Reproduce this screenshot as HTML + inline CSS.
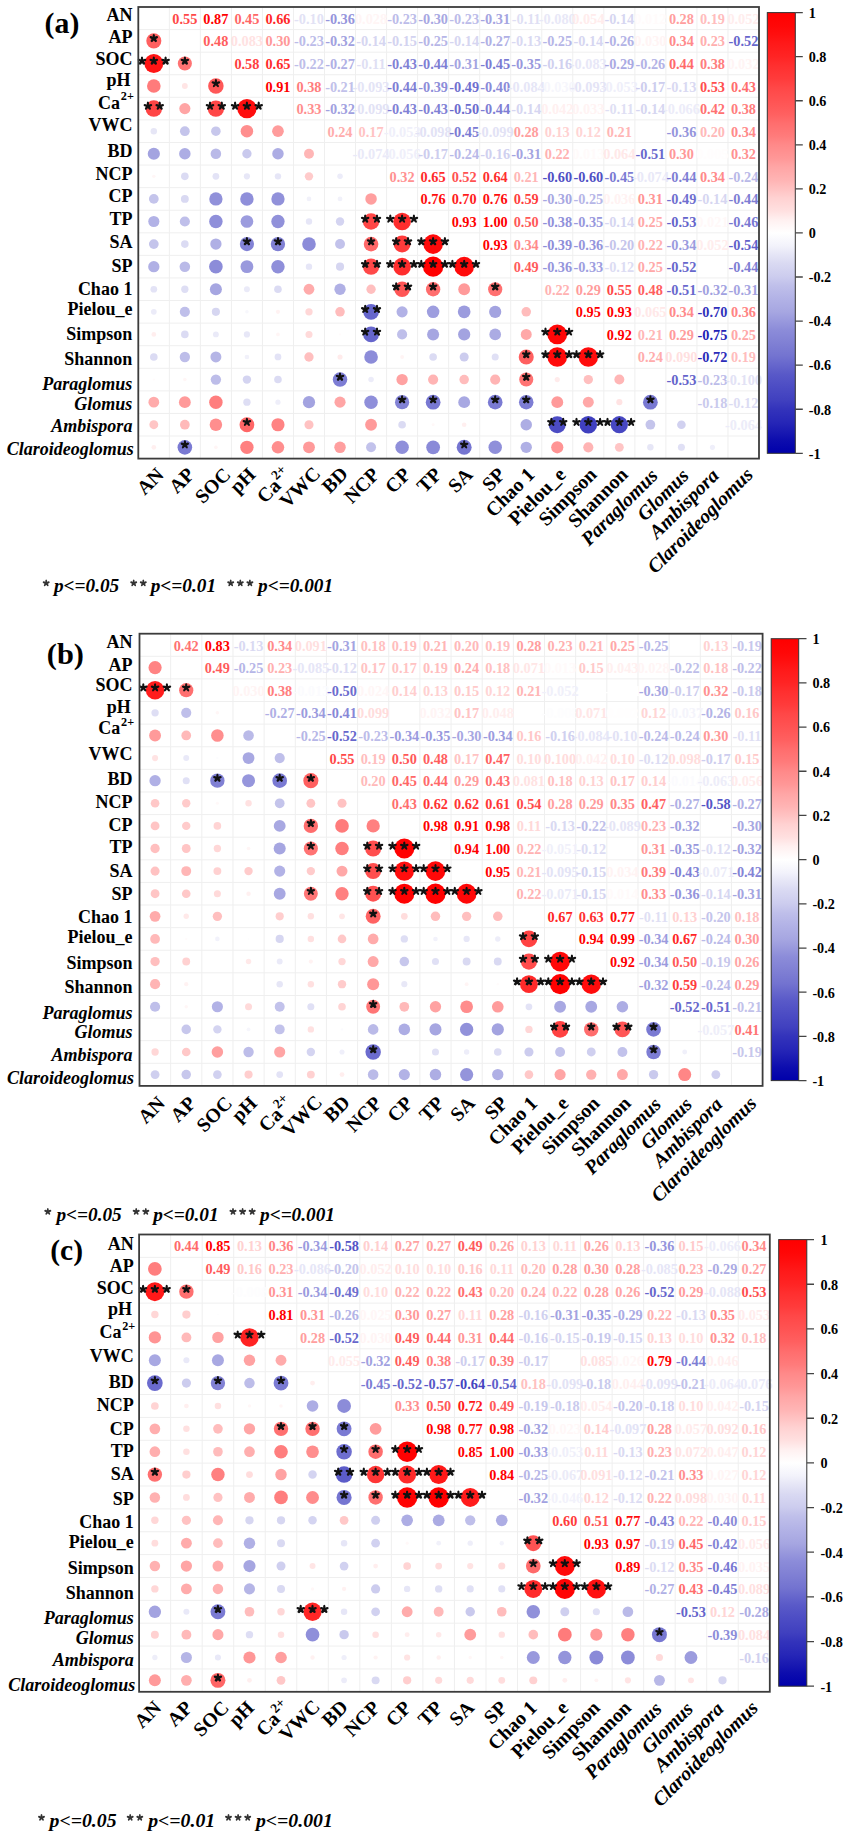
<!DOCTYPE html>
<html><head><meta charset="utf-8"><style>
html,body{margin:0;padding:0;background:#fff;}
svg{display:block;}
</style></head><body>
<svg width="851" height="1838" viewBox="0 0 851 1838">
<rect width="851" height="1838" fill="#fff"/>
<path d="M169.34 7V458.6M138.3 29.58H759M200.37 7V458.6M138.3 52.16H759M231.41 7V458.6M138.3 74.74H759M262.44 7V458.6M138.3 97.32H759M293.48 7V458.6M138.3 119.9H759M324.51 7V458.6M138.3 142.48H759M355.55 7V458.6M138.3 165.06H759M386.58 7V458.6M138.3 187.64H759M417.62 7V458.6M138.3 210.22H759M448.65 7V458.6M138.3 232.8H759M479.69 7V458.6M138.3 255.38H759M510.72 7V458.6M138.3 277.96H759M541.76 7V458.6M138.3 300.54H759M572.79 7V458.6M138.3 323.12H759M603.83 7V458.6M138.3 345.7H759M634.86 7V458.6M138.3 368.28H759M665.89 7V458.6M138.3 390.86H759M696.93 7V458.6M138.3 413.44H759M727.97 7V458.6M138.3 436.02H759" stroke="#efefef" stroke-width="1" fill="none"/>
<circle cx="153.82" cy="40.87" r="7.54" fill="#ff6060"/>
<circle cx="153.82" cy="63.45" r="9.48" fill="#ff1515"/>
<circle cx="184.85" cy="63.45" r="7.04" fill="#ff7373"/>
<circle cx="153.82" cy="86.03" r="6.82" fill="#ff7b7b"/>
<circle cx="184.85" cy="86.03" r="2.93" fill="#ffe5e5"/>
<circle cx="215.89" cy="86.03" r="7.74" fill="#ff5858"/>
<circle cx="153.82" cy="108.61" r="8.25" fill="#ff4444"/>
<circle cx="184.85" cy="108.61" r="5.57" fill="#ffa5a5"/>
<circle cx="215.89" cy="108.61" r="8.19" fill="#ff4747"/>
<circle cx="246.92" cy="108.61" r="9.69" fill="#ff0e0e"/>
<circle cx="153.82" cy="131.19" r="3.21" fill="#e6e6f6"/>
<circle cx="184.85" cy="131.19" r="4.87" fill="#c4c4eb"/>
<circle cx="215.89" cy="131.19" r="4.77" fill="#c7c7ec"/>
<circle cx="246.92" cy="131.19" r="6.26" fill="#ff8e8e"/>
<circle cx="277.96" cy="131.19" r="5.84" fill="#ff9c9c"/>
<circle cx="153.82" cy="153.77" r="6.1" fill="#a3a3e0"/>
<circle cx="184.85" cy="153.77" r="5.75" fill="#adade4"/>
<circle cx="215.89" cy="153.77" r="5.28" fill="#babae8"/>
<circle cx="246.92" cy="153.77" r="4.66" fill="#c9c9ed"/>
<circle cx="277.96" cy="153.77" r="5.75" fill="#adade4"/>
<circle cx="308.99" cy="153.77" r="4.98" fill="#ffb6b6"/>
<circle cx="153.82" cy="176.35" r="1.7" fill="#fff6f6"/>
<circle cx="184.85" cy="176.35" r="3.8" fill="#dbdbf3"/>
<circle cx="215.89" cy="176.35" r="3.37" fill="#e3e3f6"/>
<circle cx="246.92" cy="176.35" r="3.1" fill="#e7e7f7"/>
<circle cx="277.96" cy="176.35" r="3.2" fill="#e6e6f7"/>
<circle cx="308.99" cy="176.35" r="4.19" fill="#ffcbcb"/>
<circle cx="340.03" cy="176.35" r="2.76" fill="#ececf9"/>
<circle cx="153.82" cy="198.93" r="4.87" fill="#c4c4eb"/>
<circle cx="184.85" cy="198.93" r="3.94" fill="#d9d9f2"/>
<circle cx="215.89" cy="198.93" r="6.66" fill="#9191da"/>
<circle cx="246.92" cy="198.93" r="6.74" fill="#8f8fda"/>
<circle cx="277.96" cy="198.93" r="6.66" fill="#9191da"/>
<circle cx="308.99" cy="198.93" r="2.34" fill="#f1f1fa"/>
<circle cx="340.03" cy="198.93" r="2.4" fill="#f1f1fa"/>
<circle cx="371.06" cy="198.93" r="5.75" fill="#ff9f9f"/>
<circle cx="153.82" cy="221.51" r="5.57" fill="#b2b2e6"/>
<circle cx="184.85" cy="221.51" r="5.08" fill="#bfbfea"/>
<circle cx="215.89" cy="221.51" r="6.74" fill="#8f8fda"/>
<circle cx="246.92" cy="221.51" r="6.35" fill="#9c9cde"/>
<circle cx="277.96" cy="221.51" r="6.66" fill="#9191da"/>
<circle cx="308.99" cy="221.51" r="3.18" fill="#e6e6f7"/>
<circle cx="340.03" cy="221.51" r="4.19" fill="#d4d4f1"/>
<circle cx="371.06" cy="221.51" r="8.19" fill="#ff4747"/>
<circle cx="402.1" cy="221.51" r="8.86" fill="#ff2d2d"/>
<circle cx="153.82" cy="244.09" r="4.87" fill="#c4c4eb"/>
<circle cx="184.85" cy="244.09" r="3.8" fill="#dbdbf3"/>
<circle cx="215.89" cy="244.09" r="5.66" fill="#b0b0e5"/>
<circle cx="246.92" cy="244.09" r="7.11" fill="#8282d5"/>
<circle cx="277.96" cy="244.09" r="7.18" fill="#8080d4"/>
<circle cx="308.99" cy="244.09" r="6.82" fill="#8c8cd9"/>
<circle cx="340.03" cy="244.09" r="4.98" fill="#c2c2eb"/>
<circle cx="371.06" cy="244.09" r="7.33" fill="#ff6868"/>
<circle cx="402.1" cy="244.09" r="8.5" fill="#ff3b3b"/>
<circle cx="433.13" cy="244.09" r="9.8" fill="#ff0a0a"/>
<circle cx="153.82" cy="266.67" r="5.66" fill="#b0b0e5"/>
<circle cx="184.85" cy="266.67" r="5.28" fill="#babae8"/>
<circle cx="215.89" cy="266.67" r="6.82" fill="#8c8cd9"/>
<circle cx="246.92" cy="266.67" r="6.43" fill="#9999dd"/>
<circle cx="277.96" cy="266.67" r="6.74" fill="#8f8fda"/>
<circle cx="308.99" cy="266.67" r="3.2" fill="#e6e6f7"/>
<circle cx="340.03" cy="266.67" r="4.06" fill="#d6d6f1"/>
<circle cx="371.06" cy="266.67" r="8.13" fill="#ff4949"/>
<circle cx="402.1" cy="266.67" r="8.86" fill="#ff2d2d"/>
<circle cx="433.13" cy="266.67" r="10.16" fill="#ff0000"/>
<circle cx="464.17" cy="266.67" r="9.8" fill="#ff0a0a"/>
<circle cx="153.82" cy="289.25" r="3.37" fill="#e3e3f6"/>
<circle cx="184.85" cy="289.25" r="3.66" fill="#dedef4"/>
<circle cx="215.89" cy="289.25" r="6.01" fill="#a6a6e1"/>
<circle cx="246.92" cy="289.25" r="2.94" fill="#eaeaf8"/>
<circle cx="277.96" cy="289.25" r="3.8" fill="#dbdbf3"/>
<circle cx="308.99" cy="289.25" r="5.38" fill="#ffabab"/>
<circle cx="340.03" cy="289.25" r="5.66" fill="#b0b0e5"/>
<circle cx="371.06" cy="289.25" r="4.66" fill="#ffbfbf"/>
<circle cx="402.1" cy="289.25" r="7.8" fill="#ff5656"/>
<circle cx="433.13" cy="289.25" r="7.18" fill="#ff6d6d"/>
<circle cx="464.17" cy="289.25" r="5.92" fill="#ff9a9a"/>
<circle cx="495.2" cy="289.25" r="7.11" fill="#ff7070"/>
<circle cx="153.82" cy="311.83" r="2.87" fill="#ebebf8"/>
<circle cx="184.85" cy="311.83" r="5.08" fill="#bfbfea"/>
<circle cx="215.89" cy="311.83" r="4.06" fill="#d6d6f1"/>
<circle cx="246.92" cy="311.83" r="1.76" fill="#f7f7fc"/>
<circle cx="277.96" cy="311.83" r="2.08" fill="#fff2f2"/>
<circle cx="308.99" cy="311.83" r="3.66" fill="#ffd7d7"/>
<circle cx="340.03" cy="311.83" r="4.77" fill="#ffbcbc"/>
<circle cx="371.06" cy="311.83" r="7.87" fill="#6666cc"/>
<circle cx="402.1" cy="311.83" r="5.57" fill="#b2b2e6"/>
<circle cx="433.13" cy="311.83" r="6.26" fill="#9e9edf"/>
<circle cx="464.17" cy="311.83" r="6.35" fill="#9c9cde"/>
<circle cx="495.2" cy="311.83" r="6.1" fill="#a3a3e0"/>
<circle cx="526.24" cy="311.83" r="4.77" fill="#ffbcbc"/>
<circle cx="153.82" cy="334.41" r="2.36" fill="#ffeeee"/>
<circle cx="184.85" cy="334.41" r="3.8" fill="#dbdbf3"/>
<circle cx="215.89" cy="334.41" r="2.93" fill="#eaeaf8"/>
<circle cx="246.92" cy="334.41" r="3.1" fill="#e7e7f7"/>
<circle cx="277.96" cy="334.41" r="1.85" fill="#fff5f5"/>
<circle cx="308.99" cy="334.41" r="3.52" fill="#ffdada"/>
<circle cx="340.03" cy="334.41" r="1.16" fill="#fffbfb"/>
<circle cx="371.06" cy="334.41" r="7.87" fill="#6666cc"/>
<circle cx="402.1" cy="334.41" r="5.08" fill="#bfbfea"/>
<circle cx="433.13" cy="334.41" r="6.01" fill="#a6a6e1"/>
<circle cx="464.17" cy="334.41" r="6.1" fill="#a3a3e0"/>
<circle cx="495.2" cy="334.41" r="5.84" fill="#ababe3"/>
<circle cx="526.24" cy="334.41" r="5.47" fill="#ffa8a8"/>
<circle cx="557.27" cy="334.41" r="9.9" fill="#ff0707"/>
<circle cx="153.82" cy="356.99" r="3.8" fill="#dbdbf3"/>
<circle cx="184.85" cy="356.99" r="5.18" fill="#bdbde9"/>
<circle cx="215.89" cy="356.99" r="5.47" fill="#b5b5e6"/>
<circle cx="246.92" cy="356.99" r="2.34" fill="#f1f1fa"/>
<circle cx="277.96" cy="356.99" r="3.37" fill="#e3e3f6"/>
<circle cx="308.99" cy="356.99" r="4.66" fill="#ffbfbf"/>
<circle cx="340.03" cy="356.99" r="2.57" fill="#ffebeb"/>
<circle cx="371.06" cy="356.99" r="6.82" fill="#8c8cd9"/>
<circle cx="402.1" cy="356.99" r="1.93" fill="#fff4f4"/>
<circle cx="433.13" cy="356.99" r="3.8" fill="#dbdbf3"/>
<circle cx="464.17" cy="356.99" r="4.54" fill="#ccccee"/>
<circle cx="495.2" cy="356.99" r="3.52" fill="#e0e0f5"/>
<circle cx="526.24" cy="356.99" r="7.54" fill="#ff6060"/>
<circle cx="557.27" cy="356.99" r="9.8" fill="#ff0a0a"/>
<circle cx="588.31" cy="356.99" r="9.75" fill="#ff0c0c"/>
<circle cx="153.82" cy="379.57" r="1.11" fill="#fffbfb"/>
<circle cx="184.85" cy="379.57" r="1.76" fill="#fff6f6"/>
<circle cx="215.89" cy="379.57" r="5.18" fill="#bdbde9"/>
<circle cx="246.92" cy="379.57" r="4.19" fill="#d4d4f1"/>
<circle cx="277.96" cy="379.57" r="3.8" fill="#dbdbf3"/>
<circle cx="340.03" cy="379.57" r="7.26" fill="#7d7dd4"/>
<circle cx="371.06" cy="379.57" r="2.76" fill="#ececf9"/>
<circle cx="402.1" cy="379.57" r="5.66" fill="#ffa2a2"/>
<circle cx="433.13" cy="379.57" r="5.08" fill="#ffb4b4"/>
<circle cx="464.17" cy="379.57" r="4.77" fill="#ffbcbc"/>
<circle cx="495.2" cy="379.57" r="5.08" fill="#ffb4b4"/>
<circle cx="526.24" cy="379.57" r="7.04" fill="#ff7373"/>
<circle cx="557.27" cy="379.57" r="2.59" fill="#ffebeb"/>
<circle cx="588.31" cy="379.57" r="4.66" fill="#ffbfbf"/>
<circle cx="619.34" cy="379.57" r="4.98" fill="#ffb6b6"/>
<circle cx="153.82" cy="402.15" r="5.38" fill="#ffabab"/>
<circle cx="184.85" cy="402.15" r="5.92" fill="#ff9a9a"/>
<circle cx="215.89" cy="402.15" r="6.74" fill="#ff7e7e"/>
<circle cx="246.92" cy="402.15" r="3.66" fill="#dedef4"/>
<circle cx="277.96" cy="402.15" r="2.61" fill="#eeeef9"/>
<circle cx="308.99" cy="402.15" r="6.1" fill="#a3a3e0"/>
<circle cx="340.03" cy="402.15" r="5.57" fill="#ffa5a5"/>
<circle cx="371.06" cy="402.15" r="6.74" fill="#8f8fda"/>
<circle cx="402.1" cy="402.15" r="7.11" fill="#8282d5"/>
<circle cx="433.13" cy="402.15" r="7.4" fill="#7878d2"/>
<circle cx="464.17" cy="402.15" r="5.92" fill="#a8a8e2"/>
<circle cx="495.2" cy="402.15" r="7.33" fill="#7a7ad3"/>
<circle cx="526.24" cy="402.15" r="7.26" fill="#7d7dd4"/>
<circle cx="557.27" cy="402.15" r="5.92" fill="#ff9a9a"/>
<circle cx="588.31" cy="402.15" r="5.47" fill="#ffa8a8"/>
<circle cx="619.34" cy="402.15" r="3.05" fill="#ffe3e3"/>
<circle cx="650.38" cy="402.15" r="7.4" fill="#7878d2"/>
<circle cx="153.82" cy="424.73" r="4.43" fill="#ffc5c5"/>
<circle cx="184.85" cy="424.73" r="4.87" fill="#ffb9b9"/>
<circle cx="215.89" cy="424.73" r="6.26" fill="#ff8e8e"/>
<circle cx="246.92" cy="424.73" r="7.4" fill="#ff6666"/>
<circle cx="277.96" cy="424.73" r="6.59" fill="#ff8383"/>
<circle cx="308.99" cy="424.73" r="4.54" fill="#ffc2c2"/>
<circle cx="340.03" cy="424.73" r="0.72" fill="#fffdfd"/>
<circle cx="371.06" cy="424.73" r="5.92" fill="#ff9a9a"/>
<circle cx="402.1" cy="424.73" r="3.8" fill="#dbdbf3"/>
<circle cx="433.13" cy="424.73" r="1.47" fill="#fff8f8"/>
<circle cx="464.17" cy="424.73" r="2.32" fill="#ffefef"/>
<circle cx="526.24" cy="424.73" r="5.75" fill="#adade4"/>
<circle cx="557.27" cy="424.73" r="8.5" fill="#4c4cc4"/>
<circle cx="588.31" cy="424.73" r="8.8" fill="#4040bf"/>
<circle cx="619.34" cy="424.73" r="8.62" fill="#4747c2"/>
<circle cx="650.38" cy="424.73" r="4.87" fill="#c4c4eb"/>
<circle cx="681.41" cy="424.73" r="4.31" fill="#d1d1f0"/>
<circle cx="153.82" cy="447.31" r="2.32" fill="#ffefef"/>
<circle cx="184.85" cy="447.31" r="7.33" fill="#7a7ad3"/>
<circle cx="215.89" cy="447.31" r="1.82" fill="#fff5f5"/>
<circle cx="246.92" cy="447.31" r="6.66" fill="#ff8080"/>
<circle cx="277.96" cy="447.31" r="6.26" fill="#ff8e8e"/>
<circle cx="308.99" cy="447.31" r="5.92" fill="#ff9a9a"/>
<circle cx="340.03" cy="447.31" r="5.75" fill="#ff9f9f"/>
<circle cx="371.06" cy="447.31" r="4.98" fill="#c2c2eb"/>
<circle cx="402.1" cy="447.31" r="6.74" fill="#8f8fda"/>
<circle cx="433.13" cy="447.31" r="6.89" fill="#8a8ad8"/>
<circle cx="464.17" cy="447.31" r="7.47" fill="#7575d1"/>
<circle cx="495.2" cy="447.31" r="6.74" fill="#8f8fda"/>
<circle cx="526.24" cy="447.31" r="5.66" fill="#b0b0e5"/>
<circle cx="557.27" cy="447.31" r="6.1" fill="#ff9494"/>
<circle cx="588.31" cy="447.31" r="5.08" fill="#ffb4b4"/>
<circle cx="619.34" cy="447.31" r="4.43" fill="#ffc5c5"/>
<circle cx="650.38" cy="447.31" r="3.21" fill="#e6e6f6"/>
<circle cx="681.41" cy="447.31" r="3.52" fill="#e0e0f5"/>
<circle cx="712.45" cy="447.31" r="2.57" fill="#efeffa"/>
<g font-family='"Liberation Serif", serif' font-weight="bold" font-size="14.3" text-anchor="middle"><text x="184.85" y="23.79" fill="#ff4848">0.55</text><text x="215.89" y="23.79" fill="#ff0000">0.87</text><text x="246.92" y="23.79" fill="#ff6767">0.45</text><text x="277.96" y="23.79" fill="#ff2828">0.66</text><text x="308.99" y="23.79" fill="#e2e2f5">-0.10</text><text x="340.03" y="23.79" fill="#9595dc">-0.36</text><text x="371.06" y="23.79" fill="#fff5f5">0.028</text><text x="402.1" y="23.79" fill="#bcbce9">-0.23</text><text x="433.13" y="23.79" fill="#a7a7e2">-0.30</text><text x="464.17" y="23.79" fill="#bcbce9">-0.23</text><text x="495.2" y="23.79" fill="#a4a4e1">-0.31</text><text x="526.24" y="23.79" fill="#dfdff4">-0.11</text><text x="557.27" y="23.79" fill="#e8e8f7">-0.080</text><text x="588.31" y="23.79" fill="#ffecec">0.054</text><text x="619.34" y="23.79" fill="#d6d6f1">-0.14</text><text x="650.38" y="23.79" fill="#fffbfb">0.012</text><text x="681.41" y="23.79" fill="#ff9e9e">0.28</text><text x="712.45" y="23.79" fill="#ffbdbd">0.19</text><text x="743.48" y="23.79" fill="#ffeded">0.052</text><text x="215.89" y="46.37" fill="#ff5e5e">0.48</text><text x="246.92" y="46.37" fill="#ffe2e2">0.083</text><text x="277.96" y="46.37" fill="#ff9898">0.30</text><text x="308.99" y="46.37" fill="#bcbce9">-0.23</text><text x="340.03" y="46.37" fill="#a1a1e0">-0.32</text><text x="371.06" y="46.37" fill="#d6d6f1">-0.14</text><text x="402.1" y="46.37" fill="#d3d3f0">-0.15</text><text x="433.13" y="46.37" fill="#b6b6e7">-0.25</text><text x="464.17" y="46.37" fill="#d6d6f1">-0.14</text><text x="495.2" y="46.37" fill="#b0b0e5">-0.27</text><text x="526.24" y="46.37" fill="#d9d9f2">-0.13</text><text x="557.27" y="46.37" fill="#b6b6e7">-0.25</text><text x="588.31" y="46.37" fill="#d6d6f1">-0.14</text><text x="619.34" y="46.37" fill="#b3b3e6">-0.26</text><text x="650.38" y="46.37" fill="#fff4f4">0.030</text><text x="681.41" y="46.37" fill="#ff8a8a">0.34</text><text x="712.45" y="46.37" fill="#ffafaf">0.23</text><text x="743.48" y="46.37" fill="#6767cc">-0.52</text><text x="246.92" y="68.95" fill="#ff4040">0.58</text><text x="277.96" y="68.95" fill="#ff2b2b">0.65</text><text x="308.99" y="68.95" fill="#bebee9">-0.22</text><text x="340.03" y="68.95" fill="#b0b0e5">-0.27</text><text x="371.06" y="68.95" fill="#dfdff4">-0.11</text><text x="402.1" y="68.95" fill="#8181d5">-0.43</text><text x="433.13" y="68.95" fill="#7e7ed4">-0.44</text><text x="464.17" y="68.95" fill="#a4a4e1">-0.31</text><text x="495.2" y="68.95" fill="#7b7bd3">-0.45</text><text x="526.24" y="68.95" fill="#9898dd">-0.35</text><text x="557.27" y="68.95" fill="#d0d0ef">-0.16</text><text x="588.31" y="68.95" fill="#e7e7f7">-0.083</text><text x="619.34" y="68.95" fill="#aaaae3">-0.29</text><text x="650.38" y="68.95" fill="#b3b3e6">-0.26</text><text x="681.41" y="68.95" fill="#ff6a6a">0.44</text><text x="712.45" y="68.95" fill="#ff7d7d">0.38</text><text x="743.48" y="68.95" fill="#fff4f4">0.032</text><text x="277.96" y="91.53" fill="#ff0000">0.91</text><text x="308.99" y="91.53" fill="#ff7d7d">0.38</text><text x="340.03" y="91.53" fill="#c1c1ea">-0.21</text><text x="371.06" y="91.53" fill="#e4e4f6">-0.093</text><text x="402.1" y="91.53" fill="#7e7ed4">-0.44</text><text x="433.13" y="91.53" fill="#8d8dd9">-0.39</text><text x="464.17" y="91.53" fill="#6f6fcf">-0.49</text><text x="495.2" y="91.53" fill="#8a8ad8">-0.40</text><text x="526.24" y="91.53" fill="#e6e6f7">-0.084</text><text x="557.27" y="91.53" fill="#f6f6fc">-0.030</text><text x="588.31" y="91.53" fill="#e4e4f6">-0.093</text><text x="619.34" y="91.53" fill="#efeffa">-0.053</text><text x="650.38" y="91.53" fill="#cdcdee">-0.17</text><text x="681.41" y="91.53" fill="#d9d9f2">-0.13</text><text x="712.45" y="91.53" fill="#ff4e4e">0.53</text><text x="743.48" y="91.53" fill="#ff6d6d">0.43</text><text x="308.99" y="114.11" fill="#ff8e8e">0.33</text><text x="340.03" y="114.11" fill="#a1a1e0">-0.32</text><text x="371.06" y="114.11" fill="#e2e2f5">-0.099</text><text x="402.1" y="114.11" fill="#8181d5">-0.43</text><text x="433.13" y="114.11" fill="#8181d5">-0.43</text><text x="464.17" y="114.11" fill="#6c6cce">-0.50</text><text x="495.2" y="114.11" fill="#7e7ed4">-0.44</text><text x="526.24" y="114.11" fill="#d6d6f1">-0.14</text><text x="557.27" y="114.11" fill="#fff0f0">0.042</text><text x="588.31" y="114.11" fill="#fff3f3">0.033</text><text x="619.34" y="114.11" fill="#dfdff4">-0.11</text><text x="650.38" y="114.11" fill="#d6d6f1">-0.14</text><text x="681.41" y="114.11" fill="#ececf9">-0.066</text><text x="712.45" y="114.11" fill="#ff7171">0.42</text><text x="743.48" y="114.11" fill="#ff7d7d">0.38</text><text x="340.03" y="136.69" fill="#ffacac">0.24</text><text x="371.06" y="136.69" fill="#ffc3c3">0.17</text><text x="402.1" y="136.69" fill="#efeffa">-0.053</text><text x="433.13" y="136.69" fill="#e2e2f5">-0.098</text><text x="464.17" y="136.69" fill="#7b7bd3">-0.45</text><text x="495.2" y="136.69" fill="#e2e2f5">-0.099</text><text x="526.24" y="136.69" fill="#ff9e9e">0.28</text><text x="557.27" y="136.69" fill="#ffd1d1">0.13</text><text x="588.31" y="136.69" fill="#ffd5d5">0.12</text><text x="619.34" y="136.69" fill="#ffb6b6">0.21</text><text x="650.38" y="136.69" fill="#ffffff">0.00</text><text x="681.41" y="136.69" fill="#9595dc">-0.36</text><text x="712.45" y="136.69" fill="#ffb9b9">0.20</text><text x="743.48" y="136.69" fill="#ff8a8a">0.34</text><text x="371.06" y="159.27" fill="#e9e9f8">-0.074</text><text x="402.1" y="159.27" fill="#efeffa">-0.056</text><text x="433.13" y="159.27" fill="#cdcdee">-0.17</text><text x="464.17" y="159.27" fill="#b9b9e8">-0.24</text><text x="495.2" y="159.27" fill="#d0d0ef">-0.16</text><text x="526.24" y="159.27" fill="#a4a4e1">-0.31</text><text x="557.27" y="159.27" fill="#ffb2b2">0.22</text><text x="588.31" y="159.27" fill="#fffafa">0.013</text><text x="619.34" y="159.27" fill="#ffe8e8">0.064</text><text x="650.38" y="159.27" fill="#6969cd">-0.51</text><text x="681.41" y="159.27" fill="#ff9898">0.30</text><text x="712.45" y="159.27" fill="#fffdfd">0.005</text><text x="743.48" y="159.27" fill="#ff9191">0.32</text><text x="402.1" y="181.85" fill="#ff9191">0.32</text><text x="433.13" y="181.85" fill="#ff2b2b">0.65</text><text x="464.17" y="181.85" fill="#ff5252">0.52</text><text x="495.2" y="181.85" fill="#ff2e2e">0.64</text><text x="526.24" y="181.85" fill="#ffb6b6">0.21</text><text x="557.27" y="181.85" fill="#4f4fc4">-0.60</text><text x="588.31" y="181.85" fill="#4f4fc4">-0.60</text><text x="619.34" y="181.85" fill="#7b7bd3">-0.45</text><text x="650.38" y="181.85" fill="#e9e9f8">-0.074</text><text x="681.41" y="181.85" fill="#7e7ed4">-0.44</text><text x="712.45" y="181.85" fill="#ff8a8a">0.34</text><text x="743.48" y="181.85" fill="#b9b9e8">-0.24</text><text x="433.13" y="204.43" fill="#ff0d0d">0.76</text><text x="464.17" y="204.43" fill="#ff1d1d">0.70</text><text x="495.2" y="204.43" fill="#ff0d0d">0.76</text><text x="526.24" y="204.43" fill="#ff3d3d">0.59</text><text x="557.27" y="204.43" fill="#a7a7e2">-0.30</text><text x="588.31" y="204.43" fill="#b6b6e7">-0.25</text><text x="619.34" y="204.43" fill="#fff2f2">0.036</text><text x="650.38" y="204.43" fill="#ff9494">0.31</text><text x="681.41" y="204.43" fill="#6f6fcf">-0.49</text><text x="712.45" y="204.43" fill="#d6d6f1">-0.14</text><text x="743.48" y="204.43" fill="#7e7ed4">-0.44</text><text x="464.17" y="227.01" fill="#ff0000">0.93</text><text x="495.2" y="227.01" fill="#ff0000">1.00</text><text x="526.24" y="227.01" fill="#ff5858">0.50</text><text x="557.27" y="227.01" fill="#9090da">-0.38</text><text x="588.31" y="227.01" fill="#9898dd">-0.35</text><text x="619.34" y="227.01" fill="#d6d6f1">-0.14</text><text x="650.38" y="227.01" fill="#ffa8a8">0.25</text><text x="681.41" y="227.01" fill="#6464cb">-0.53</text><text x="712.45" y="227.01" fill="#fff8f8">0.021</text><text x="743.48" y="227.01" fill="#7878d2">-0.46</text><text x="495.2" y="249.59" fill="#ff0000">0.93</text><text x="526.24" y="249.59" fill="#ff8a8a">0.34</text><text x="557.27" y="249.59" fill="#8d8dd9">-0.39</text><text x="588.31" y="249.59" fill="#9595dc">-0.36</text><text x="619.34" y="249.59" fill="#c4c4eb">-0.20</text><text x="650.38" y="249.59" fill="#ffb2b2">0.22</text><text x="681.41" y="249.59" fill="#9b9bde">-0.34</text><text x="712.45" y="249.59" fill="#ffeded">0.052</text><text x="743.48" y="249.59" fill="#6161ca">-0.54</text><text x="526.24" y="272.17" fill="#ff5b5b">0.49</text><text x="557.27" y="272.17" fill="#9595dc">-0.36</text><text x="588.31" y="272.17" fill="#9e9edf">-0.33</text><text x="619.34" y="272.17" fill="#dcdcf3">-0.12</text><text x="650.38" y="272.17" fill="#ffa8a8">0.25</text><text x="681.41" y="272.17" fill="#6767cc">-0.52</text><text x="712.45" y="272.17" fill="#ffffff">0.00</text><text x="743.48" y="272.17" fill="#7e7ed4">-0.44</text><text x="557.27" y="294.75" fill="#ffb2b2">0.22</text><text x="588.31" y="294.75" fill="#ff9b9b">0.29</text><text x="619.34" y="294.75" fill="#ff4848">0.55</text><text x="650.38" y="294.75" fill="#ff5e5e">0.48</text><text x="681.41" y="294.75" fill="#6969cd">-0.51</text><text x="712.45" y="294.75" fill="#a1a1e0">-0.32</text><text x="743.48" y="294.75" fill="#a4a4e1">-0.31</text><text x="588.31" y="317.33" fill="#ff0000">0.95</text><text x="619.34" y="317.33" fill="#ff0000">0.93</text><text x="650.38" y="317.33" fill="#ffe8e8">0.065</text><text x="681.41" y="317.33" fill="#ff8a8a">0.34</text><text x="712.45" y="317.33" fill="#3232bb">-0.70</text><text x="743.48" y="317.33" fill="#ff8484">0.36</text><text x="619.34" y="339.91" fill="#ff0000">0.92</text><text x="650.38" y="339.91" fill="#ffb6b6">0.21</text><text x="681.41" y="339.91" fill="#ff9b9b">0.29</text><text x="712.45" y="339.91" fill="#2323b6">-0.75</text><text x="743.48" y="339.91" fill="#ffa8a8">0.25</text><text x="650.38" y="362.49" fill="#ffacac">0.24</text><text x="681.41" y="362.49" fill="#ffdfdf">0.090</text><text x="712.45" y="362.49" fill="#2c2cb9">-0.72</text><text x="743.48" y="362.49" fill="#ffbdbd">0.19</text><text x="681.41" y="385.07" fill="#6464cb">-0.53</text><text x="712.45" y="385.07" fill="#bcbce9">-0.23</text><text x="743.48" y="385.07" fill="#e2e2f5">-0.100</text><text x="712.45" y="407.65" fill="#cacaed">-0.18</text><text x="743.48" y="407.65" fill="#dcdcf3">-0.12</text><text x="743.48" y="430.23" fill="#ececf9">-0.064</text></g>
<path fill="#111" d="M153.8 33.9A1.95 1.15 -90 1 0 153.8 37.8A1.95 1.15 -90 1 0 153.8 33.9ZM158.0 36.9A1.95 1.15 -18 1 0 154.3 38.1A1.95 1.15 -18 1 0 158.0 36.9ZM156.4 41.8A1.95 1.15 54 1 0 154.1 38.7A1.95 1.15 54 1 0 156.4 41.8ZM151.2 41.8A1.95 1.15 126 1 0 153.5 38.7A1.95 1.15 126 1 0 151.2 41.8ZM149.6 36.9A1.95 1.15 198 1 0 153.3 38.1A1.95 1.15 198 1 0 149.6 36.9ZM152.72 38.27a1.10 1.10 0 1 0 2.20 0a1.10 1.10 0 1 0 -2.20 0ZM142.0 56.4A1.95 1.15 -90 1 0 142.0 60.4A1.95 1.15 -90 1 0 142.0 56.4ZM146.2 59.5A1.95 1.15 -18 1 0 142.5 60.7A1.95 1.15 -18 1 0 146.2 59.5ZM144.6 64.4A1.95 1.15 54 1 0 142.3 61.3A1.95 1.15 54 1 0 144.6 64.4ZM139.4 64.4A1.95 1.15 126 1 0 141.7 61.3A1.95 1.15 126 1 0 139.4 64.4ZM137.8 59.5A1.95 1.15 198 1 0 141.5 60.7A1.95 1.15 198 1 0 137.8 59.5ZM140.92 60.85a1.10 1.10 0 1 0 2.20 0a1.10 1.10 0 1 0 -2.20 0ZM153.8 56.4A1.95 1.15 -90 1 0 153.8 60.4A1.95 1.15 -90 1 0 153.8 56.4ZM158.0 59.5A1.95 1.15 -18 1 0 154.3 60.7A1.95 1.15 -18 1 0 158.0 59.5ZM156.4 64.4A1.95 1.15 54 1 0 154.1 61.3A1.95 1.15 54 1 0 156.4 64.4ZM151.2 64.4A1.95 1.15 126 1 0 153.5 61.3A1.95 1.15 126 1 0 151.2 64.4ZM149.6 59.5A1.95 1.15 198 1 0 153.3 60.7A1.95 1.15 198 1 0 149.6 59.5ZM152.72 60.85a1.10 1.10 0 1 0 2.20 0a1.10 1.10 0 1 0 -2.20 0ZM165.6 56.4A1.95 1.15 -90 1 0 165.6 60.4A1.95 1.15 -90 1 0 165.6 56.4ZM169.8 59.5A1.95 1.15 -18 1 0 166.1 60.7A1.95 1.15 -18 1 0 169.8 59.5ZM168.2 64.4A1.95 1.15 54 1 0 165.9 61.3A1.95 1.15 54 1 0 168.2 64.4ZM163.0 64.4A1.95 1.15 126 1 0 165.3 61.3A1.95 1.15 126 1 0 163.0 64.4ZM161.4 59.5A1.95 1.15 198 1 0 165.1 60.7A1.95 1.15 198 1 0 161.4 59.5ZM164.52 60.85a1.10 1.10 0 1 0 2.20 0a1.10 1.10 0 1 0 -2.20 0ZM184.9 56.4A1.95 1.15 -90 1 0 184.9 60.4A1.95 1.15 -90 1 0 184.9 56.4ZM189.0 59.5A1.95 1.15 -18 1 0 185.3 60.7A1.95 1.15 -18 1 0 189.0 59.5ZM187.4 64.4A1.95 1.15 54 1 0 185.1 61.3A1.95 1.15 54 1 0 187.4 64.4ZM182.3 64.4A1.95 1.15 126 1 0 184.6 61.3A1.95 1.15 126 1 0 182.3 64.4ZM180.7 59.5A1.95 1.15 198 1 0 184.4 60.7A1.95 1.15 198 1 0 180.7 59.5ZM183.75 60.85a1.10 1.10 0 1 0 2.20 0a1.10 1.10 0 1 0 -2.20 0ZM215.9 79.0A1.95 1.15 -90 1 0 215.9 82.9A1.95 1.15 -90 1 0 215.9 79.0ZM220.1 82.1A1.95 1.15 -18 1 0 216.4 83.3A1.95 1.15 -18 1 0 220.1 82.1ZM218.5 87.0A1.95 1.15 54 1 0 216.2 83.8A1.95 1.15 54 1 0 218.5 87.0ZM213.3 87.0A1.95 1.15 126 1 0 215.6 83.8A1.95 1.15 126 1 0 213.3 87.0ZM211.7 82.1A1.95 1.15 198 1 0 215.4 83.3A1.95 1.15 198 1 0 211.7 82.1ZM214.79 83.43a1.10 1.10 0 1 0 2.20 0a1.10 1.10 0 1 0 -2.20 0ZM147.9 101.6A1.95 1.15 -90 1 0 147.9 105.5A1.95 1.15 -90 1 0 147.9 101.6ZM152.1 104.7A1.95 1.15 -18 1 0 148.4 105.9A1.95 1.15 -18 1 0 152.1 104.7ZM150.5 109.6A1.95 1.15 54 1 0 148.2 106.4A1.95 1.15 54 1 0 150.5 109.6ZM145.3 109.6A1.95 1.15 126 1 0 147.6 106.4A1.95 1.15 126 1 0 145.3 109.6ZM143.7 104.7A1.95 1.15 198 1 0 147.4 105.9A1.95 1.15 198 1 0 143.7 104.7ZM146.82 106.01a1.10 1.10 0 1 0 2.20 0a1.10 1.10 0 1 0 -2.20 0ZM159.7 101.6A1.95 1.15 -90 1 0 159.7 105.5A1.95 1.15 -90 1 0 159.7 101.6ZM163.9 104.7A1.95 1.15 -18 1 0 160.2 105.9A1.95 1.15 -18 1 0 163.9 104.7ZM162.3 109.6A1.95 1.15 54 1 0 160.0 106.4A1.95 1.15 54 1 0 162.3 109.6ZM157.1 109.6A1.95 1.15 126 1 0 159.4 106.4A1.95 1.15 126 1 0 157.1 109.6ZM155.5 104.7A1.95 1.15 198 1 0 159.2 105.9A1.95 1.15 198 1 0 155.5 104.7ZM158.62 106.01a1.10 1.10 0 1 0 2.20 0a1.10 1.10 0 1 0 -2.20 0ZM210.0 101.6A1.95 1.15 -90 1 0 210.0 105.5A1.95 1.15 -90 1 0 210.0 101.6ZM214.2 104.7A1.95 1.15 -18 1 0 210.5 105.9A1.95 1.15 -18 1 0 214.2 104.7ZM212.6 109.6A1.95 1.15 54 1 0 210.3 106.4A1.95 1.15 54 1 0 212.6 109.6ZM207.4 109.6A1.95 1.15 126 1 0 209.7 106.4A1.95 1.15 126 1 0 207.4 109.6ZM205.8 104.7A1.95 1.15 198 1 0 209.5 105.9A1.95 1.15 198 1 0 205.8 104.7ZM208.89 106.01a1.10 1.10 0 1 0 2.20 0a1.10 1.10 0 1 0 -2.20 0ZM221.8 101.6A1.95 1.15 -90 1 0 221.8 105.5A1.95 1.15 -90 1 0 221.8 101.6ZM226.0 104.7A1.95 1.15 -18 1 0 222.3 105.9A1.95 1.15 -18 1 0 226.0 104.7ZM224.4 109.6A1.95 1.15 54 1 0 222.1 106.4A1.95 1.15 54 1 0 224.4 109.6ZM219.2 109.6A1.95 1.15 126 1 0 221.5 106.4A1.95 1.15 126 1 0 219.2 109.6ZM217.6 104.7A1.95 1.15 198 1 0 221.3 105.9A1.95 1.15 198 1 0 217.6 104.7ZM220.69 106.01a1.10 1.10 0 1 0 2.20 0a1.10 1.10 0 1 0 -2.20 0ZM235.1 101.6A1.95 1.15 -90 1 0 235.1 105.5A1.95 1.15 -90 1 0 235.1 101.6ZM239.3 104.7A1.95 1.15 -18 1 0 235.6 105.9A1.95 1.15 -18 1 0 239.3 104.7ZM237.7 109.6A1.95 1.15 54 1 0 235.4 106.4A1.95 1.15 54 1 0 237.7 109.6ZM232.5 109.6A1.95 1.15 126 1 0 234.8 106.4A1.95 1.15 126 1 0 232.5 109.6ZM230.9 104.7A1.95 1.15 198 1 0 234.6 105.9A1.95 1.15 198 1 0 230.9 104.7ZM234.02 106.01a1.10 1.10 0 1 0 2.20 0a1.10 1.10 0 1 0 -2.20 0ZM246.9 101.6A1.95 1.15 -90 1 0 246.9 105.5A1.95 1.15 -90 1 0 246.9 101.6ZM251.1 104.7A1.95 1.15 -18 1 0 247.4 105.9A1.95 1.15 -18 1 0 251.1 104.7ZM249.5 109.6A1.95 1.15 54 1 0 247.2 106.4A1.95 1.15 54 1 0 249.5 109.6ZM244.3 109.6A1.95 1.15 126 1 0 246.6 106.4A1.95 1.15 126 1 0 244.3 109.6ZM242.7 104.7A1.95 1.15 198 1 0 246.4 105.9A1.95 1.15 198 1 0 242.7 104.7ZM245.82 106.01a1.10 1.10 0 1 0 2.20 0a1.10 1.10 0 1 0 -2.20 0ZM258.7 101.6A1.95 1.15 -90 1 0 258.7 105.5A1.95 1.15 -90 1 0 258.7 101.6ZM262.9 104.7A1.95 1.15 -18 1 0 259.2 105.9A1.95 1.15 -18 1 0 262.9 104.7ZM261.3 109.6A1.95 1.15 54 1 0 259.0 106.4A1.95 1.15 54 1 0 261.3 109.6ZM256.1 109.6A1.95 1.15 126 1 0 258.4 106.4A1.95 1.15 126 1 0 256.1 109.6ZM254.5 104.7A1.95 1.15 198 1 0 258.2 105.9A1.95 1.15 198 1 0 254.5 104.7ZM257.62 106.01a1.10 1.10 0 1 0 2.20 0a1.10 1.10 0 1 0 -2.20 0ZM365.2 214.5A1.95 1.15 -90 1 0 365.2 218.4A1.95 1.15 -90 1 0 365.2 214.5ZM369.3 217.6A1.95 1.15 -18 1 0 365.6 218.8A1.95 1.15 -18 1 0 369.3 217.6ZM367.7 222.5A1.95 1.15 54 1 0 365.5 219.3A1.95 1.15 54 1 0 367.7 222.5ZM362.6 222.5A1.95 1.15 126 1 0 364.9 219.3A1.95 1.15 126 1 0 362.6 222.5ZM361.0 217.6A1.95 1.15 198 1 0 364.7 218.8A1.95 1.15 198 1 0 361.0 217.6ZM364.06 218.91a1.10 1.10 0 1 0 2.20 0a1.10 1.10 0 1 0 -2.20 0ZM377.0 214.5A1.95 1.15 -90 1 0 377.0 218.4A1.95 1.15 -90 1 0 377.0 214.5ZM381.1 217.6A1.95 1.15 -18 1 0 377.4 218.8A1.95 1.15 -18 1 0 381.1 217.6ZM379.5 222.5A1.95 1.15 54 1 0 377.3 219.3A1.95 1.15 54 1 0 379.5 222.5ZM374.4 222.5A1.95 1.15 126 1 0 376.7 219.3A1.95 1.15 126 1 0 374.4 222.5ZM372.8 217.6A1.95 1.15 198 1 0 376.5 218.8A1.95 1.15 198 1 0 372.8 217.6ZM375.86 218.91a1.10 1.10 0 1 0 2.20 0a1.10 1.10 0 1 0 -2.20 0ZM390.3 214.5A1.95 1.15 -90 1 0 390.3 218.4A1.95 1.15 -90 1 0 390.3 214.5ZM394.5 217.6A1.95 1.15 -18 1 0 390.8 218.8A1.95 1.15 -18 1 0 394.5 217.6ZM392.9 222.5A1.95 1.15 54 1 0 390.6 219.3A1.95 1.15 54 1 0 392.9 222.5ZM387.7 222.5A1.95 1.15 126 1 0 390.0 219.3A1.95 1.15 126 1 0 387.7 222.5ZM386.1 217.6A1.95 1.15 198 1 0 389.8 218.8A1.95 1.15 198 1 0 386.1 217.6ZM389.20 218.91a1.10 1.10 0 1 0 2.20 0a1.10 1.10 0 1 0 -2.20 0ZM402.1 214.5A1.95 1.15 -90 1 0 402.1 218.4A1.95 1.15 -90 1 0 402.1 214.5ZM406.3 217.6A1.95 1.15 -18 1 0 402.6 218.8A1.95 1.15 -18 1 0 406.3 217.6ZM404.7 222.5A1.95 1.15 54 1 0 402.4 219.3A1.95 1.15 54 1 0 404.7 222.5ZM399.5 222.5A1.95 1.15 126 1 0 401.8 219.3A1.95 1.15 126 1 0 399.5 222.5ZM397.9 217.6A1.95 1.15 198 1 0 401.6 218.8A1.95 1.15 198 1 0 397.9 217.6ZM401.00 218.91a1.10 1.10 0 1 0 2.20 0a1.10 1.10 0 1 0 -2.20 0ZM413.9 214.5A1.95 1.15 -90 1 0 413.9 218.4A1.95 1.15 -90 1 0 413.9 214.5ZM418.1 217.6A1.95 1.15 -18 1 0 414.4 218.8A1.95 1.15 -18 1 0 418.1 217.6ZM416.5 222.5A1.95 1.15 54 1 0 414.2 219.3A1.95 1.15 54 1 0 416.5 222.5ZM411.3 222.5A1.95 1.15 126 1 0 413.6 219.3A1.95 1.15 126 1 0 411.3 222.5ZM409.7 217.6A1.95 1.15 198 1 0 413.4 218.8A1.95 1.15 198 1 0 409.7 217.6ZM412.80 218.91a1.10 1.10 0 1 0 2.20 0a1.10 1.10 0 1 0 -2.20 0ZM246.9 237.1A1.95 1.15 -90 1 0 246.9 241.0A1.95 1.15 -90 1 0 246.9 237.1ZM251.1 240.1A1.95 1.15 -18 1 0 247.4 241.3A1.95 1.15 -18 1 0 251.1 240.1ZM249.5 245.0A1.95 1.15 54 1 0 247.2 241.9A1.95 1.15 54 1 0 249.5 245.0ZM244.3 245.0A1.95 1.15 126 1 0 246.6 241.9A1.95 1.15 126 1 0 244.3 245.0ZM242.7 240.1A1.95 1.15 198 1 0 246.4 241.3A1.95 1.15 198 1 0 242.7 240.1ZM245.82 241.49a1.10 1.10 0 1 0 2.20 0a1.10 1.10 0 1 0 -2.20 0ZM278.0 237.1A1.95 1.15 -90 1 0 278.0 241.0A1.95 1.15 -90 1 0 278.0 237.1ZM282.1 240.1A1.95 1.15 -18 1 0 278.4 241.3A1.95 1.15 -18 1 0 282.1 240.1ZM280.5 245.0A1.95 1.15 54 1 0 278.3 241.9A1.95 1.15 54 1 0 280.5 245.0ZM275.4 245.0A1.95 1.15 126 1 0 277.7 241.9A1.95 1.15 126 1 0 275.4 245.0ZM273.8 240.1A1.95 1.15 198 1 0 277.5 241.3A1.95 1.15 198 1 0 273.8 240.1ZM276.86 241.49a1.10 1.10 0 1 0 2.20 0a1.10 1.10 0 1 0 -2.20 0ZM371.1 237.1A1.95 1.15 -90 1 0 371.1 241.0A1.95 1.15 -90 1 0 371.1 237.1ZM375.2 240.1A1.95 1.15 -18 1 0 371.5 241.3A1.95 1.15 -18 1 0 375.2 240.1ZM373.6 245.0A1.95 1.15 54 1 0 371.4 241.9A1.95 1.15 54 1 0 373.6 245.0ZM368.5 245.0A1.95 1.15 126 1 0 370.8 241.9A1.95 1.15 126 1 0 368.5 245.0ZM366.9 240.1A1.95 1.15 198 1 0 370.6 241.3A1.95 1.15 198 1 0 366.9 240.1ZM369.96 241.49a1.10 1.10 0 1 0 2.20 0a1.10 1.10 0 1 0 -2.20 0ZM396.2 237.1A1.95 1.15 -90 1 0 396.2 241.0A1.95 1.15 -90 1 0 396.2 237.1ZM400.4 240.1A1.95 1.15 -18 1 0 396.7 241.3A1.95 1.15 -18 1 0 400.4 240.1ZM398.8 245.0A1.95 1.15 54 1 0 396.5 241.9A1.95 1.15 54 1 0 398.8 245.0ZM393.6 245.0A1.95 1.15 126 1 0 395.9 241.9A1.95 1.15 126 1 0 393.6 245.0ZM392.0 240.1A1.95 1.15 198 1 0 395.7 241.3A1.95 1.15 198 1 0 392.0 240.1ZM395.10 241.49a1.10 1.10 0 1 0 2.20 0a1.10 1.10 0 1 0 -2.20 0ZM408.0 237.1A1.95 1.15 -90 1 0 408.0 241.0A1.95 1.15 -90 1 0 408.0 237.1ZM412.2 240.1A1.95 1.15 -18 1 0 408.5 241.3A1.95 1.15 -18 1 0 412.2 240.1ZM410.6 245.0A1.95 1.15 54 1 0 408.3 241.9A1.95 1.15 54 1 0 410.6 245.0ZM405.4 245.0A1.95 1.15 126 1 0 407.7 241.9A1.95 1.15 126 1 0 405.4 245.0ZM403.8 240.1A1.95 1.15 198 1 0 407.5 241.3A1.95 1.15 198 1 0 403.8 240.1ZM406.90 241.49a1.10 1.10 0 1 0 2.20 0a1.10 1.10 0 1 0 -2.20 0ZM421.3 237.1A1.95 1.15 -90 1 0 421.3 241.0A1.95 1.15 -90 1 0 421.3 237.1ZM425.5 240.1A1.95 1.15 -18 1 0 421.8 241.3A1.95 1.15 -18 1 0 425.5 240.1ZM423.9 245.0A1.95 1.15 54 1 0 421.6 241.9A1.95 1.15 54 1 0 423.9 245.0ZM418.7 245.0A1.95 1.15 126 1 0 421.0 241.9A1.95 1.15 126 1 0 418.7 245.0ZM417.1 240.1A1.95 1.15 198 1 0 420.9 241.3A1.95 1.15 198 1 0 417.1 240.1ZM420.23 241.49a1.10 1.10 0 1 0 2.20 0a1.10 1.10 0 1 0 -2.20 0ZM433.1 237.1A1.95 1.15 -90 1 0 433.1 241.0A1.95 1.15 -90 1 0 433.1 237.1ZM437.3 240.1A1.95 1.15 -18 1 0 433.6 241.3A1.95 1.15 -18 1 0 437.3 240.1ZM435.7 245.0A1.95 1.15 54 1 0 433.4 241.9A1.95 1.15 54 1 0 435.7 245.0ZM430.5 245.0A1.95 1.15 126 1 0 432.8 241.9A1.95 1.15 126 1 0 430.5 245.0ZM428.9 240.1A1.95 1.15 198 1 0 432.7 241.3A1.95 1.15 198 1 0 428.9 240.1ZM432.03 241.49a1.10 1.10 0 1 0 2.20 0a1.10 1.10 0 1 0 -2.20 0ZM444.9 237.1A1.95 1.15 -90 1 0 444.9 241.0A1.95 1.15 -90 1 0 444.9 237.1ZM449.1 240.1A1.95 1.15 -18 1 0 445.4 241.3A1.95 1.15 -18 1 0 449.1 240.1ZM447.5 245.0A1.95 1.15 54 1 0 445.2 241.9A1.95 1.15 54 1 0 447.5 245.0ZM442.3 245.0A1.95 1.15 126 1 0 444.6 241.9A1.95 1.15 126 1 0 442.3 245.0ZM440.7 240.1A1.95 1.15 198 1 0 444.5 241.3A1.95 1.15 198 1 0 440.7 240.1ZM443.83 241.49a1.10 1.10 0 1 0 2.20 0a1.10 1.10 0 1 0 -2.20 0ZM365.2 259.7A1.95 1.15 -90 1 0 365.2 263.6A1.95 1.15 -90 1 0 365.2 259.7ZM369.3 262.7A1.95 1.15 -18 1 0 365.6 263.9A1.95 1.15 -18 1 0 369.3 262.7ZM367.7 267.6A1.95 1.15 54 1 0 365.5 264.5A1.95 1.15 54 1 0 367.7 267.6ZM362.6 267.6A1.95 1.15 126 1 0 364.9 264.5A1.95 1.15 126 1 0 362.6 267.6ZM361.0 262.7A1.95 1.15 198 1 0 364.7 263.9A1.95 1.15 198 1 0 361.0 262.7ZM364.06 264.07a1.10 1.10 0 1 0 2.20 0a1.10 1.10 0 1 0 -2.20 0ZM377.0 259.7A1.95 1.15 -90 1 0 377.0 263.6A1.95 1.15 -90 1 0 377.0 259.7ZM381.1 262.7A1.95 1.15 -18 1 0 377.4 263.9A1.95 1.15 -18 1 0 381.1 262.7ZM379.5 267.6A1.95 1.15 54 1 0 377.3 264.5A1.95 1.15 54 1 0 379.5 267.6ZM374.4 267.6A1.95 1.15 126 1 0 376.7 264.5A1.95 1.15 126 1 0 374.4 267.6ZM372.8 262.7A1.95 1.15 198 1 0 376.5 263.9A1.95 1.15 198 1 0 372.8 262.7ZM375.86 264.07a1.10 1.10 0 1 0 2.20 0a1.10 1.10 0 1 0 -2.20 0ZM390.3 259.7A1.95 1.15 -90 1 0 390.3 263.6A1.95 1.15 -90 1 0 390.3 259.7ZM394.5 262.7A1.95 1.15 -18 1 0 390.8 263.9A1.95 1.15 -18 1 0 394.5 262.7ZM392.9 267.6A1.95 1.15 54 1 0 390.6 264.5A1.95 1.15 54 1 0 392.9 267.6ZM387.7 267.6A1.95 1.15 126 1 0 390.0 264.5A1.95 1.15 126 1 0 387.7 267.6ZM386.1 262.7A1.95 1.15 198 1 0 389.8 263.9A1.95 1.15 198 1 0 386.1 262.7ZM389.20 264.07a1.10 1.10 0 1 0 2.20 0a1.10 1.10 0 1 0 -2.20 0ZM402.1 259.7A1.95 1.15 -90 1 0 402.1 263.6A1.95 1.15 -90 1 0 402.1 259.7ZM406.3 262.7A1.95 1.15 -18 1 0 402.6 263.9A1.95 1.15 -18 1 0 406.3 262.7ZM404.7 267.6A1.95 1.15 54 1 0 402.4 264.5A1.95 1.15 54 1 0 404.7 267.6ZM399.5 267.6A1.95 1.15 126 1 0 401.8 264.5A1.95 1.15 126 1 0 399.5 267.6ZM397.9 262.7A1.95 1.15 198 1 0 401.6 263.9A1.95 1.15 198 1 0 397.9 262.7ZM401.00 264.07a1.10 1.10 0 1 0 2.20 0a1.10 1.10 0 1 0 -2.20 0ZM413.9 259.7A1.95 1.15 -90 1 0 413.9 263.6A1.95 1.15 -90 1 0 413.9 259.7ZM418.1 262.7A1.95 1.15 -18 1 0 414.4 263.9A1.95 1.15 -18 1 0 418.1 262.7ZM416.5 267.6A1.95 1.15 54 1 0 414.2 264.5A1.95 1.15 54 1 0 416.5 267.6ZM411.3 267.6A1.95 1.15 126 1 0 413.6 264.5A1.95 1.15 126 1 0 411.3 267.6ZM409.7 262.7A1.95 1.15 198 1 0 413.4 263.9A1.95 1.15 198 1 0 409.7 262.7ZM412.80 264.07a1.10 1.10 0 1 0 2.20 0a1.10 1.10 0 1 0 -2.20 0ZM421.3 259.7A1.95 1.15 -90 1 0 421.3 263.6A1.95 1.15 -90 1 0 421.3 259.7ZM425.5 262.7A1.95 1.15 -18 1 0 421.8 263.9A1.95 1.15 -18 1 0 425.5 262.7ZM423.9 267.6A1.95 1.15 54 1 0 421.6 264.5A1.95 1.15 54 1 0 423.9 267.6ZM418.7 267.6A1.95 1.15 126 1 0 421.0 264.5A1.95 1.15 126 1 0 418.7 267.6ZM417.1 262.7A1.95 1.15 198 1 0 420.9 263.9A1.95 1.15 198 1 0 417.1 262.7ZM420.23 264.07a1.10 1.10 0 1 0 2.20 0a1.10 1.10 0 1 0 -2.20 0ZM433.1 259.7A1.95 1.15 -90 1 0 433.1 263.6A1.95 1.15 -90 1 0 433.1 259.7ZM437.3 262.7A1.95 1.15 -18 1 0 433.6 263.9A1.95 1.15 -18 1 0 437.3 262.7ZM435.7 267.6A1.95 1.15 54 1 0 433.4 264.5A1.95 1.15 54 1 0 435.7 267.6ZM430.5 267.6A1.95 1.15 126 1 0 432.8 264.5A1.95 1.15 126 1 0 430.5 267.6ZM428.9 262.7A1.95 1.15 198 1 0 432.7 263.9A1.95 1.15 198 1 0 428.9 262.7ZM432.03 264.07a1.10 1.10 0 1 0 2.20 0a1.10 1.10 0 1 0 -2.20 0ZM444.9 259.7A1.95 1.15 -90 1 0 444.9 263.6A1.95 1.15 -90 1 0 444.9 259.7ZM449.1 262.7A1.95 1.15 -18 1 0 445.4 263.9A1.95 1.15 -18 1 0 449.1 262.7ZM447.5 267.6A1.95 1.15 54 1 0 445.2 264.5A1.95 1.15 54 1 0 447.5 267.6ZM442.3 267.6A1.95 1.15 126 1 0 444.6 264.5A1.95 1.15 126 1 0 442.3 267.6ZM440.7 262.7A1.95 1.15 198 1 0 444.5 263.9A1.95 1.15 198 1 0 440.7 262.7ZM443.83 264.07a1.10 1.10 0 1 0 2.20 0a1.10 1.10 0 1 0 -2.20 0ZM452.4 259.7A1.95 1.15 -90 1 0 452.4 263.6A1.95 1.15 -90 1 0 452.4 259.7ZM456.6 262.7A1.95 1.15 -18 1 0 452.8 263.9A1.95 1.15 -18 1 0 456.6 262.7ZM455.0 267.6A1.95 1.15 54 1 0 452.7 264.5A1.95 1.15 54 1 0 455.0 267.6ZM449.8 267.6A1.95 1.15 126 1 0 452.1 264.5A1.95 1.15 126 1 0 449.8 267.6ZM448.2 262.7A1.95 1.15 198 1 0 451.9 263.9A1.95 1.15 198 1 0 448.2 262.7ZM451.27 264.07a1.10 1.10 0 1 0 2.20 0a1.10 1.10 0 1 0 -2.20 0ZM464.2 259.7A1.95 1.15 -90 1 0 464.2 263.6A1.95 1.15 -90 1 0 464.2 259.7ZM468.4 262.7A1.95 1.15 -18 1 0 464.6 263.9A1.95 1.15 -18 1 0 468.4 262.7ZM466.8 267.6A1.95 1.15 54 1 0 464.5 264.5A1.95 1.15 54 1 0 466.8 267.6ZM461.6 267.6A1.95 1.15 126 1 0 463.9 264.5A1.95 1.15 126 1 0 461.6 267.6ZM460.0 262.7A1.95 1.15 198 1 0 463.7 263.9A1.95 1.15 198 1 0 460.0 262.7ZM463.07 264.07a1.10 1.10 0 1 0 2.20 0a1.10 1.10 0 1 0 -2.20 0ZM476.0 259.7A1.95 1.15 -90 1 0 476.0 263.6A1.95 1.15 -90 1 0 476.0 259.7ZM480.2 262.7A1.95 1.15 -18 1 0 476.4 263.9A1.95 1.15 -18 1 0 480.2 262.7ZM478.6 267.6A1.95 1.15 54 1 0 476.3 264.5A1.95 1.15 54 1 0 478.6 267.6ZM473.4 267.6A1.95 1.15 126 1 0 475.7 264.5A1.95 1.15 126 1 0 473.4 267.6ZM471.8 262.7A1.95 1.15 198 1 0 475.5 263.9A1.95 1.15 198 1 0 471.8 262.7ZM474.87 264.07a1.10 1.10 0 1 0 2.20 0a1.10 1.10 0 1 0 -2.20 0ZM396.2 282.2A1.95 1.15 -90 1 0 396.2 286.1A1.95 1.15 -90 1 0 396.2 282.2ZM400.4 285.3A1.95 1.15 -18 1 0 396.7 286.5A1.95 1.15 -18 1 0 400.4 285.3ZM398.8 290.2A1.95 1.15 54 1 0 396.5 287.1A1.95 1.15 54 1 0 398.8 290.2ZM393.6 290.2A1.95 1.15 126 1 0 395.9 287.1A1.95 1.15 126 1 0 393.6 290.2ZM392.0 285.3A1.95 1.15 198 1 0 395.7 286.5A1.95 1.15 198 1 0 392.0 285.3ZM395.10 286.65a1.10 1.10 0 1 0 2.20 0a1.10 1.10 0 1 0 -2.20 0ZM408.0 282.2A1.95 1.15 -90 1 0 408.0 286.1A1.95 1.15 -90 1 0 408.0 282.2ZM412.2 285.3A1.95 1.15 -18 1 0 408.5 286.5A1.95 1.15 -18 1 0 412.2 285.3ZM410.6 290.2A1.95 1.15 54 1 0 408.3 287.1A1.95 1.15 54 1 0 410.6 290.2ZM405.4 290.2A1.95 1.15 126 1 0 407.7 287.1A1.95 1.15 126 1 0 405.4 290.2ZM403.8 285.3A1.95 1.15 198 1 0 407.5 286.5A1.95 1.15 198 1 0 403.8 285.3ZM406.90 286.65a1.10 1.10 0 1 0 2.20 0a1.10 1.10 0 1 0 -2.20 0ZM433.1 282.2A1.95 1.15 -90 1 0 433.1 286.1A1.95 1.15 -90 1 0 433.1 282.2ZM437.3 285.3A1.95 1.15 -18 1 0 433.6 286.5A1.95 1.15 -18 1 0 437.3 285.3ZM435.7 290.2A1.95 1.15 54 1 0 433.4 287.1A1.95 1.15 54 1 0 435.7 290.2ZM430.5 290.2A1.95 1.15 126 1 0 432.8 287.1A1.95 1.15 126 1 0 430.5 290.2ZM428.9 285.3A1.95 1.15 198 1 0 432.7 286.5A1.95 1.15 198 1 0 428.9 285.3ZM432.03 286.65a1.10 1.10 0 1 0 2.20 0a1.10 1.10 0 1 0 -2.20 0ZM495.2 282.2A1.95 1.15 -90 1 0 495.2 286.1A1.95 1.15 -90 1 0 495.2 282.2ZM499.4 285.3A1.95 1.15 -18 1 0 495.7 286.5A1.95 1.15 -18 1 0 499.4 285.3ZM497.8 290.2A1.95 1.15 54 1 0 495.5 287.1A1.95 1.15 54 1 0 497.8 290.2ZM492.6 290.2A1.95 1.15 126 1 0 494.9 287.1A1.95 1.15 126 1 0 492.6 290.2ZM491.0 285.3A1.95 1.15 198 1 0 494.7 286.5A1.95 1.15 198 1 0 491.0 285.3ZM494.10 286.65a1.10 1.10 0 1 0 2.20 0a1.10 1.10 0 1 0 -2.20 0ZM365.2 304.8A1.95 1.15 -90 1 0 365.2 308.7A1.95 1.15 -90 1 0 365.2 304.8ZM369.3 307.9A1.95 1.15 -18 1 0 365.6 309.1A1.95 1.15 -18 1 0 369.3 307.9ZM367.7 312.8A1.95 1.15 54 1 0 365.5 309.6A1.95 1.15 54 1 0 367.7 312.8ZM362.6 312.8A1.95 1.15 126 1 0 364.9 309.6A1.95 1.15 126 1 0 362.6 312.8ZM361.0 307.9A1.95 1.15 198 1 0 364.7 309.1A1.95 1.15 198 1 0 361.0 307.9ZM364.06 309.23a1.10 1.10 0 1 0 2.20 0a1.10 1.10 0 1 0 -2.20 0ZM377.0 304.8A1.95 1.15 -90 1 0 377.0 308.7A1.95 1.15 -90 1 0 377.0 304.8ZM381.1 307.9A1.95 1.15 -18 1 0 377.4 309.1A1.95 1.15 -18 1 0 381.1 307.9ZM379.5 312.8A1.95 1.15 54 1 0 377.3 309.6A1.95 1.15 54 1 0 379.5 312.8ZM374.4 312.8A1.95 1.15 126 1 0 376.7 309.6A1.95 1.15 126 1 0 374.4 312.8ZM372.8 307.9A1.95 1.15 198 1 0 376.5 309.1A1.95 1.15 198 1 0 372.8 307.9ZM375.86 309.23a1.10 1.10 0 1 0 2.20 0a1.10 1.10 0 1 0 -2.20 0ZM365.2 327.4A1.95 1.15 -90 1 0 365.2 331.3A1.95 1.15 -90 1 0 365.2 327.4ZM369.3 330.5A1.95 1.15 -18 1 0 365.6 331.7A1.95 1.15 -18 1 0 369.3 330.5ZM367.7 335.4A1.95 1.15 54 1 0 365.5 332.2A1.95 1.15 54 1 0 367.7 335.4ZM362.6 335.4A1.95 1.15 126 1 0 364.9 332.2A1.95 1.15 126 1 0 362.6 335.4ZM361.0 330.5A1.95 1.15 198 1 0 364.7 331.7A1.95 1.15 198 1 0 361.0 330.5ZM364.06 331.81a1.10 1.10 0 1 0 2.20 0a1.10 1.10 0 1 0 -2.20 0ZM377.0 327.4A1.95 1.15 -90 1 0 377.0 331.3A1.95 1.15 -90 1 0 377.0 327.4ZM381.1 330.5A1.95 1.15 -18 1 0 377.4 331.7A1.95 1.15 -18 1 0 381.1 330.5ZM379.5 335.4A1.95 1.15 54 1 0 377.3 332.2A1.95 1.15 54 1 0 379.5 335.4ZM374.4 335.4A1.95 1.15 126 1 0 376.7 332.2A1.95 1.15 126 1 0 374.4 335.4ZM372.8 330.5A1.95 1.15 198 1 0 376.5 331.7A1.95 1.15 198 1 0 372.8 330.5ZM375.86 331.81a1.10 1.10 0 1 0 2.20 0a1.10 1.10 0 1 0 -2.20 0ZM545.5 327.4A1.95 1.15 -90 1 0 545.5 331.3A1.95 1.15 -90 1 0 545.5 327.4ZM549.7 330.5A1.95 1.15 -18 1 0 545.9 331.7A1.95 1.15 -18 1 0 549.7 330.5ZM548.1 335.4A1.95 1.15 54 1 0 545.8 332.2A1.95 1.15 54 1 0 548.1 335.4ZM542.9 335.4A1.95 1.15 126 1 0 545.2 332.2A1.95 1.15 126 1 0 542.9 335.4ZM541.3 330.5A1.95 1.15 198 1 0 545.0 331.7A1.95 1.15 198 1 0 541.3 330.5ZM544.37 331.81a1.10 1.10 0 1 0 2.20 0a1.10 1.10 0 1 0 -2.20 0ZM557.3 327.4A1.95 1.15 -90 1 0 557.3 331.3A1.95 1.15 -90 1 0 557.3 327.4ZM561.5 330.5A1.95 1.15 -18 1 0 557.7 331.7A1.95 1.15 -18 1 0 561.5 330.5ZM559.9 335.4A1.95 1.15 54 1 0 557.6 332.2A1.95 1.15 54 1 0 559.9 335.4ZM554.7 335.4A1.95 1.15 126 1 0 557.0 332.2A1.95 1.15 126 1 0 554.7 335.4ZM553.1 330.5A1.95 1.15 198 1 0 556.8 331.7A1.95 1.15 198 1 0 553.1 330.5ZM556.17 331.81a1.10 1.10 0 1 0 2.20 0a1.10 1.10 0 1 0 -2.20 0ZM569.1 327.4A1.95 1.15 -90 1 0 569.1 331.3A1.95 1.15 -90 1 0 569.1 327.4ZM573.3 330.5A1.95 1.15 -18 1 0 569.5 331.7A1.95 1.15 -18 1 0 573.3 330.5ZM571.7 335.4A1.95 1.15 54 1 0 569.4 332.2A1.95 1.15 54 1 0 571.7 335.4ZM566.5 335.4A1.95 1.15 126 1 0 568.8 332.2A1.95 1.15 126 1 0 566.5 335.4ZM564.9 330.5A1.95 1.15 198 1 0 568.6 331.7A1.95 1.15 198 1 0 564.9 330.5ZM567.97 331.81a1.10 1.10 0 1 0 2.20 0a1.10 1.10 0 1 0 -2.20 0ZM526.2 350.0A1.95 1.15 -90 1 0 526.2 353.9A1.95 1.15 -90 1 0 526.2 350.0ZM530.4 353.0A1.95 1.15 -18 1 0 526.7 354.2A1.95 1.15 -18 1 0 530.4 353.0ZM528.8 357.9A1.95 1.15 54 1 0 526.5 354.8A1.95 1.15 54 1 0 528.8 357.9ZM523.7 357.9A1.95 1.15 126 1 0 525.9 354.8A1.95 1.15 126 1 0 523.7 357.9ZM522.1 353.0A1.95 1.15 198 1 0 525.8 354.2A1.95 1.15 198 1 0 522.1 353.0ZM525.14 354.39a1.10 1.10 0 1 0 2.20 0a1.10 1.10 0 1 0 -2.20 0ZM545.5 350.0A1.95 1.15 -90 1 0 545.5 353.9A1.95 1.15 -90 1 0 545.5 350.0ZM549.7 353.0A1.95 1.15 -18 1 0 545.9 354.2A1.95 1.15 -18 1 0 549.7 353.0ZM548.1 357.9A1.95 1.15 54 1 0 545.8 354.8A1.95 1.15 54 1 0 548.1 357.9ZM542.9 357.9A1.95 1.15 126 1 0 545.2 354.8A1.95 1.15 126 1 0 542.9 357.9ZM541.3 353.0A1.95 1.15 198 1 0 545.0 354.2A1.95 1.15 198 1 0 541.3 353.0ZM544.37 354.39a1.10 1.10 0 1 0 2.20 0a1.10 1.10 0 1 0 -2.20 0ZM557.3 350.0A1.95 1.15 -90 1 0 557.3 353.9A1.95 1.15 -90 1 0 557.3 350.0ZM561.5 353.0A1.95 1.15 -18 1 0 557.7 354.2A1.95 1.15 -18 1 0 561.5 353.0ZM559.9 357.9A1.95 1.15 54 1 0 557.6 354.8A1.95 1.15 54 1 0 559.9 357.9ZM554.7 357.9A1.95 1.15 126 1 0 557.0 354.8A1.95 1.15 126 1 0 554.7 357.9ZM553.1 353.0A1.95 1.15 198 1 0 556.8 354.2A1.95 1.15 198 1 0 553.1 353.0ZM556.17 354.39a1.10 1.10 0 1 0 2.20 0a1.10 1.10 0 1 0 -2.20 0ZM569.1 350.0A1.95 1.15 -90 1 0 569.1 353.9A1.95 1.15 -90 1 0 569.1 350.0ZM573.3 353.0A1.95 1.15 -18 1 0 569.5 354.2A1.95 1.15 -18 1 0 573.3 353.0ZM571.7 357.9A1.95 1.15 54 1 0 569.4 354.8A1.95 1.15 54 1 0 571.7 357.9ZM566.5 357.9A1.95 1.15 126 1 0 568.8 354.8A1.95 1.15 126 1 0 566.5 357.9ZM564.9 353.0A1.95 1.15 198 1 0 568.6 354.2A1.95 1.15 198 1 0 564.9 353.0ZM567.97 354.39a1.10 1.10 0 1 0 2.20 0a1.10 1.10 0 1 0 -2.20 0ZM576.5 350.0A1.95 1.15 -90 1 0 576.5 353.9A1.95 1.15 -90 1 0 576.5 350.0ZM580.7 353.0A1.95 1.15 -18 1 0 577.0 354.2A1.95 1.15 -18 1 0 580.7 353.0ZM579.1 357.9A1.95 1.15 54 1 0 576.8 354.8A1.95 1.15 54 1 0 579.1 357.9ZM573.9 357.9A1.95 1.15 126 1 0 576.2 354.8A1.95 1.15 126 1 0 573.9 357.9ZM572.3 353.0A1.95 1.15 198 1 0 576.0 354.2A1.95 1.15 198 1 0 572.3 353.0ZM575.41 354.39a1.10 1.10 0 1 0 2.20 0a1.10 1.10 0 1 0 -2.20 0ZM588.3 350.0A1.95 1.15 -90 1 0 588.3 353.9A1.95 1.15 -90 1 0 588.3 350.0ZM592.5 353.0A1.95 1.15 -18 1 0 588.8 354.2A1.95 1.15 -18 1 0 592.5 353.0ZM590.9 357.9A1.95 1.15 54 1 0 588.6 354.8A1.95 1.15 54 1 0 590.9 357.9ZM585.7 357.9A1.95 1.15 126 1 0 588.0 354.8A1.95 1.15 126 1 0 585.7 357.9ZM584.1 353.0A1.95 1.15 198 1 0 587.8 354.2A1.95 1.15 198 1 0 584.1 353.0ZM587.21 354.39a1.10 1.10 0 1 0 2.20 0a1.10 1.10 0 1 0 -2.20 0ZM600.1 350.0A1.95 1.15 -90 1 0 600.1 353.9A1.95 1.15 -90 1 0 600.1 350.0ZM604.3 353.0A1.95 1.15 -18 1 0 600.6 354.2A1.95 1.15 -18 1 0 604.3 353.0ZM602.7 357.9A1.95 1.15 54 1 0 600.4 354.8A1.95 1.15 54 1 0 602.7 357.9ZM597.5 357.9A1.95 1.15 126 1 0 599.8 354.8A1.95 1.15 126 1 0 597.5 357.9ZM595.9 353.0A1.95 1.15 198 1 0 599.6 354.2A1.95 1.15 198 1 0 595.9 353.0ZM599.01 354.39a1.10 1.10 0 1 0 2.20 0a1.10 1.10 0 1 0 -2.20 0ZM340.0 372.6A1.95 1.15 -90 1 0 340.0 376.5A1.95 1.15 -90 1 0 340.0 372.6ZM344.2 375.6A1.95 1.15 -18 1 0 340.5 376.8A1.95 1.15 -18 1 0 344.2 375.6ZM342.6 380.5A1.95 1.15 54 1 0 340.3 377.4A1.95 1.15 54 1 0 342.6 380.5ZM337.4 380.5A1.95 1.15 126 1 0 339.7 377.4A1.95 1.15 126 1 0 337.4 380.5ZM335.8 375.6A1.95 1.15 198 1 0 339.6 376.8A1.95 1.15 198 1 0 335.8 375.6ZM338.93 376.97a1.10 1.10 0 1 0 2.20 0a1.10 1.10 0 1 0 -2.20 0ZM526.2 372.6A1.95 1.15 -90 1 0 526.2 376.5A1.95 1.15 -90 1 0 526.2 372.6ZM530.4 375.6A1.95 1.15 -18 1 0 526.7 376.8A1.95 1.15 -18 1 0 530.4 375.6ZM528.8 380.5A1.95 1.15 54 1 0 526.5 377.4A1.95 1.15 54 1 0 528.8 380.5ZM523.7 380.5A1.95 1.15 126 1 0 525.9 377.4A1.95 1.15 126 1 0 523.7 380.5ZM522.1 375.6A1.95 1.15 198 1 0 525.8 376.8A1.95 1.15 198 1 0 522.1 375.6ZM525.14 376.97a1.10 1.10 0 1 0 2.20 0a1.10 1.10 0 1 0 -2.20 0ZM402.1 395.2A1.95 1.15 -90 1 0 402.1 399.1A1.95 1.15 -90 1 0 402.1 395.2ZM406.3 398.2A1.95 1.15 -18 1 0 402.6 399.4A1.95 1.15 -18 1 0 406.3 398.2ZM404.7 403.1A1.95 1.15 54 1 0 402.4 400.0A1.95 1.15 54 1 0 404.7 403.1ZM399.5 403.1A1.95 1.15 126 1 0 401.8 400.0A1.95 1.15 126 1 0 399.5 403.1ZM397.9 398.2A1.95 1.15 198 1 0 401.6 399.4A1.95 1.15 198 1 0 397.9 398.2ZM401.00 399.55a1.10 1.10 0 1 0 2.20 0a1.10 1.10 0 1 0 -2.20 0ZM433.1 395.2A1.95 1.15 -90 1 0 433.1 399.1A1.95 1.15 -90 1 0 433.1 395.2ZM437.3 398.2A1.95 1.15 -18 1 0 433.6 399.4A1.95 1.15 -18 1 0 437.3 398.2ZM435.7 403.1A1.95 1.15 54 1 0 433.4 400.0A1.95 1.15 54 1 0 435.7 403.1ZM430.5 403.1A1.95 1.15 126 1 0 432.8 400.0A1.95 1.15 126 1 0 430.5 403.1ZM428.9 398.2A1.95 1.15 198 1 0 432.7 399.4A1.95 1.15 198 1 0 428.9 398.2ZM432.03 399.55a1.10 1.10 0 1 0 2.20 0a1.10 1.10 0 1 0 -2.20 0ZM495.2 395.2A1.95 1.15 -90 1 0 495.2 399.1A1.95 1.15 -90 1 0 495.2 395.2ZM499.4 398.2A1.95 1.15 -18 1 0 495.7 399.4A1.95 1.15 -18 1 0 499.4 398.2ZM497.8 403.1A1.95 1.15 54 1 0 495.5 400.0A1.95 1.15 54 1 0 497.8 403.1ZM492.6 403.1A1.95 1.15 126 1 0 494.9 400.0A1.95 1.15 126 1 0 492.6 403.1ZM491.0 398.2A1.95 1.15 198 1 0 494.7 399.4A1.95 1.15 198 1 0 491.0 398.2ZM494.10 399.55a1.10 1.10 0 1 0 2.20 0a1.10 1.10 0 1 0 -2.20 0ZM526.2 395.2A1.95 1.15 -90 1 0 526.2 399.1A1.95 1.15 -90 1 0 526.2 395.2ZM530.4 398.2A1.95 1.15 -18 1 0 526.7 399.4A1.95 1.15 -18 1 0 530.4 398.2ZM528.8 403.1A1.95 1.15 54 1 0 526.5 400.0A1.95 1.15 54 1 0 528.8 403.1ZM523.7 403.1A1.95 1.15 126 1 0 525.9 400.0A1.95 1.15 126 1 0 523.7 403.1ZM522.1 398.2A1.95 1.15 198 1 0 525.8 399.4A1.95 1.15 198 1 0 522.1 398.2ZM525.14 399.55a1.10 1.10 0 1 0 2.20 0a1.10 1.10 0 1 0 -2.20 0ZM650.4 395.2A1.95 1.15 -90 1 0 650.4 399.1A1.95 1.15 -90 1 0 650.4 395.2ZM654.6 398.2A1.95 1.15 -18 1 0 650.9 399.4A1.95 1.15 -18 1 0 654.6 398.2ZM653.0 403.1A1.95 1.15 54 1 0 650.7 400.0A1.95 1.15 54 1 0 653.0 403.1ZM647.8 403.1A1.95 1.15 126 1 0 650.1 400.0A1.95 1.15 126 1 0 647.8 403.1ZM646.2 398.2A1.95 1.15 198 1 0 649.9 399.4A1.95 1.15 198 1 0 646.2 398.2ZM649.28 399.55a1.10 1.10 0 1 0 2.20 0a1.10 1.10 0 1 0 -2.20 0ZM246.9 417.7A1.95 1.15 -90 1 0 246.9 421.6A1.95 1.15 -90 1 0 246.9 417.7ZM251.1 420.8A1.95 1.15 -18 1 0 247.4 422.0A1.95 1.15 -18 1 0 251.1 420.8ZM249.5 425.7A1.95 1.15 54 1 0 247.2 422.5A1.95 1.15 54 1 0 249.5 425.7ZM244.3 425.7A1.95 1.15 126 1 0 246.6 422.5A1.95 1.15 126 1 0 244.3 425.7ZM242.7 420.8A1.95 1.15 198 1 0 246.4 422.0A1.95 1.15 198 1 0 242.7 420.8ZM245.82 422.13a1.10 1.10 0 1 0 2.20 0a1.10 1.10 0 1 0 -2.20 0ZM551.4 417.7A1.95 1.15 -90 1 0 551.4 421.6A1.95 1.15 -90 1 0 551.4 417.7ZM555.6 420.8A1.95 1.15 -18 1 0 551.8 422.0A1.95 1.15 -18 1 0 555.6 420.8ZM554.0 425.7A1.95 1.15 54 1 0 551.7 422.5A1.95 1.15 54 1 0 554.0 425.7ZM548.8 425.7A1.95 1.15 126 1 0 551.1 422.5A1.95 1.15 126 1 0 548.8 425.7ZM547.2 420.8A1.95 1.15 198 1 0 550.9 422.0A1.95 1.15 198 1 0 547.2 420.8ZM550.27 422.13a1.10 1.10 0 1 0 2.20 0a1.10 1.10 0 1 0 -2.20 0ZM563.2 417.7A1.95 1.15 -90 1 0 563.2 421.6A1.95 1.15 -90 1 0 563.2 417.7ZM567.4 420.8A1.95 1.15 -18 1 0 563.6 422.0A1.95 1.15 -18 1 0 567.4 420.8ZM565.8 425.7A1.95 1.15 54 1 0 563.5 422.5A1.95 1.15 54 1 0 565.8 425.7ZM560.6 425.7A1.95 1.15 126 1 0 562.9 422.5A1.95 1.15 126 1 0 560.6 425.7ZM559.0 420.8A1.95 1.15 198 1 0 562.7 422.0A1.95 1.15 198 1 0 559.0 420.8ZM562.07 422.13a1.10 1.10 0 1 0 2.20 0a1.10 1.10 0 1 0 -2.20 0ZM576.5 417.7A1.95 1.15 -90 1 0 576.5 421.6A1.95 1.15 -90 1 0 576.5 417.7ZM580.7 420.8A1.95 1.15 -18 1 0 577.0 422.0A1.95 1.15 -18 1 0 580.7 420.8ZM579.1 425.7A1.95 1.15 54 1 0 576.8 422.5A1.95 1.15 54 1 0 579.1 425.7ZM573.9 425.7A1.95 1.15 126 1 0 576.2 422.5A1.95 1.15 126 1 0 573.9 425.7ZM572.3 420.8A1.95 1.15 198 1 0 576.0 422.0A1.95 1.15 198 1 0 572.3 420.8ZM575.41 422.13a1.10 1.10 0 1 0 2.20 0a1.10 1.10 0 1 0 -2.20 0ZM588.3 417.7A1.95 1.15 -90 1 0 588.3 421.6A1.95 1.15 -90 1 0 588.3 417.7ZM592.5 420.8A1.95 1.15 -18 1 0 588.8 422.0A1.95 1.15 -18 1 0 592.5 420.8ZM590.9 425.7A1.95 1.15 54 1 0 588.6 422.5A1.95 1.15 54 1 0 590.9 425.7ZM585.7 425.7A1.95 1.15 126 1 0 588.0 422.5A1.95 1.15 126 1 0 585.7 425.7ZM584.1 420.8A1.95 1.15 198 1 0 587.8 422.0A1.95 1.15 198 1 0 584.1 420.8ZM587.21 422.13a1.10 1.10 0 1 0 2.20 0a1.10 1.10 0 1 0 -2.20 0ZM600.1 417.7A1.95 1.15 -90 1 0 600.1 421.6A1.95 1.15 -90 1 0 600.1 417.7ZM604.3 420.8A1.95 1.15 -18 1 0 600.6 422.0A1.95 1.15 -18 1 0 604.3 420.8ZM602.7 425.7A1.95 1.15 54 1 0 600.4 422.5A1.95 1.15 54 1 0 602.7 425.7ZM597.5 425.7A1.95 1.15 126 1 0 599.8 422.5A1.95 1.15 126 1 0 597.5 425.7ZM595.9 420.8A1.95 1.15 198 1 0 599.6 422.0A1.95 1.15 198 1 0 595.9 420.8ZM599.01 422.13a1.10 1.10 0 1 0 2.20 0a1.10 1.10 0 1 0 -2.20 0ZM607.5 417.7A1.95 1.15 -90 1 0 607.5 421.6A1.95 1.15 -90 1 0 607.5 417.7ZM611.7 420.8A1.95 1.15 -18 1 0 608.0 422.0A1.95 1.15 -18 1 0 611.7 420.8ZM610.1 425.7A1.95 1.15 54 1 0 607.8 422.5A1.95 1.15 54 1 0 610.1 425.7ZM605.0 425.7A1.95 1.15 126 1 0 607.2 422.5A1.95 1.15 126 1 0 605.0 425.7ZM603.4 420.8A1.95 1.15 198 1 0 607.1 422.0A1.95 1.15 198 1 0 603.4 420.8ZM606.44 422.13a1.10 1.10 0 1 0 2.20 0a1.10 1.10 0 1 0 -2.20 0ZM619.3 417.7A1.95 1.15 -90 1 0 619.3 421.6A1.95 1.15 -90 1 0 619.3 417.7ZM623.5 420.8A1.95 1.15 -18 1 0 619.8 422.0A1.95 1.15 -18 1 0 623.5 420.8ZM621.9 425.7A1.95 1.15 54 1 0 619.6 422.5A1.95 1.15 54 1 0 621.9 425.7ZM616.8 425.7A1.95 1.15 126 1 0 619.0 422.5A1.95 1.15 126 1 0 616.8 425.7ZM615.2 420.8A1.95 1.15 198 1 0 618.9 422.0A1.95 1.15 198 1 0 615.2 420.8ZM618.24 422.13a1.10 1.10 0 1 0 2.20 0a1.10 1.10 0 1 0 -2.20 0ZM631.1 417.7A1.95 1.15 -90 1 0 631.1 421.6A1.95 1.15 -90 1 0 631.1 417.7ZM635.3 420.8A1.95 1.15 -18 1 0 631.6 422.0A1.95 1.15 -18 1 0 635.3 420.8ZM633.7 425.7A1.95 1.15 54 1 0 631.4 422.5A1.95 1.15 54 1 0 633.7 425.7ZM628.6 425.7A1.95 1.15 126 1 0 630.8 422.5A1.95 1.15 126 1 0 628.6 425.7ZM627.0 420.8A1.95 1.15 198 1 0 630.7 422.0A1.95 1.15 198 1 0 627.0 420.8ZM630.04 422.13a1.10 1.10 0 1 0 2.20 0a1.10 1.10 0 1 0 -2.20 0ZM184.9 440.3A1.95 1.15 -90 1 0 184.9 444.2A1.95 1.15 -90 1 0 184.9 440.3ZM189.0 443.4A1.95 1.15 -18 1 0 185.3 444.6A1.95 1.15 -18 1 0 189.0 443.4ZM187.4 448.3A1.95 1.15 54 1 0 185.1 445.1A1.95 1.15 54 1 0 187.4 448.3ZM182.3 448.3A1.95 1.15 126 1 0 184.6 445.1A1.95 1.15 126 1 0 182.3 448.3ZM180.7 443.4A1.95 1.15 198 1 0 184.4 444.6A1.95 1.15 198 1 0 180.7 443.4ZM183.75 444.71a1.10 1.10 0 1 0 2.20 0a1.10 1.10 0 1 0 -2.20 0ZM464.2 440.3A1.95 1.15 -90 1 0 464.2 444.2A1.95 1.15 -90 1 0 464.2 440.3ZM468.4 443.4A1.95 1.15 -18 1 0 464.6 444.6A1.95 1.15 -18 1 0 468.4 443.4ZM466.8 448.3A1.95 1.15 54 1 0 464.5 445.1A1.95 1.15 54 1 0 466.8 448.3ZM461.6 448.3A1.95 1.15 126 1 0 463.9 445.1A1.95 1.15 126 1 0 461.6 448.3ZM460.0 443.4A1.95 1.15 198 1 0 463.7 444.6A1.95 1.15 198 1 0 460.0 443.4ZM463.07 444.71a1.10 1.10 0 1 0 2.20 0a1.10 1.10 0 1 0 -2.20 0Z"/>
<rect x="138.3" y="7" width="620.7" height="451.6" fill="none" stroke="#3c3c3c" stroke-width="1.8"/>
<g font-family='"Liberation Serif", serif' font-weight="bold" font-size="18.0" text-anchor="end" fill="#000"><text x="132.4" y="20.64">AN</text><text x="132.4" y="42.87">AP</text><text x="132.4" y="65">SOC</text><text x="130.6" y="85.53">pH</text><text x="133.9" y="108.66">Ca<tspan font-size="12.2" dy="-8.2" dx="0.8">2+</tspan></text><text x="132.4" y="131.39">VWC</text><text x="132.4" y="156.72">BD</text><text x="132.4" y="179.95">NCP</text><text x="132.4" y="202.48">CP</text><text x="132.4" y="224.71">TP</text><text x="132.4" y="248.44">SA</text><text x="132.4" y="271.97">SP</text><text x="132.4" y="294.5">Chao&#160;1</text><text x="132.4" y="314.73">Pielou_e</text><text x="132.4" y="339.86">Simpson</text><text x="132.4" y="365.29">Shannon</text><text x="132.4" y="389.72" font-style="italic">Paraglomus</text><text x="132.4" y="409.65" font-style="italic">Glomus</text><text x="132.4" y="431.88" font-style="italic">Ambispora</text><text x="133.9" y="455.11" font-style="italic">Claroideoglomus</text></g>
<g font-family='"Liberation Serif", serif' font-weight="bold" font-size="19.8" text-anchor="end" fill="#000"><text x="164.92" y="475.8" transform="rotate(-45 164.92 475.8)">AN</text><text x="195.65" y="475.8" transform="rotate(-45 195.65 475.8)">AP</text><text x="231.79" y="475.8" transform="rotate(-45 231.79 475.8)">SOC</text><text x="256.52" y="475.8" transform="rotate(-45 256.52 475.8)">pH</text><text x="292.76" y="476.3" transform="rotate(-45 292.76 476.3)">Ca<tspan font-size="13.5" dy="-8.5" dx="0.8">2+</tspan></text><text x="321.59" y="474.8" transform="rotate(-45 321.59 474.8)">VWC</text><text x="349.23" y="475" transform="rotate(-45 349.23 475)">BD</text><text x="380.66" y="475.8" transform="rotate(-45 380.66 475.8)">NCP</text><text x="411.7" y="475.8" transform="rotate(-45 411.7 475.8)">CP</text><text x="442.73" y="475.8" transform="rotate(-45 442.73 475.8)">TP</text><text x="473.77" y="475.8" transform="rotate(-45 473.77 475.8)">SA</text><text x="506.3" y="475.8" transform="rotate(-45 506.3 475.8)">SP</text><text x="535.84" y="475.8" transform="rotate(-45 535.84 475.8)">Chao&#160;1</text><text x="566.87" y="475.8" transform="rotate(-45 566.87 475.8)">Pielou_e</text><text x="597.91" y="475.8" transform="rotate(-45 597.91 475.8)">Simpson</text><text x="628.94" y="475.8" transform="rotate(-45 628.94 475.8)">Shannon</text><text x="658.98" y="476.8" transform="rotate(-45 658.98 476.8)" font-style="italic">Paraglomus</text><text x="690.01" y="476.8" transform="rotate(-45 690.01 476.8)" font-style="italic">Glomus</text><text x="720.05" y="476.8" transform="rotate(-45 720.05 476.8)" font-style="italic">Ambispora</text><text x="754.08" y="475.8" transform="rotate(-45 754.08 475.8)" font-style="italic">Claroideoglomus</text></g>
<defs><linearGradient id="ga" x1="0" y1="0" x2="0" y2="1">
<stop offset="0" stop-color="#ff0000"/>
<stop offset="0.03" stop-color="#ff0707"/>
<stop offset="0.05" stop-color="#ff0f0f"/>
<stop offset="0.07" stop-color="#ff1919"/>
<stop offset="0.1" stop-color="#ff2424"/>
<stop offset="0.12" stop-color="#ff2f2f"/>
<stop offset="0.15" stop-color="#ff3b3b"/>
<stop offset="0.17" stop-color="#ff4747"/>
<stop offset="0.2" stop-color="#ff5353"/>
<stop offset="0.23" stop-color="#ff6060"/>
<stop offset="0.25" stop-color="#ff6d6d"/>
<stop offset="0.28" stop-color="#ff7b7b"/>
<stop offset="0.3" stop-color="#ff8989"/>
<stop offset="0.33" stop-color="#ff9797"/>
<stop offset="0.35" stop-color="#ffa5a5"/>
<stop offset="0.38" stop-color="#ffb4b4"/>
<stop offset="0.4" stop-color="#ffc2c2"/>
<stop offset="0.42" stop-color="#ffd1d1"/>
<stop offset="0.45" stop-color="#ffe0e0"/>
<stop offset="0.47" stop-color="#fff0f0"/>
<stop offset="0.5" stop-color="#ffffff"/>
<stop offset="0.53" stop-color="#f2f2fb"/>
<stop offset="0.55" stop-color="#e5e5f6"/>
<stop offset="0.57" stop-color="#d9d9f2"/>
<stop offset="0.6" stop-color="#ccccee"/>
<stop offset="0.62" stop-color="#bfbfea"/>
<stop offset="0.65" stop-color="#b2b2e6"/>
<stop offset="0.68" stop-color="#a6a6e1"/>
<stop offset="0.7" stop-color="#9999dd"/>
<stop offset="0.72" stop-color="#8c8cd9"/>
<stop offset="0.75" stop-color="#8080d4"/>
<stop offset="0.78" stop-color="#7373d0"/>
<stop offset="0.8" stop-color="#6666cc"/>
<stop offset="0.82" stop-color="#5959c8"/>
<stop offset="0.85" stop-color="#4c4cc4"/>
<stop offset="0.88" stop-color="#4040bf"/>
<stop offset="0.9" stop-color="#3333bb"/>
<stop offset="0.93" stop-color="#2626b7"/>
<stop offset="0.95" stop-color="#1a1ab2"/>
<stop offset="0.97" stop-color="#0d0dae"/>
<stop offset="1" stop-color="#0000aa"/>
</linearGradient></defs>
<rect x="767.3" y="12.6" width="28" height="440.7" fill="url(#ga)" stroke="#333" stroke-width="1"/>
<path d="M795.3 12.6H802.8M795.3 56.67H802.8M795.3 100.74H802.8M795.3 144.81H802.8M795.3 188.88H802.8M795.3 232.95H802.8M795.3 277.02H802.8M795.3 321.09H802.8M795.3 365.16H802.8M795.3 409.23H802.8M795.3 453.3H802.8" stroke="#444" stroke-width="1.3"/>
<g font-family='"Liberation Serif", serif' font-weight="bold" font-size="14.2" fill="#000"><text x="808.7" y="17.9">1</text><text x="808.7" y="61.97">0.8</text><text x="808.7" y="106.04">0.6</text><text x="808.7" y="150.11">0.4</text><text x="808.7" y="194.18">0.2</text><text x="808.7" y="238.25">0</text><text x="808.7" y="282.32">-0.2</text><text x="808.7" y="326.39">-0.4</text><text x="808.7" y="370.46">-0.6</text><text x="808.7" y="414.53">-0.8</text><text x="808.7" y="458.6">-1</text></g>
<text x="44.6" y="32.8" font-family='"Liberation Serif", serif' font-weight="bold" font-size="29.8">(a)</text>
<g font-family='"Liberation Serif", serif' font-weight="bold" font-style="italic" font-size="19.3"><text x="53.9" y="592.2">p&lt;=0.05</text><text x="150.7" y="592.2">p&lt;=0.01</text><text x="258.1" y="592.2">p&lt;=0.001</text></g>
<path fill="#333" d="M46.2 579.6A1.60 0.94 -90 1 0 46.2 582.8A1.60 0.94 -90 1 0 46.2 579.6ZM49.6 582.1A1.60 0.94 -18 1 0 46.6 583.1A1.60 0.94 -18 1 0 49.6 582.1ZM48.3 586.1A1.60 0.94 54 1 0 46.4 583.5A1.60 0.94 54 1 0 48.3 586.1ZM44.1 586.1A1.60 0.94 126 1 0 46.0 583.5A1.60 0.94 126 1 0 44.1 586.1ZM42.8 582.1A1.60 0.94 198 1 0 45.8 583.1A1.60 0.94 198 1 0 42.8 582.1ZM45.30 583.20a0.90 0.90 0 1 0 1.80 0a0.90 0.90 0 1 0 -1.80 0ZM133.7 579.6A1.60 0.94 -90 1 0 133.7 582.8A1.60 0.94 -90 1 0 133.7 579.6ZM137.1 582.1A1.60 0.94 -18 1 0 134.1 583.1A1.60 0.94 -18 1 0 137.1 582.1ZM135.8 586.1A1.60 0.94 54 1 0 133.9 583.5A1.60 0.94 54 1 0 135.8 586.1ZM131.6 586.1A1.60 0.94 126 1 0 133.5 583.5A1.60 0.94 126 1 0 131.6 586.1ZM130.3 582.1A1.60 0.94 198 1 0 133.3 583.1A1.60 0.94 198 1 0 130.3 582.1ZM132.80 583.20a0.90 0.90 0 1 0 1.80 0a0.90 0.90 0 1 0 -1.80 0ZM143.3 579.6A1.60 0.94 -90 1 0 143.3 582.8A1.60 0.94 -90 1 0 143.3 579.6ZM146.7 582.1A1.60 0.94 -18 1 0 143.7 583.1A1.60 0.94 -18 1 0 146.7 582.1ZM145.4 586.1A1.60 0.94 54 1 0 143.5 583.5A1.60 0.94 54 1 0 145.4 586.1ZM141.2 586.1A1.60 0.94 126 1 0 143.1 583.5A1.60 0.94 126 1 0 141.2 586.1ZM139.9 582.1A1.60 0.94 198 1 0 142.9 583.1A1.60 0.94 198 1 0 139.9 582.1ZM142.40 583.20a0.90 0.90 0 1 0 1.80 0a0.90 0.90 0 1 0 -1.80 0ZM230.7 579.6A1.60 0.94 -90 1 0 230.7 582.8A1.60 0.94 -90 1 0 230.7 579.6ZM234.1 582.1A1.60 0.94 -18 1 0 231.1 583.1A1.60 0.94 -18 1 0 234.1 582.1ZM232.8 586.1A1.60 0.94 54 1 0 230.9 583.5A1.60 0.94 54 1 0 232.8 586.1ZM228.6 586.1A1.60 0.94 126 1 0 230.5 583.5A1.60 0.94 126 1 0 228.6 586.1ZM227.3 582.1A1.60 0.94 198 1 0 230.3 583.1A1.60 0.94 198 1 0 227.3 582.1ZM229.80 583.20a0.90 0.90 0 1 0 1.80 0a0.90 0.90 0 1 0 -1.80 0ZM240.3 579.6A1.60 0.94 -90 1 0 240.3 582.8A1.60 0.94 -90 1 0 240.3 579.6ZM243.7 582.1A1.60 0.94 -18 1 0 240.7 583.1A1.60 0.94 -18 1 0 243.7 582.1ZM242.4 586.1A1.60 0.94 54 1 0 240.5 583.5A1.60 0.94 54 1 0 242.4 586.1ZM238.2 586.1A1.60 0.94 126 1 0 240.1 583.5A1.60 0.94 126 1 0 238.2 586.1ZM236.9 582.1A1.60 0.94 198 1 0 239.9 583.1A1.60 0.94 198 1 0 236.9 582.1ZM239.40 583.20a0.90 0.90 0 1 0 1.80 0a0.90 0.90 0 1 0 -1.80 0ZM249.9 579.6A1.60 0.94 -90 1 0 249.9 582.8A1.60 0.94 -90 1 0 249.9 579.6ZM253.3 582.1A1.60 0.94 -18 1 0 250.3 583.1A1.60 0.94 -18 1 0 253.3 582.1ZM252.0 586.1A1.60 0.94 54 1 0 250.1 583.5A1.60 0.94 54 1 0 252.0 586.1ZM247.8 586.1A1.60 0.94 126 1 0 249.7 583.5A1.60 0.94 126 1 0 247.8 586.1ZM246.5 582.1A1.60 0.94 198 1 0 249.5 583.1A1.60 0.94 198 1 0 246.5 582.1ZM249.00 583.20a0.90 0.90 0 1 0 1.80 0a0.90 0.90 0 1 0 -1.80 0Z"/>
<path d="M170.66 633.7V1085.9M139.5 656.31H762.6M201.81 633.7V1085.9M139.5 678.92H762.6M232.97 633.7V1085.9M139.5 701.53H762.6M264.12 633.7V1085.9M139.5 724.14H762.6M295.27 633.7V1085.9M139.5 746.75H762.6M326.43 633.7V1085.9M139.5 769.36H762.6M357.59 633.7V1085.9M139.5 791.97H762.6M388.74 633.7V1085.9M139.5 814.58H762.6M419.89 633.7V1085.9M139.5 837.19H762.6M451.05 633.7V1085.9M139.5 859.8H762.6M482.21 633.7V1085.9M139.5 882.41H762.6M513.36 633.7V1085.9M139.5 905.02H762.6M544.51 633.7V1085.9M139.5 927.63H762.6M575.67 633.7V1085.9M139.5 950.24H762.6M606.83 633.7V1085.9M139.5 972.85H762.6M637.98 633.7V1085.9M139.5 995.46H762.6M669.13 633.7V1085.9M139.5 1018.07H762.6M700.29 633.7V1085.9M139.5 1040.68H762.6M731.45 633.7V1085.9M139.5 1063.29H762.6" stroke="#efefef" stroke-width="1" fill="none"/>
<circle cx="155.08" cy="667.62" r="6.59" fill="#ff8383"/>
<circle cx="155.08" cy="690.23" r="9.27" fill="#ff1d1d"/>
<circle cx="186.23" cy="690.23" r="7.12" fill="#ff7070"/>
<circle cx="155.08" cy="712.84" r="3.67" fill="#dedef4"/>
<circle cx="186.23" cy="712.84" r="5.09" fill="#bfbfea"/>
<circle cx="217.39" cy="712.84" r="1.76" fill="#fff6f6"/>
<circle cx="155.08" cy="735.45" r="5.93" fill="#ff9a9a"/>
<circle cx="186.23" cy="735.45" r="4.88" fill="#ffb9b9"/>
<circle cx="217.39" cy="735.45" r="6.27" fill="#ff8e8e"/>
<circle cx="248.54" cy="735.45" r="5.29" fill="#babae8"/>
<circle cx="155.08" cy="758.06" r="3.07" fill="#ffe3e3"/>
<circle cx="186.23" cy="758.06" r="2.97" fill="#e9e9f8"/>
<circle cx="217.39" cy="758.06" r="1.16" fill="#fcfcfe"/>
<circle cx="248.54" cy="758.06" r="5.93" fill="#a8a8e2"/>
<circle cx="279.7" cy="758.06" r="5.09" fill="#bfbfea"/>
<circle cx="155.08" cy="780.67" r="5.66" fill="#b0b0e5"/>
<circle cx="186.23" cy="780.67" r="3.52" fill="#e0e0f5"/>
<circle cx="217.39" cy="780.67" r="7.19" fill="#8080d4"/>
<circle cx="248.54" cy="780.67" r="6.51" fill="#9696dc"/>
<circle cx="279.7" cy="780.67" r="7.34" fill="#7a7ad3"/>
<circle cx="310.85" cy="780.67" r="7.55" fill="#ff6060"/>
<circle cx="155.08" cy="803.28" r="4.32" fill="#ffc8c8"/>
<circle cx="186.23" cy="803.28" r="4.2" fill="#ffcbcb"/>
<circle cx="217.39" cy="803.28" r="1.58" fill="#fff8f8"/>
<circle cx="248.54" cy="803.28" r="3.2" fill="#ffe1e1"/>
<circle cx="279.7" cy="803.28" r="4.88" fill="#c4c4eb"/>
<circle cx="310.85" cy="803.28" r="4.43" fill="#ffc5c5"/>
<circle cx="342.01" cy="803.28" r="4.55" fill="#ffc2c2"/>
<circle cx="155.08" cy="825.89" r="4.43" fill="#ffc5c5"/>
<circle cx="186.23" cy="825.89" r="4.2" fill="#ffcbcb"/>
<circle cx="217.39" cy="825.89" r="3.81" fill="#ffd4d4"/>
<circle cx="279.7" cy="825.89" r="5.93" fill="#a8a8e2"/>
<circle cx="310.85" cy="825.89" r="7.19" fill="#ff6d6d"/>
<circle cx="342.01" cy="825.89" r="6.83" fill="#ff7b7b"/>
<circle cx="373.16" cy="825.89" r="6.67" fill="#ff8080"/>
<circle cx="155.08" cy="848.5" r="4.66" fill="#ffbfbf"/>
<circle cx="186.23" cy="848.5" r="4.43" fill="#ffc5c5"/>
<circle cx="217.39" cy="848.5" r="3.67" fill="#ffd7d7"/>
<circle cx="248.54" cy="848.5" r="1.82" fill="#fff5f5"/>
<circle cx="279.7" cy="848.5" r="6.02" fill="#a6a6e1"/>
<circle cx="310.85" cy="848.5" r="7.05" fill="#ff7373"/>
<circle cx="342.01" cy="848.5" r="6.75" fill="#ff7e7e"/>
<circle cx="373.16" cy="848.5" r="8.01" fill="#ff4e4e"/>
<circle cx="404.32" cy="848.5" r="10.07" fill="#ff0202"/>
<circle cx="155.08" cy="871.11" r="4.55" fill="#ffc2c2"/>
<circle cx="186.23" cy="871.11" r="4.98" fill="#ffb6b6"/>
<circle cx="217.39" cy="871.11" r="3.94" fill="#ffd1d1"/>
<circle cx="248.54" cy="871.11" r="4.2" fill="#ffcbcb"/>
<circle cx="279.7" cy="871.11" r="5.57" fill="#b2b2e6"/>
<circle cx="310.85" cy="871.11" r="4.2" fill="#ffcbcb"/>
<circle cx="342.01" cy="871.11" r="5.48" fill="#ffa8a8"/>
<circle cx="373.16" cy="871.11" r="8.01" fill="#ff4e4e"/>
<circle cx="404.32" cy="871.11" r="9.71" fill="#ff0e0e"/>
<circle cx="435.47" cy="871.11" r="9.86" fill="#ff0808"/>
<circle cx="155.08" cy="893.72" r="4.43" fill="#ffc5c5"/>
<circle cx="186.23" cy="893.72" r="4.32" fill="#ffc8c8"/>
<circle cx="217.39" cy="893.72" r="3.52" fill="#ffdada"/>
<circle cx="248.54" cy="893.72" r="2.23" fill="#fff0f0"/>
<circle cx="279.7" cy="893.72" r="5.93" fill="#a8a8e2"/>
<circle cx="310.85" cy="893.72" r="6.98" fill="#ff7676"/>
<circle cx="342.01" cy="893.72" r="6.67" fill="#ff8080"/>
<circle cx="373.16" cy="893.72" r="7.95" fill="#ff5151"/>
<circle cx="404.32" cy="893.72" r="10.07" fill="#ff0202"/>
<circle cx="435.47" cy="893.72" r="10.17" fill="#ff0000"/>
<circle cx="466.63" cy="893.72" r="9.92" fill="#ff0707"/>
<circle cx="155.08" cy="916.33" r="5.38" fill="#ffabab"/>
<circle cx="186.23" cy="916.33" r="2.71" fill="#ffe9e9"/>
<circle cx="217.39" cy="916.33" r="4.66" fill="#ffbfbf"/>
<circle cx="279.7" cy="916.33" r="4.07" fill="#ffcece"/>
<circle cx="310.85" cy="916.33" r="3.22" fill="#ffe0e0"/>
<circle cx="342.01" cy="916.33" r="2.9" fill="#ffe6e6"/>
<circle cx="373.16" cy="916.33" r="7.48" fill="#ff6363"/>
<circle cx="404.32" cy="916.33" r="3.37" fill="#ffdddd"/>
<circle cx="435.47" cy="916.33" r="4.77" fill="#ffbcbc"/>
<circle cx="466.63" cy="916.33" r="4.66" fill="#ffbfbf"/>
<circle cx="497.78" cy="916.33" r="4.77" fill="#ffbcbc"/>
<circle cx="155.08" cy="938.94" r="4.88" fill="#ffb9b9"/>
<circle cx="186.23" cy="938.94" r="1.16" fill="#fffbfb"/>
<circle cx="217.39" cy="938.94" r="2.32" fill="#f2f2fb"/>
<circle cx="248.54" cy="938.94" r="0.91" fill="#fdfdfe"/>
<circle cx="279.7" cy="938.94" r="4.07" fill="#d6d6f1"/>
<circle cx="310.85" cy="938.94" r="3.22" fill="#ffe0e0"/>
<circle cx="342.01" cy="938.94" r="4.32" fill="#ffc8c8"/>
<circle cx="373.16" cy="938.94" r="5.38" fill="#ffabab"/>
<circle cx="404.32" cy="938.94" r="3.67" fill="#dedef4"/>
<circle cx="435.47" cy="938.94" r="2.3" fill="#f2f2fb"/>
<circle cx="466.63" cy="938.94" r="3.14" fill="#e7e7f7"/>
<circle cx="497.78" cy="938.94" r="2.71" fill="#ededf9"/>
<circle cx="528.94" cy="938.94" r="8.33" fill="#ff4242"/>
<circle cx="155.08" cy="961.55" r="4.66" fill="#ffbfbf"/>
<circle cx="186.23" cy="961.55" r="3.94" fill="#ffd1d1"/>
<circle cx="248.54" cy="961.55" r="2.71" fill="#ffe9e9"/>
<circle cx="279.7" cy="961.55" r="2.95" fill="#eaeaf8"/>
<circle cx="310.85" cy="961.55" r="2.09" fill="#fff2f2"/>
<circle cx="342.01" cy="961.55" r="3.67" fill="#ffd7d7"/>
<circle cx="373.16" cy="961.55" r="5.48" fill="#ffa8a8"/>
<circle cx="404.32" cy="961.55" r="4.77" fill="#c7c7ec"/>
<circle cx="435.47" cy="961.55" r="3.52" fill="#e0e0f5"/>
<circle cx="466.63" cy="961.55" r="3.94" fill="#d9d9f2"/>
<circle cx="497.78" cy="961.55" r="3.94" fill="#d9d9f2"/>
<circle cx="528.94" cy="961.55" r="8.08" fill="#ff4c4c"/>
<circle cx="560.09" cy="961.55" r="9.86" fill="#ff0808"/>
<circle cx="155.08" cy="984.16" r="5.09" fill="#ffb4b4"/>
<circle cx="186.23" cy="984.16" r="2.11" fill="#fff2f2"/>
<circle cx="217.39" cy="984.16" r="0.32" fill="#ffffff"/>
<circle cx="248.54" cy="984.16" r="0.46" fill="#fffefe"/>
<circle cx="279.7" cy="984.16" r="3.22" fill="#e6e6f6"/>
<circle cx="310.85" cy="984.16" r="3.22" fill="#ffe0e0"/>
<circle cx="342.01" cy="984.16" r="4.2" fill="#ffcbcb"/>
<circle cx="373.16" cy="984.16" r="6.02" fill="#ff9797"/>
<circle cx="404.32" cy="984.16" r="3.04" fill="#e8e8f7"/>
<circle cx="466.63" cy="984.16" r="1.88" fill="#fff4f4"/>
<circle cx="497.78" cy="984.16" r="1.2" fill="#fffbfb"/>
<circle cx="528.94" cy="984.16" r="8.93" fill="#ff2a2a"/>
<circle cx="560.09" cy="984.16" r="10.12" fill="#ff0101"/>
<circle cx="591.25" cy="984.16" r="9.76" fill="#ff0c0c"/>
<circle cx="155.08" cy="1006.77" r="5.09" fill="#bfbfea"/>
<circle cx="186.23" cy="1006.77" r="1.7" fill="#fff6f6"/>
<circle cx="217.39" cy="1006.77" r="5.57" fill="#b2b2e6"/>
<circle cx="248.54" cy="1006.77" r="3.52" fill="#ffdada"/>
<circle cx="279.7" cy="1006.77" r="4.98" fill="#c2c2eb"/>
<circle cx="310.85" cy="1006.77" r="3.52" fill="#e0e0f5"/>
<circle cx="342.01" cy="1006.77" r="3.81" fill="#ffd4d4"/>
<circle cx="373.16" cy="1006.77" r="6.98" fill="#ff7676"/>
<circle cx="404.32" cy="1006.77" r="4.88" fill="#ffb9b9"/>
<circle cx="435.47" cy="1006.77" r="5.66" fill="#ffa2a2"/>
<circle cx="466.63" cy="1006.77" r="6.35" fill="#ff8c8c"/>
<circle cx="497.78" cy="1006.77" r="5.84" fill="#ff9c9c"/>
<circle cx="528.94" cy="1006.77" r="3.37" fill="#e3e3f6"/>
<circle cx="560.09" cy="1006.77" r="5.93" fill="#a8a8e2"/>
<circle cx="591.25" cy="1006.77" r="5.93" fill="#a8a8e2"/>
<circle cx="622.4" cy="1006.77" r="5.76" fill="#adade4"/>
<circle cx="186.23" cy="1029.38" r="4.77" fill="#c7c7ec"/>
<circle cx="217.39" cy="1029.38" r="4.2" fill="#d4d4f1"/>
<circle cx="248.54" cy="1029.38" r="1.96" fill="#f6f6fc"/>
<circle cx="279.7" cy="1029.38" r="4.98" fill="#c2c2eb"/>
<circle cx="310.85" cy="1029.38" r="3.19" fill="#ffe1e1"/>
<circle cx="342.01" cy="1029.38" r="1.2" fill="#fbfbfe"/>
<circle cx="373.16" cy="1029.38" r="5.29" fill="#babae8"/>
<circle cx="404.32" cy="1029.38" r="5.76" fill="#adade4"/>
<circle cx="435.47" cy="1029.38" r="6.02" fill="#a6a6e1"/>
<circle cx="466.63" cy="1029.38" r="6.67" fill="#9191da"/>
<circle cx="497.78" cy="1029.38" r="6.1" fill="#a3a3e0"/>
<circle cx="528.94" cy="1029.38" r="3.67" fill="#ffd7d7"/>
<circle cx="560.09" cy="1029.38" r="8.33" fill="#ff4242"/>
<circle cx="591.25" cy="1029.38" r="7.19" fill="#ff6d6d"/>
<circle cx="622.4" cy="1029.38" r="7.82" fill="#ff5656"/>
<circle cx="653.56" cy="1029.38" r="7.34" fill="#7a7ad3"/>
<circle cx="155.08" cy="1051.99" r="3.67" fill="#ffd7d7"/>
<circle cx="186.23" cy="1051.99" r="4.32" fill="#ffc8c8"/>
<circle cx="217.39" cy="1051.99" r="5.76" fill="#ff9f9f"/>
<circle cx="248.54" cy="1051.99" r="5.19" fill="#bdbde9"/>
<circle cx="279.7" cy="1051.99" r="5.57" fill="#ffa5a5"/>
<circle cx="310.85" cy="1051.99" r="4.2" fill="#d4d4f1"/>
<circle cx="342.01" cy="1051.99" r="2.55" fill="#efeffa"/>
<circle cx="373.16" cy="1051.99" r="7.75" fill="#6b6bce"/>
<circle cx="435.47" cy="1051.99" r="3.52" fill="#e0e0f5"/>
<circle cx="466.63" cy="1051.99" r="2.71" fill="#ededf9"/>
<circle cx="497.78" cy="1051.99" r="3.81" fill="#dbdbf3"/>
<circle cx="528.94" cy="1051.99" r="4.55" fill="#ccccee"/>
<circle cx="560.09" cy="1051.99" r="4.98" fill="#c2c2eb"/>
<circle cx="591.25" cy="1051.99" r="4.43" fill="#cfcfef"/>
<circle cx="622.4" cy="1051.99" r="4.98" fill="#c2c2eb"/>
<circle cx="653.56" cy="1051.99" r="7.27" fill="#7d7dd4"/>
<circle cx="684.71" cy="1051.99" r="2.43" fill="#f0f0fa"/>
<circle cx="155.08" cy="1074.6" r="4.43" fill="#cfcfef"/>
<circle cx="186.23" cy="1074.6" r="4.77" fill="#c7c7ec"/>
<circle cx="217.39" cy="1074.6" r="4.32" fill="#d1d1f0"/>
<circle cx="248.54" cy="1074.6" r="4.07" fill="#ffcece"/>
<circle cx="279.7" cy="1074.6" r="3.37" fill="#e3e3f6"/>
<circle cx="310.85" cy="1074.6" r="3.94" fill="#ffd1d1"/>
<circle cx="342.01" cy="1074.6" r="2.41" fill="#ffeeee"/>
<circle cx="373.16" cy="1074.6" r="5.29" fill="#babae8"/>
<circle cx="404.32" cy="1074.6" r="5.57" fill="#b2b2e6"/>
<circle cx="435.47" cy="1074.6" r="5.76" fill="#adade4"/>
<circle cx="466.63" cy="1074.6" r="6.59" fill="#9494db"/>
<circle cx="497.78" cy="1074.6" r="5.66" fill="#b0b0e5"/>
<circle cx="528.94" cy="1074.6" r="4.32" fill="#ffc8c8"/>
<circle cx="560.09" cy="1074.6" r="5.57" fill="#ffa5a5"/>
<circle cx="591.25" cy="1074.6" r="5.19" fill="#ffb1b1"/>
<circle cx="622.4" cy="1074.6" r="5.48" fill="#ffa8a8"/>
<circle cx="653.56" cy="1074.6" r="4.66" fill="#c9c9ed"/>
<circle cx="684.71" cy="1074.6" r="6.51" fill="#ff8686"/>
<circle cx="715.87" cy="1074.6" r="4.43" fill="#cfcfef"/>
<g font-family='"Liberation Serif", serif' font-weight="bold" font-size="14.3" text-anchor="middle"><text x="186.23" y="650.5" fill="#ff7171">0.42</text><text x="217.39" y="650.5" fill="#ff0000">0.83</text><text x="248.54" y="650.5" fill="#d9d9f2">-0.13</text><text x="279.7" y="650.5" fill="#ff8a8a">0.34</text><text x="310.85" y="650.5" fill="#ffdfdf">0.091</text><text x="342.01" y="650.5" fill="#a4a4e1">-0.31</text><text x="373.16" y="650.5" fill="#ffc0c0">0.18</text><text x="404.32" y="650.5" fill="#ffbdbd">0.19</text><text x="435.47" y="650.5" fill="#ffb6b6">0.21</text><text x="466.63" y="650.5" fill="#ffb9b9">0.20</text><text x="497.78" y="650.5" fill="#ffbdbd">0.19</text><text x="528.94" y="650.5" fill="#ff9e9e">0.28</text><text x="560.09" y="650.5" fill="#ffafaf">0.23</text><text x="591.25" y="650.5" fill="#ffb6b6">0.21</text><text x="622.4" y="650.5" fill="#ffa8a8">0.25</text><text x="653.56" y="650.5" fill="#b6b6e7">-0.25</text><text x="684.71" y="650.5" fill="#ffffff">0.00</text><text x="715.87" y="650.5" fill="#ffd1d1">0.13</text><text x="747.02" y="650.5" fill="#c7c7ec">-0.19</text><text x="217.39" y="673.12" fill="#ff5b5b">0.49</text><text x="248.54" y="673.12" fill="#b6b6e7">-0.25</text><text x="279.7" y="673.12" fill="#ffafaf">0.23</text><text x="310.85" y="673.12" fill="#e6e6f7">-0.085</text><text x="342.01" y="673.12" fill="#dcdcf3">-0.12</text><text x="373.16" y="673.12" fill="#ffc3c3">0.17</text><text x="404.32" y="673.12" fill="#ffc3c3">0.17</text><text x="435.47" y="673.12" fill="#ffbdbd">0.19</text><text x="466.63" y="673.12" fill="#ffacac">0.24</text><text x="497.78" y="673.12" fill="#ffc0c0">0.18</text><text x="528.94" y="673.12" fill="#ffe6e6">0.071</text><text x="560.09" y="673.12" fill="#fffafa">0.013</text><text x="591.25" y="673.12" fill="#ffcaca">0.15</text><text x="622.4" y="673.12" fill="#fff0f0">0.043</text><text x="653.56" y="673.12" fill="#fff5f5">0.028</text><text x="684.71" y="673.12" fill="#bebee9">-0.22</text><text x="715.87" y="673.12" fill="#ffc0c0">0.18</text><text x="747.02" y="673.12" fill="#bebee9">-0.22</text><text x="248.54" y="695.73" fill="#fff4f4">0.030</text><text x="279.7" y="695.73" fill="#ff7d7d">0.38</text><text x="310.85" y="695.73" fill="#fbfbfe">-0.013</text><text x="342.01" y="695.73" fill="#6c6cce">-0.50</text><text x="373.16" y="695.73" fill="#fff6f6">0.024</text><text x="404.32" y="695.73" fill="#ffcece">0.14</text><text x="435.47" y="695.73" fill="#ffd1d1">0.13</text><text x="466.63" y="695.73" fill="#ffcaca">0.15</text><text x="497.78" y="695.73" fill="#ffd5d5">0.12</text><text x="528.94" y="695.73" fill="#ffb6b6">0.21</text><text x="560.09" y="695.73" fill="#f0f0fa">-0.052</text><text x="591.25" y="695.73" fill="#ffffff">0.00</text><text x="622.4" y="695.73" fill="#ffffff">-0.001</text><text x="653.56" y="695.73" fill="#a7a7e2">-0.30</text><text x="684.71" y="695.73" fill="#cdcdee">-0.17</text><text x="715.87" y="695.73" fill="#ff9191">0.32</text><text x="747.02" y="695.73" fill="#cacaed">-0.18</text><text x="279.7" y="718.34" fill="#b0b0e5">-0.27</text><text x="310.85" y="718.34" fill="#9b9bde">-0.34</text><text x="342.01" y="718.34" fill="#8787d7">-0.41</text><text x="373.16" y="718.34" fill="#ffdcdc">0.099</text><text x="404.32" y="718.34" fill="#ffffff">0.00</text><text x="435.47" y="718.34" fill="#fff4f4">0.032</text><text x="466.63" y="718.34" fill="#ffc3c3">0.17</text><text x="497.78" y="718.34" fill="#ffeeee">0.048</text><text x="528.94" y="718.34" fill="#ffffff">0.00</text><text x="560.09" y="718.34" fill="#fdfdfe">-0.008</text><text x="591.25" y="718.34" fill="#ffe6e6">0.071</text><text x="622.4" y="718.34" fill="#fffefe">0.002</text><text x="653.56" y="718.34" fill="#ffd5d5">0.12</text><text x="684.71" y="718.34" fill="#f4f4fb">-0.037</text><text x="715.87" y="718.34" fill="#b3b3e6">-0.26</text><text x="747.02" y="718.34" fill="#ffc7c7">0.16</text><text x="310.85" y="740.95" fill="#b6b6e7">-0.25</text><text x="342.01" y="740.95" fill="#6767cc">-0.52</text><text x="373.16" y="740.95" fill="#bcbce9">-0.23</text><text x="404.32" y="740.95" fill="#9b9bde">-0.34</text><text x="435.47" y="740.95" fill="#9898dd">-0.35</text><text x="466.63" y="740.95" fill="#a7a7e2">-0.30</text><text x="497.78" y="740.95" fill="#9b9bde">-0.34</text><text x="528.94" y="740.95" fill="#ffc7c7">0.16</text><text x="560.09" y="740.95" fill="#d0d0ef">-0.16</text><text x="591.25" y="740.95" fill="#e6e6f7">-0.084</text><text x="622.4" y="740.95" fill="#e2e2f5">-0.10</text><text x="653.56" y="740.95" fill="#b9b9e8">-0.24</text><text x="684.71" y="740.95" fill="#b9b9e8">-0.24</text><text x="715.87" y="740.95" fill="#ff9898">0.30</text><text x="747.02" y="740.95" fill="#dfdff4">-0.11</text><text x="342.01" y="763.56" fill="#ff4848">0.55</text><text x="373.16" y="763.56" fill="#ffbdbd">0.19</text><text x="404.32" y="763.56" fill="#ff5858">0.50</text><text x="435.47" y="763.56" fill="#ff5e5e">0.48</text><text x="466.63" y="763.56" fill="#ffc3c3">0.17</text><text x="497.78" y="763.56" fill="#ff6161">0.47</text><text x="528.94" y="763.56" fill="#ffdcdc">0.10</text><text x="560.09" y="763.56" fill="#ffdcdc">0.100</text><text x="591.25" y="763.56" fill="#fff0f0">0.042</text><text x="622.4" y="763.56" fill="#ffdcdc">0.10</text><text x="653.56" y="763.56" fill="#dcdcf3">-0.12</text><text x="684.71" y="763.56" fill="#ffdcdc">0.098</text><text x="715.87" y="763.56" fill="#cdcdee">-0.17</text><text x="747.02" y="763.56" fill="#ffcaca">0.15</text><text x="373.16" y="786.17" fill="#ffb9b9">0.20</text><text x="404.32" y="786.17" fill="#ff6767">0.45</text><text x="435.47" y="786.17" fill="#ff6a6a">0.44</text><text x="466.63" y="786.17" fill="#ff9b9b">0.29</text><text x="497.78" y="786.17" fill="#ff6d6d">0.43</text><text x="528.94" y="786.17" fill="#ffe2e2">0.081</text><text x="560.09" y="786.17" fill="#ffc0c0">0.18</text><text x="591.25" y="786.17" fill="#ffd1d1">0.13</text><text x="622.4" y="786.17" fill="#ffc3c3">0.17</text><text x="653.56" y="786.17" fill="#ffcece">0.14</text><text x="684.71" y="786.17" fill="#fbfbfe">-0.014</text><text x="715.87" y="786.17" fill="#ededf9">-0.063</text><text x="747.02" y="786.17" fill="#ffebeb">0.056</text><text x="404.32" y="808.78" fill="#ff6d6d">0.43</text><text x="435.47" y="808.78" fill="#ff3434">0.62</text><text x="466.63" y="808.78" fill="#ff3434">0.62</text><text x="497.78" y="808.78" fill="#ff3737">0.61</text><text x="528.94" y="808.78" fill="#ff4b4b">0.54</text><text x="560.09" y="808.78" fill="#ff9e9e">0.28</text><text x="591.25" y="808.78" fill="#ff9b9b">0.29</text><text x="622.4" y="808.78" fill="#ff8787">0.35</text><text x="653.56" y="808.78" fill="#ff6161">0.47</text><text x="684.71" y="808.78" fill="#b0b0e5">-0.27</text><text x="715.87" y="808.78" fill="#5555c6">-0.58</text><text x="747.02" y="808.78" fill="#b0b0e5">-0.27</text><text x="435.47" y="831.39" fill="#ff0000">0.98</text><text x="466.63" y="831.39" fill="#ff0000">0.91</text><text x="497.78" y="831.39" fill="#ff0000">0.98</text><text x="528.94" y="831.39" fill="#ffd8d8">0.11</text><text x="560.09" y="831.39" fill="#d9d9f2">-0.13</text><text x="591.25" y="831.39" fill="#bebee9">-0.22</text><text x="622.4" y="831.39" fill="#e5e5f6">-0.089</text><text x="653.56" y="831.39" fill="#ffafaf">0.23</text><text x="684.71" y="831.39" fill="#a1a1e0">-0.32</text><text x="715.87" y="831.39" fill="#ffffff">0.00</text><text x="747.02" y="831.39" fill="#a7a7e2">-0.30</text><text x="466.63" y="854" fill="#ff0000">0.94</text><text x="497.78" y="854" fill="#ff0000">1.00</text><text x="528.94" y="854" fill="#ffb2b2">0.22</text><text x="560.09" y="854" fill="#f0f0fa">-0.051</text><text x="591.25" y="854" fill="#dcdcf3">-0.12</text><text x="622.4" y="854" fill="#ffffff">0.00</text><text x="653.56" y="854" fill="#ff9494">0.31</text><text x="684.71" y="854" fill="#9898dd">-0.35</text><text x="715.87" y="854" fill="#dcdcf3">-0.12</text><text x="747.02" y="854" fill="#a1a1e0">-0.32</text><text x="497.78" y="876.61" fill="#ff0000">0.95</text><text x="528.94" y="876.61" fill="#ffb6b6">0.21</text><text x="560.09" y="876.61" fill="#e3e3f6">-0.095</text><text x="591.25" y="876.61" fill="#d3d3f0">-0.15</text><text x="622.4" y="876.61" fill="#fff3f3">0.034</text><text x="653.56" y="876.61" fill="#ff7a7a">0.39</text><text x="684.71" y="876.61" fill="#8181d5">-0.43</text><text x="715.87" y="876.61" fill="#eaeaf8">-0.071</text><text x="747.02" y="876.61" fill="#8484d6">-0.42</text><text x="528.94" y="899.22" fill="#ffb2b2">0.22</text><text x="560.09" y="899.22" fill="#eaeaf8">-0.071</text><text x="591.25" y="899.22" fill="#d3d3f0">-0.15</text><text x="622.4" y="899.22" fill="#fffafa">0.014</text><text x="653.56" y="899.22" fill="#ff8e8e">0.33</text><text x="684.71" y="899.22" fill="#9595dc">-0.36</text><text x="715.87" y="899.22" fill="#d6d6f1">-0.14</text><text x="747.02" y="899.22" fill="#a4a4e1">-0.31</text><text x="560.09" y="921.83" fill="#ff2626">0.67</text><text x="591.25" y="921.83" fill="#ff3131">0.63</text><text x="622.4" y="921.83" fill="#ff0b0b">0.77</text><text x="653.56" y="921.83" fill="#dfdff4">-0.11</text><text x="684.71" y="921.83" fill="#ffd1d1">0.13</text><text x="715.87" y="921.83" fill="#c4c4eb">-0.20</text><text x="747.02" y="921.83" fill="#ffc0c0">0.18</text><text x="591.25" y="944.44" fill="#ff0000">0.94</text><text x="622.4" y="944.44" fill="#ff0000">0.99</text><text x="653.56" y="944.44" fill="#9b9bde">-0.34</text><text x="684.71" y="944.44" fill="#ff2626">0.67</text><text x="715.87" y="944.44" fill="#b9b9e8">-0.24</text><text x="747.02" y="944.44" fill="#ff9898">0.30</text><text x="622.4" y="967.05" fill="#ff0000">0.92</text><text x="653.56" y="967.05" fill="#9b9bde">-0.34</text><text x="684.71" y="967.05" fill="#ff5858">0.50</text><text x="715.87" y="967.05" fill="#c7c7ec">-0.19</text><text x="747.02" y="967.05" fill="#ffa5a5">0.26</text><text x="653.56" y="989.66" fill="#a1a1e0">-0.32</text><text x="684.71" y="989.66" fill="#ff3d3d">0.59</text><text x="715.87" y="989.66" fill="#b9b9e8">-0.24</text><text x="747.02" y="989.66" fill="#ff9b9b">0.29</text><text x="684.71" y="1012.27" fill="#6767cc">-0.52</text><text x="715.87" y="1012.27" fill="#6969cd">-0.51</text><text x="747.02" y="1012.27" fill="#c1c1ea">-0.21</text><text x="715.87" y="1034.88" fill="#eeeef9">-0.057</text><text x="747.02" y="1034.88" fill="#ff7474">0.41</text><text x="747.02" y="1057.49" fill="#c7c7ec">-0.19</text></g>
<path fill="#111" d="M143.3 683.2A1.95 1.15 -90 1 0 143.3 687.1A1.95 1.15 -90 1 0 143.3 683.2ZM147.5 686.3A1.95 1.15 -18 1 0 143.8 687.5A1.95 1.15 -18 1 0 147.5 686.3ZM145.9 691.2A1.95 1.15 54 1 0 143.6 688.0A1.95 1.15 54 1 0 145.9 691.2ZM140.7 691.2A1.95 1.15 126 1 0 143.0 688.0A1.95 1.15 126 1 0 140.7 691.2ZM139.1 686.3A1.95 1.15 198 1 0 142.8 687.5A1.95 1.15 198 1 0 139.1 686.3ZM142.18 687.62a1.10 1.10 0 1 0 2.20 0a1.10 1.10 0 1 0 -2.20 0ZM155.1 683.2A1.95 1.15 -90 1 0 155.1 687.1A1.95 1.15 -90 1 0 155.1 683.2ZM159.3 686.3A1.95 1.15 -18 1 0 155.6 687.5A1.95 1.15 -18 1 0 159.3 686.3ZM157.7 691.2A1.95 1.15 54 1 0 155.4 688.0A1.95 1.15 54 1 0 157.7 691.2ZM152.5 691.2A1.95 1.15 126 1 0 154.8 688.0A1.95 1.15 126 1 0 152.5 691.2ZM150.9 686.3A1.95 1.15 198 1 0 154.6 687.5A1.95 1.15 198 1 0 150.9 686.3ZM153.98 687.62a1.10 1.10 0 1 0 2.20 0a1.10 1.10 0 1 0 -2.20 0ZM166.9 683.2A1.95 1.15 -90 1 0 166.9 687.1A1.95 1.15 -90 1 0 166.9 683.2ZM171.1 686.3A1.95 1.15 -18 1 0 167.4 687.5A1.95 1.15 -18 1 0 171.1 686.3ZM169.5 691.2A1.95 1.15 54 1 0 167.2 688.0A1.95 1.15 54 1 0 169.5 691.2ZM164.3 691.2A1.95 1.15 126 1 0 166.6 688.0A1.95 1.15 126 1 0 164.3 691.2ZM162.7 686.3A1.95 1.15 198 1 0 166.4 687.5A1.95 1.15 198 1 0 162.7 686.3ZM165.78 687.62a1.10 1.10 0 1 0 2.20 0a1.10 1.10 0 1 0 -2.20 0ZM186.2 683.2A1.95 1.15 -90 1 0 186.2 687.1A1.95 1.15 -90 1 0 186.2 683.2ZM190.4 686.3A1.95 1.15 -18 1 0 186.7 687.5A1.95 1.15 -18 1 0 190.4 686.3ZM188.8 691.2A1.95 1.15 54 1 0 186.5 688.0A1.95 1.15 54 1 0 188.8 691.2ZM183.6 691.2A1.95 1.15 126 1 0 185.9 688.0A1.95 1.15 126 1 0 183.6 691.2ZM182.0 686.3A1.95 1.15 198 1 0 185.8 687.5A1.95 1.15 198 1 0 182.0 686.3ZM185.13 687.62a1.10 1.10 0 1 0 2.20 0a1.10 1.10 0 1 0 -2.20 0ZM217.4 773.7A1.95 1.15 -90 1 0 217.4 777.6A1.95 1.15 -90 1 0 217.4 773.7ZM221.6 776.7A1.95 1.15 -18 1 0 217.9 777.9A1.95 1.15 -18 1 0 221.6 776.7ZM220.0 781.6A1.95 1.15 54 1 0 217.7 778.5A1.95 1.15 54 1 0 220.0 781.6ZM214.8 781.6A1.95 1.15 126 1 0 217.1 778.5A1.95 1.15 126 1 0 214.8 781.6ZM213.2 776.7A1.95 1.15 198 1 0 216.9 777.9A1.95 1.15 198 1 0 213.2 776.7ZM216.29 778.07a1.10 1.10 0 1 0 2.20 0a1.10 1.10 0 1 0 -2.20 0ZM279.7 773.7A1.95 1.15 -90 1 0 279.7 777.6A1.95 1.15 -90 1 0 279.7 773.7ZM283.9 776.7A1.95 1.15 -18 1 0 280.2 777.9A1.95 1.15 -18 1 0 283.9 776.7ZM282.3 781.6A1.95 1.15 54 1 0 280.0 778.5A1.95 1.15 54 1 0 282.3 781.6ZM277.1 781.6A1.95 1.15 126 1 0 279.4 778.5A1.95 1.15 126 1 0 277.1 781.6ZM275.5 776.7A1.95 1.15 198 1 0 279.2 777.9A1.95 1.15 198 1 0 275.5 776.7ZM278.60 778.07a1.10 1.10 0 1 0 2.20 0a1.10 1.10 0 1 0 -2.20 0ZM310.9 773.7A1.95 1.15 -90 1 0 310.9 777.6A1.95 1.15 -90 1 0 310.9 773.7ZM315.0 776.7A1.95 1.15 -18 1 0 311.3 777.9A1.95 1.15 -18 1 0 315.0 776.7ZM313.4 781.6A1.95 1.15 54 1 0 311.1 778.5A1.95 1.15 54 1 0 313.4 781.6ZM308.3 781.6A1.95 1.15 126 1 0 310.6 778.5A1.95 1.15 126 1 0 308.3 781.6ZM306.7 776.7A1.95 1.15 198 1 0 310.4 777.9A1.95 1.15 198 1 0 306.7 776.7ZM309.75 778.07a1.10 1.10 0 1 0 2.20 0a1.10 1.10 0 1 0 -2.20 0ZM310.9 818.9A1.95 1.15 -90 1 0 310.9 822.8A1.95 1.15 -90 1 0 310.9 818.9ZM315.0 821.9A1.95 1.15 -18 1 0 311.3 823.1A1.95 1.15 -18 1 0 315.0 821.9ZM313.4 826.8A1.95 1.15 54 1 0 311.1 823.7A1.95 1.15 54 1 0 313.4 826.8ZM308.3 826.8A1.95 1.15 126 1 0 310.6 823.7A1.95 1.15 126 1 0 308.3 826.8ZM306.7 821.9A1.95 1.15 198 1 0 310.4 823.1A1.95 1.15 198 1 0 306.7 821.9ZM309.75 823.29a1.10 1.10 0 1 0 2.20 0a1.10 1.10 0 1 0 -2.20 0ZM310.9 841.5A1.95 1.15 -90 1 0 310.9 845.4A1.95 1.15 -90 1 0 310.9 841.5ZM315.0 844.5A1.95 1.15 -18 1 0 311.3 845.7A1.95 1.15 -18 1 0 315.0 844.5ZM313.4 849.5A1.95 1.15 54 1 0 311.1 846.3A1.95 1.15 54 1 0 313.4 849.5ZM308.3 849.5A1.95 1.15 126 1 0 310.6 846.3A1.95 1.15 126 1 0 308.3 849.5ZM306.7 844.5A1.95 1.15 198 1 0 310.4 845.7A1.95 1.15 198 1 0 306.7 844.5ZM309.75 845.90a1.10 1.10 0 1 0 2.20 0a1.10 1.10 0 1 0 -2.20 0ZM367.3 841.5A1.95 1.15 -90 1 0 367.3 845.4A1.95 1.15 -90 1 0 367.3 841.5ZM371.4 844.5A1.95 1.15 -18 1 0 367.7 845.7A1.95 1.15 -18 1 0 371.4 844.5ZM369.8 849.5A1.95 1.15 54 1 0 367.6 846.3A1.95 1.15 54 1 0 369.8 849.5ZM364.7 849.5A1.95 1.15 126 1 0 367.0 846.3A1.95 1.15 126 1 0 364.7 849.5ZM363.1 844.5A1.95 1.15 198 1 0 366.8 845.7A1.95 1.15 198 1 0 363.1 844.5ZM366.16 845.90a1.10 1.10 0 1 0 2.20 0a1.10 1.10 0 1 0 -2.20 0ZM379.1 841.5A1.95 1.15 -90 1 0 379.1 845.4A1.95 1.15 -90 1 0 379.1 841.5ZM383.2 844.5A1.95 1.15 -18 1 0 379.5 845.7A1.95 1.15 -18 1 0 383.2 844.5ZM381.6 849.5A1.95 1.15 54 1 0 379.4 846.3A1.95 1.15 54 1 0 381.6 849.5ZM376.5 849.5A1.95 1.15 126 1 0 378.8 846.3A1.95 1.15 126 1 0 376.5 849.5ZM374.9 844.5A1.95 1.15 198 1 0 378.6 845.7A1.95 1.15 198 1 0 374.9 844.5ZM377.96 845.90a1.10 1.10 0 1 0 2.20 0a1.10 1.10 0 1 0 -2.20 0ZM392.5 841.5A1.95 1.15 -90 1 0 392.5 845.4A1.95 1.15 -90 1 0 392.5 841.5ZM396.7 844.5A1.95 1.15 -18 1 0 393.0 845.7A1.95 1.15 -18 1 0 396.7 844.5ZM395.1 849.5A1.95 1.15 54 1 0 392.8 846.3A1.95 1.15 54 1 0 395.1 849.5ZM389.9 849.5A1.95 1.15 126 1 0 392.2 846.3A1.95 1.15 126 1 0 389.9 849.5ZM388.3 844.5A1.95 1.15 198 1 0 392.0 845.7A1.95 1.15 198 1 0 388.3 844.5ZM391.42 845.90a1.10 1.10 0 1 0 2.20 0a1.10 1.10 0 1 0 -2.20 0ZM404.3 841.5A1.95 1.15 -90 1 0 404.3 845.4A1.95 1.15 -90 1 0 404.3 841.5ZM408.5 844.5A1.95 1.15 -18 1 0 404.8 845.7A1.95 1.15 -18 1 0 408.5 844.5ZM406.9 849.5A1.95 1.15 54 1 0 404.6 846.3A1.95 1.15 54 1 0 406.9 849.5ZM401.7 849.5A1.95 1.15 126 1 0 404.0 846.3A1.95 1.15 126 1 0 401.7 849.5ZM400.1 844.5A1.95 1.15 198 1 0 403.8 845.7A1.95 1.15 198 1 0 400.1 844.5ZM403.22 845.90a1.10 1.10 0 1 0 2.20 0a1.10 1.10 0 1 0 -2.20 0ZM416.1 841.5A1.95 1.15 -90 1 0 416.1 845.4A1.95 1.15 -90 1 0 416.1 841.5ZM420.3 844.5A1.95 1.15 -18 1 0 416.6 845.7A1.95 1.15 -18 1 0 420.3 844.5ZM418.7 849.5A1.95 1.15 54 1 0 416.4 846.3A1.95 1.15 54 1 0 418.7 849.5ZM413.5 849.5A1.95 1.15 126 1 0 415.8 846.3A1.95 1.15 126 1 0 413.5 849.5ZM411.9 844.5A1.95 1.15 198 1 0 415.6 845.7A1.95 1.15 198 1 0 411.9 844.5ZM415.02 845.90a1.10 1.10 0 1 0 2.20 0a1.10 1.10 0 1 0 -2.20 0ZM367.3 864.1A1.95 1.15 -90 1 0 367.3 868.0A1.95 1.15 -90 1 0 367.3 864.1ZM371.4 867.1A1.95 1.15 -18 1 0 367.7 868.4A1.95 1.15 -18 1 0 371.4 867.1ZM369.8 872.1A1.95 1.15 54 1 0 367.6 868.9A1.95 1.15 54 1 0 369.8 872.1ZM364.7 872.1A1.95 1.15 126 1 0 367.0 868.9A1.95 1.15 126 1 0 364.7 872.1ZM363.1 867.1A1.95 1.15 198 1 0 366.8 868.4A1.95 1.15 198 1 0 363.1 867.1ZM366.16 868.50a1.10 1.10 0 1 0 2.20 0a1.10 1.10 0 1 0 -2.20 0ZM379.1 864.1A1.95 1.15 -90 1 0 379.1 868.0A1.95 1.15 -90 1 0 379.1 864.1ZM383.2 867.1A1.95 1.15 -18 1 0 379.5 868.4A1.95 1.15 -18 1 0 383.2 867.1ZM381.6 872.1A1.95 1.15 54 1 0 379.4 868.9A1.95 1.15 54 1 0 381.6 872.1ZM376.5 872.1A1.95 1.15 126 1 0 378.8 868.9A1.95 1.15 126 1 0 376.5 872.1ZM374.9 867.1A1.95 1.15 198 1 0 378.6 868.4A1.95 1.15 198 1 0 374.9 867.1ZM377.96 868.50a1.10 1.10 0 1 0 2.20 0a1.10 1.10 0 1 0 -2.20 0ZM392.5 864.1A1.95 1.15 -90 1 0 392.5 868.0A1.95 1.15 -90 1 0 392.5 864.1ZM396.7 867.1A1.95 1.15 -18 1 0 393.0 868.4A1.95 1.15 -18 1 0 396.7 867.1ZM395.1 872.1A1.95 1.15 54 1 0 392.8 868.9A1.95 1.15 54 1 0 395.1 872.1ZM389.9 872.1A1.95 1.15 126 1 0 392.2 868.9A1.95 1.15 126 1 0 389.9 872.1ZM388.3 867.1A1.95 1.15 198 1 0 392.0 868.4A1.95 1.15 198 1 0 388.3 867.1ZM391.42 868.50a1.10 1.10 0 1 0 2.20 0a1.10 1.10 0 1 0 -2.20 0ZM404.3 864.1A1.95 1.15 -90 1 0 404.3 868.0A1.95 1.15 -90 1 0 404.3 864.1ZM408.5 867.1A1.95 1.15 -18 1 0 404.8 868.4A1.95 1.15 -18 1 0 408.5 867.1ZM406.9 872.1A1.95 1.15 54 1 0 404.6 868.9A1.95 1.15 54 1 0 406.9 872.1ZM401.7 872.1A1.95 1.15 126 1 0 404.0 868.9A1.95 1.15 126 1 0 401.7 872.1ZM400.1 867.1A1.95 1.15 198 1 0 403.8 868.4A1.95 1.15 198 1 0 400.1 867.1ZM403.22 868.50a1.10 1.10 0 1 0 2.20 0a1.10 1.10 0 1 0 -2.20 0ZM416.1 864.1A1.95 1.15 -90 1 0 416.1 868.0A1.95 1.15 -90 1 0 416.1 864.1ZM420.3 867.1A1.95 1.15 -18 1 0 416.6 868.4A1.95 1.15 -18 1 0 420.3 867.1ZM418.7 872.1A1.95 1.15 54 1 0 416.4 868.9A1.95 1.15 54 1 0 418.7 872.1ZM413.5 872.1A1.95 1.15 126 1 0 415.8 868.9A1.95 1.15 126 1 0 413.5 872.1ZM411.9 867.1A1.95 1.15 198 1 0 415.6 868.4A1.95 1.15 198 1 0 411.9 867.1ZM415.02 868.50a1.10 1.10 0 1 0 2.20 0a1.10 1.10 0 1 0 -2.20 0ZM423.7 864.1A1.95 1.15 -90 1 0 423.7 868.0A1.95 1.15 -90 1 0 423.7 864.1ZM427.9 867.1A1.95 1.15 -18 1 0 424.1 868.4A1.95 1.15 -18 1 0 427.9 867.1ZM426.3 872.1A1.95 1.15 54 1 0 424.0 868.9A1.95 1.15 54 1 0 426.3 872.1ZM421.1 872.1A1.95 1.15 126 1 0 423.4 868.9A1.95 1.15 126 1 0 421.1 872.1ZM419.5 867.1A1.95 1.15 198 1 0 423.2 868.4A1.95 1.15 198 1 0 419.5 867.1ZM422.57 868.50a1.10 1.10 0 1 0 2.20 0a1.10 1.10 0 1 0 -2.20 0ZM435.5 864.1A1.95 1.15 -90 1 0 435.5 868.0A1.95 1.15 -90 1 0 435.5 864.1ZM439.7 867.1A1.95 1.15 -18 1 0 435.9 868.4A1.95 1.15 -18 1 0 439.7 867.1ZM438.1 872.1A1.95 1.15 54 1 0 435.8 868.9A1.95 1.15 54 1 0 438.1 872.1ZM432.9 872.1A1.95 1.15 126 1 0 435.2 868.9A1.95 1.15 126 1 0 432.9 872.1ZM431.3 867.1A1.95 1.15 198 1 0 435.0 868.4A1.95 1.15 198 1 0 431.3 867.1ZM434.37 868.50a1.10 1.10 0 1 0 2.20 0a1.10 1.10 0 1 0 -2.20 0ZM447.3 864.1A1.95 1.15 -90 1 0 447.3 868.0A1.95 1.15 -90 1 0 447.3 864.1ZM451.5 867.1A1.95 1.15 -18 1 0 447.7 868.4A1.95 1.15 -18 1 0 451.5 867.1ZM449.9 872.1A1.95 1.15 54 1 0 447.6 868.9A1.95 1.15 54 1 0 449.9 872.1ZM444.7 872.1A1.95 1.15 126 1 0 447.0 868.9A1.95 1.15 126 1 0 444.7 872.1ZM443.1 867.1A1.95 1.15 198 1 0 446.8 868.4A1.95 1.15 198 1 0 443.1 867.1ZM446.17 868.50a1.10 1.10 0 1 0 2.20 0a1.10 1.10 0 1 0 -2.20 0ZM310.9 886.7A1.95 1.15 -90 1 0 310.9 890.6A1.95 1.15 -90 1 0 310.9 886.7ZM315.0 889.8A1.95 1.15 -18 1 0 311.3 891.0A1.95 1.15 -18 1 0 315.0 889.8ZM313.4 894.7A1.95 1.15 54 1 0 311.1 891.5A1.95 1.15 54 1 0 313.4 894.7ZM308.3 894.7A1.95 1.15 126 1 0 310.6 891.5A1.95 1.15 126 1 0 308.3 894.7ZM306.7 889.8A1.95 1.15 198 1 0 310.4 891.0A1.95 1.15 198 1 0 306.7 889.8ZM309.75 891.12a1.10 1.10 0 1 0 2.20 0a1.10 1.10 0 1 0 -2.20 0ZM367.3 886.7A1.95 1.15 -90 1 0 367.3 890.6A1.95 1.15 -90 1 0 367.3 886.7ZM371.4 889.8A1.95 1.15 -18 1 0 367.7 891.0A1.95 1.15 -18 1 0 371.4 889.8ZM369.8 894.7A1.95 1.15 54 1 0 367.6 891.5A1.95 1.15 54 1 0 369.8 894.7ZM364.7 894.7A1.95 1.15 126 1 0 367.0 891.5A1.95 1.15 126 1 0 364.7 894.7ZM363.1 889.8A1.95 1.15 198 1 0 366.8 891.0A1.95 1.15 198 1 0 363.1 889.8ZM366.16 891.12a1.10 1.10 0 1 0 2.20 0a1.10 1.10 0 1 0 -2.20 0ZM379.1 886.7A1.95 1.15 -90 1 0 379.1 890.6A1.95 1.15 -90 1 0 379.1 886.7ZM383.2 889.8A1.95 1.15 -18 1 0 379.5 891.0A1.95 1.15 -18 1 0 383.2 889.8ZM381.6 894.7A1.95 1.15 54 1 0 379.4 891.5A1.95 1.15 54 1 0 381.6 894.7ZM376.5 894.7A1.95 1.15 126 1 0 378.8 891.5A1.95 1.15 126 1 0 376.5 894.7ZM374.9 889.8A1.95 1.15 198 1 0 378.6 891.0A1.95 1.15 198 1 0 374.9 889.8ZM377.96 891.12a1.10 1.10 0 1 0 2.20 0a1.10 1.10 0 1 0 -2.20 0ZM392.5 886.7A1.95 1.15 -90 1 0 392.5 890.6A1.95 1.15 -90 1 0 392.5 886.7ZM396.7 889.8A1.95 1.15 -18 1 0 393.0 891.0A1.95 1.15 -18 1 0 396.7 889.8ZM395.1 894.7A1.95 1.15 54 1 0 392.8 891.5A1.95 1.15 54 1 0 395.1 894.7ZM389.9 894.7A1.95 1.15 126 1 0 392.2 891.5A1.95 1.15 126 1 0 389.9 894.7ZM388.3 889.8A1.95 1.15 198 1 0 392.0 891.0A1.95 1.15 198 1 0 388.3 889.8ZM391.42 891.12a1.10 1.10 0 1 0 2.20 0a1.10 1.10 0 1 0 -2.20 0ZM404.3 886.7A1.95 1.15 -90 1 0 404.3 890.6A1.95 1.15 -90 1 0 404.3 886.7ZM408.5 889.8A1.95 1.15 -18 1 0 404.8 891.0A1.95 1.15 -18 1 0 408.5 889.8ZM406.9 894.7A1.95 1.15 54 1 0 404.6 891.5A1.95 1.15 54 1 0 406.9 894.7ZM401.7 894.7A1.95 1.15 126 1 0 404.0 891.5A1.95 1.15 126 1 0 401.7 894.7ZM400.1 889.8A1.95 1.15 198 1 0 403.8 891.0A1.95 1.15 198 1 0 400.1 889.8ZM403.22 891.12a1.10 1.10 0 1 0 2.20 0a1.10 1.10 0 1 0 -2.20 0ZM416.1 886.7A1.95 1.15 -90 1 0 416.1 890.6A1.95 1.15 -90 1 0 416.1 886.7ZM420.3 889.8A1.95 1.15 -18 1 0 416.6 891.0A1.95 1.15 -18 1 0 420.3 889.8ZM418.7 894.7A1.95 1.15 54 1 0 416.4 891.5A1.95 1.15 54 1 0 418.7 894.7ZM413.5 894.7A1.95 1.15 126 1 0 415.8 891.5A1.95 1.15 126 1 0 413.5 894.7ZM411.9 889.8A1.95 1.15 198 1 0 415.6 891.0A1.95 1.15 198 1 0 411.9 889.8ZM415.02 891.12a1.10 1.10 0 1 0 2.20 0a1.10 1.10 0 1 0 -2.20 0ZM423.7 886.7A1.95 1.15 -90 1 0 423.7 890.6A1.95 1.15 -90 1 0 423.7 886.7ZM427.9 889.8A1.95 1.15 -18 1 0 424.1 891.0A1.95 1.15 -18 1 0 427.9 889.8ZM426.3 894.7A1.95 1.15 54 1 0 424.0 891.5A1.95 1.15 54 1 0 426.3 894.7ZM421.1 894.7A1.95 1.15 126 1 0 423.4 891.5A1.95 1.15 126 1 0 421.1 894.7ZM419.5 889.8A1.95 1.15 198 1 0 423.2 891.0A1.95 1.15 198 1 0 419.5 889.8ZM422.57 891.12a1.10 1.10 0 1 0 2.20 0a1.10 1.10 0 1 0 -2.20 0ZM435.5 886.7A1.95 1.15 -90 1 0 435.5 890.6A1.95 1.15 -90 1 0 435.5 886.7ZM439.7 889.8A1.95 1.15 -18 1 0 435.9 891.0A1.95 1.15 -18 1 0 439.7 889.8ZM438.1 894.7A1.95 1.15 54 1 0 435.8 891.5A1.95 1.15 54 1 0 438.1 894.7ZM432.9 894.7A1.95 1.15 126 1 0 435.2 891.5A1.95 1.15 126 1 0 432.9 894.7ZM431.3 889.8A1.95 1.15 198 1 0 435.0 891.0A1.95 1.15 198 1 0 431.3 889.8ZM434.37 891.12a1.10 1.10 0 1 0 2.20 0a1.10 1.10 0 1 0 -2.20 0ZM447.3 886.7A1.95 1.15 -90 1 0 447.3 890.6A1.95 1.15 -90 1 0 447.3 886.7ZM451.5 889.8A1.95 1.15 -18 1 0 447.7 891.0A1.95 1.15 -18 1 0 451.5 889.8ZM449.9 894.7A1.95 1.15 54 1 0 447.6 891.5A1.95 1.15 54 1 0 449.9 894.7ZM444.7 894.7A1.95 1.15 126 1 0 447.0 891.5A1.95 1.15 126 1 0 444.7 894.7ZM443.1 889.8A1.95 1.15 198 1 0 446.8 891.0A1.95 1.15 198 1 0 443.1 889.8ZM446.17 891.12a1.10 1.10 0 1 0 2.20 0a1.10 1.10 0 1 0 -2.20 0ZM454.8 886.7A1.95 1.15 -90 1 0 454.8 890.6A1.95 1.15 -90 1 0 454.8 886.7ZM459.0 889.8A1.95 1.15 -18 1 0 455.3 891.0A1.95 1.15 -18 1 0 459.0 889.8ZM457.4 894.7A1.95 1.15 54 1 0 455.1 891.5A1.95 1.15 54 1 0 457.4 894.7ZM452.2 894.7A1.95 1.15 126 1 0 454.5 891.5A1.95 1.15 126 1 0 452.2 894.7ZM450.6 889.8A1.95 1.15 198 1 0 454.4 891.0A1.95 1.15 198 1 0 450.6 889.8ZM453.73 891.12a1.10 1.10 0 1 0 2.20 0a1.10 1.10 0 1 0 -2.20 0ZM466.6 886.7A1.95 1.15 -90 1 0 466.6 890.6A1.95 1.15 -90 1 0 466.6 886.7ZM470.8 889.8A1.95 1.15 -18 1 0 467.1 891.0A1.95 1.15 -18 1 0 470.8 889.8ZM469.2 894.7A1.95 1.15 54 1 0 466.9 891.5A1.95 1.15 54 1 0 469.2 894.7ZM464.0 894.7A1.95 1.15 126 1 0 466.3 891.5A1.95 1.15 126 1 0 464.0 894.7ZM462.4 889.8A1.95 1.15 198 1 0 466.2 891.0A1.95 1.15 198 1 0 462.4 889.8ZM465.53 891.12a1.10 1.10 0 1 0 2.20 0a1.10 1.10 0 1 0 -2.20 0ZM478.4 886.7A1.95 1.15 -90 1 0 478.4 890.6A1.95 1.15 -90 1 0 478.4 886.7ZM482.6 889.8A1.95 1.15 -18 1 0 478.9 891.0A1.95 1.15 -18 1 0 482.6 889.8ZM481.0 894.7A1.95 1.15 54 1 0 478.7 891.5A1.95 1.15 54 1 0 481.0 894.7ZM475.8 894.7A1.95 1.15 126 1 0 478.1 891.5A1.95 1.15 126 1 0 475.8 894.7ZM474.2 889.8A1.95 1.15 198 1 0 478.0 891.0A1.95 1.15 198 1 0 474.2 889.8ZM477.33 891.12a1.10 1.10 0 1 0 2.20 0a1.10 1.10 0 1 0 -2.20 0ZM373.2 909.3A1.95 1.15 -90 1 0 373.2 913.2A1.95 1.15 -90 1 0 373.2 909.3ZM377.3 912.4A1.95 1.15 -18 1 0 373.6 913.6A1.95 1.15 -18 1 0 377.3 912.4ZM375.7 917.3A1.95 1.15 54 1 0 373.5 914.1A1.95 1.15 54 1 0 375.7 917.3ZM370.6 917.3A1.95 1.15 126 1 0 372.9 914.1A1.95 1.15 126 1 0 370.6 917.3ZM369.0 912.4A1.95 1.15 198 1 0 372.7 913.6A1.95 1.15 198 1 0 369.0 912.4ZM372.06 913.73a1.10 1.10 0 1 0 2.20 0a1.10 1.10 0 1 0 -2.20 0ZM523.0 931.9A1.95 1.15 -90 1 0 523.0 935.8A1.95 1.15 -90 1 0 523.0 931.9ZM527.2 935.0A1.95 1.15 -18 1 0 523.5 936.2A1.95 1.15 -18 1 0 527.2 935.0ZM525.6 939.9A1.95 1.15 54 1 0 523.3 936.7A1.95 1.15 54 1 0 525.6 939.9ZM520.5 939.9A1.95 1.15 126 1 0 522.7 936.7A1.95 1.15 126 1 0 520.5 939.9ZM518.9 935.0A1.95 1.15 198 1 0 522.6 936.2A1.95 1.15 198 1 0 518.9 935.0ZM521.94 936.34a1.10 1.10 0 1 0 2.20 0a1.10 1.10 0 1 0 -2.20 0ZM534.8 931.9A1.95 1.15 -90 1 0 534.8 935.8A1.95 1.15 -90 1 0 534.8 931.9ZM539.0 935.0A1.95 1.15 -18 1 0 535.3 936.2A1.95 1.15 -18 1 0 539.0 935.0ZM537.4 939.9A1.95 1.15 54 1 0 535.1 936.7A1.95 1.15 54 1 0 537.4 939.9ZM532.3 939.9A1.95 1.15 126 1 0 534.5 936.7A1.95 1.15 126 1 0 532.3 939.9ZM530.7 935.0A1.95 1.15 198 1 0 534.4 936.2A1.95 1.15 198 1 0 530.7 935.0ZM533.74 936.34a1.10 1.10 0 1 0 2.20 0a1.10 1.10 0 1 0 -2.20 0ZM523.0 954.5A1.95 1.15 -90 1 0 523.0 958.4A1.95 1.15 -90 1 0 523.0 954.5ZM527.2 957.6A1.95 1.15 -18 1 0 523.5 958.8A1.95 1.15 -18 1 0 527.2 957.6ZM525.6 962.5A1.95 1.15 54 1 0 523.3 959.3A1.95 1.15 54 1 0 525.6 962.5ZM520.5 962.5A1.95 1.15 126 1 0 522.7 959.3A1.95 1.15 126 1 0 520.5 962.5ZM518.9 957.6A1.95 1.15 198 1 0 522.6 958.8A1.95 1.15 198 1 0 518.9 957.6ZM521.94 958.95a1.10 1.10 0 1 0 2.20 0a1.10 1.10 0 1 0 -2.20 0ZM534.8 954.5A1.95 1.15 -90 1 0 534.8 958.4A1.95 1.15 -90 1 0 534.8 954.5ZM539.0 957.6A1.95 1.15 -18 1 0 535.3 958.8A1.95 1.15 -18 1 0 539.0 957.6ZM537.4 962.5A1.95 1.15 54 1 0 535.1 959.3A1.95 1.15 54 1 0 537.4 962.5ZM532.3 962.5A1.95 1.15 126 1 0 534.5 959.3A1.95 1.15 126 1 0 532.3 962.5ZM530.7 957.6A1.95 1.15 198 1 0 534.4 958.8A1.95 1.15 198 1 0 530.7 957.6ZM533.74 958.95a1.10 1.10 0 1 0 2.20 0a1.10 1.10 0 1 0 -2.20 0ZM548.3 954.5A1.95 1.15 -90 1 0 548.3 958.4A1.95 1.15 -90 1 0 548.3 954.5ZM552.5 957.6A1.95 1.15 -18 1 0 548.8 958.8A1.95 1.15 -18 1 0 552.5 957.6ZM550.9 962.5A1.95 1.15 54 1 0 548.6 959.3A1.95 1.15 54 1 0 550.9 962.5ZM545.7 962.5A1.95 1.15 126 1 0 548.0 959.3A1.95 1.15 126 1 0 545.7 962.5ZM544.1 957.6A1.95 1.15 198 1 0 547.8 958.8A1.95 1.15 198 1 0 544.1 957.6ZM547.19 958.95a1.10 1.10 0 1 0 2.20 0a1.10 1.10 0 1 0 -2.20 0ZM560.1 954.5A1.95 1.15 -90 1 0 560.1 958.4A1.95 1.15 -90 1 0 560.1 954.5ZM564.3 957.6A1.95 1.15 -18 1 0 560.6 958.8A1.95 1.15 -18 1 0 564.3 957.6ZM562.7 962.5A1.95 1.15 54 1 0 560.4 959.3A1.95 1.15 54 1 0 562.7 962.5ZM557.5 962.5A1.95 1.15 126 1 0 559.8 959.3A1.95 1.15 126 1 0 557.5 962.5ZM555.9 957.6A1.95 1.15 198 1 0 559.6 958.8A1.95 1.15 198 1 0 555.9 957.6ZM558.99 958.95a1.10 1.10 0 1 0 2.20 0a1.10 1.10 0 1 0 -2.20 0ZM571.9 954.5A1.95 1.15 -90 1 0 571.9 958.4A1.95 1.15 -90 1 0 571.9 954.5ZM576.1 957.6A1.95 1.15 -18 1 0 572.4 958.8A1.95 1.15 -18 1 0 576.1 957.6ZM574.5 962.5A1.95 1.15 54 1 0 572.2 959.3A1.95 1.15 54 1 0 574.5 962.5ZM569.3 962.5A1.95 1.15 126 1 0 571.6 959.3A1.95 1.15 126 1 0 569.3 962.5ZM567.7 957.6A1.95 1.15 198 1 0 571.4 958.8A1.95 1.15 198 1 0 567.7 957.6ZM570.79 958.95a1.10 1.10 0 1 0 2.20 0a1.10 1.10 0 1 0 -2.20 0ZM517.1 977.2A1.95 1.15 -90 1 0 517.1 981.1A1.95 1.15 -90 1 0 517.1 977.2ZM521.3 980.2A1.95 1.15 -18 1 0 517.6 981.4A1.95 1.15 -18 1 0 521.3 980.2ZM519.7 985.1A1.95 1.15 54 1 0 517.4 982.0A1.95 1.15 54 1 0 519.7 985.1ZM514.6 985.1A1.95 1.15 126 1 0 516.8 982.0A1.95 1.15 126 1 0 514.6 985.1ZM513.0 980.2A1.95 1.15 198 1 0 516.7 981.4A1.95 1.15 198 1 0 513.0 980.2ZM516.04 981.56a1.10 1.10 0 1 0 2.20 0a1.10 1.10 0 1 0 -2.20 0ZM528.9 977.2A1.95 1.15 -90 1 0 528.9 981.1A1.95 1.15 -90 1 0 528.9 977.2ZM533.1 980.2A1.95 1.15 -18 1 0 529.4 981.4A1.95 1.15 -18 1 0 533.1 980.2ZM531.5 985.1A1.95 1.15 54 1 0 529.2 982.0A1.95 1.15 54 1 0 531.5 985.1ZM526.4 985.1A1.95 1.15 126 1 0 528.6 982.0A1.95 1.15 126 1 0 526.4 985.1ZM524.8 980.2A1.95 1.15 198 1 0 528.5 981.4A1.95 1.15 198 1 0 524.8 980.2ZM527.84 981.56a1.10 1.10 0 1 0 2.20 0a1.10 1.10 0 1 0 -2.20 0ZM540.7 977.2A1.95 1.15 -90 1 0 540.7 981.1A1.95 1.15 -90 1 0 540.7 977.2ZM544.9 980.2A1.95 1.15 -18 1 0 541.2 981.4A1.95 1.15 -18 1 0 544.9 980.2ZM543.3 985.1A1.95 1.15 54 1 0 541.0 982.0A1.95 1.15 54 1 0 543.3 985.1ZM538.2 985.1A1.95 1.15 126 1 0 540.4 982.0A1.95 1.15 126 1 0 538.2 985.1ZM536.6 980.2A1.95 1.15 198 1 0 540.3 981.4A1.95 1.15 198 1 0 536.6 980.2ZM539.64 981.56a1.10 1.10 0 1 0 2.20 0a1.10 1.10 0 1 0 -2.20 0ZM548.3 977.2A1.95 1.15 -90 1 0 548.3 981.1A1.95 1.15 -90 1 0 548.3 977.2ZM552.5 980.2A1.95 1.15 -18 1 0 548.8 981.4A1.95 1.15 -18 1 0 552.5 980.2ZM550.9 985.1A1.95 1.15 54 1 0 548.6 982.0A1.95 1.15 54 1 0 550.9 985.1ZM545.7 985.1A1.95 1.15 126 1 0 548.0 982.0A1.95 1.15 126 1 0 545.7 985.1ZM544.1 980.2A1.95 1.15 198 1 0 547.8 981.4A1.95 1.15 198 1 0 544.1 980.2ZM547.19 981.56a1.10 1.10 0 1 0 2.20 0a1.10 1.10 0 1 0 -2.20 0ZM560.1 977.2A1.95 1.15 -90 1 0 560.1 981.1A1.95 1.15 -90 1 0 560.1 977.2ZM564.3 980.2A1.95 1.15 -18 1 0 560.6 981.4A1.95 1.15 -18 1 0 564.3 980.2ZM562.7 985.1A1.95 1.15 54 1 0 560.4 982.0A1.95 1.15 54 1 0 562.7 985.1ZM557.5 985.1A1.95 1.15 126 1 0 559.8 982.0A1.95 1.15 126 1 0 557.5 985.1ZM555.9 980.2A1.95 1.15 198 1 0 559.6 981.4A1.95 1.15 198 1 0 555.9 980.2ZM558.99 981.56a1.10 1.10 0 1 0 2.20 0a1.10 1.10 0 1 0 -2.20 0ZM571.9 977.2A1.95 1.15 -90 1 0 571.9 981.1A1.95 1.15 -90 1 0 571.9 977.2ZM576.1 980.2A1.95 1.15 -18 1 0 572.4 981.4A1.95 1.15 -18 1 0 576.1 980.2ZM574.5 985.1A1.95 1.15 54 1 0 572.2 982.0A1.95 1.15 54 1 0 574.5 985.1ZM569.3 985.1A1.95 1.15 126 1 0 571.6 982.0A1.95 1.15 126 1 0 569.3 985.1ZM567.7 980.2A1.95 1.15 198 1 0 571.4 981.4A1.95 1.15 198 1 0 567.7 980.2ZM570.79 981.56a1.10 1.10 0 1 0 2.20 0a1.10 1.10 0 1 0 -2.20 0ZM579.4 977.2A1.95 1.15 -90 1 0 579.4 981.1A1.95 1.15 -90 1 0 579.4 977.2ZM583.6 980.2A1.95 1.15 -18 1 0 579.9 981.4A1.95 1.15 -18 1 0 583.6 980.2ZM582.0 985.1A1.95 1.15 54 1 0 579.7 982.0A1.95 1.15 54 1 0 582.0 985.1ZM576.9 985.1A1.95 1.15 126 1 0 579.2 982.0A1.95 1.15 126 1 0 576.9 985.1ZM575.3 980.2A1.95 1.15 198 1 0 579.0 981.4A1.95 1.15 198 1 0 575.3 980.2ZM578.35 981.56a1.10 1.10 0 1 0 2.20 0a1.10 1.10 0 1 0 -2.20 0ZM591.2 977.2A1.95 1.15 -90 1 0 591.2 981.1A1.95 1.15 -90 1 0 591.2 977.2ZM595.4 980.2A1.95 1.15 -18 1 0 591.7 981.4A1.95 1.15 -18 1 0 595.4 980.2ZM593.8 985.1A1.95 1.15 54 1 0 591.5 982.0A1.95 1.15 54 1 0 593.8 985.1ZM588.7 985.1A1.95 1.15 126 1 0 591.0 982.0A1.95 1.15 126 1 0 588.7 985.1ZM587.1 980.2A1.95 1.15 198 1 0 590.8 981.4A1.95 1.15 198 1 0 587.1 980.2ZM590.15 981.56a1.10 1.10 0 1 0 2.20 0a1.10 1.10 0 1 0 -2.20 0ZM603.0 977.2A1.95 1.15 -90 1 0 603.0 981.1A1.95 1.15 -90 1 0 603.0 977.2ZM607.2 980.2A1.95 1.15 -18 1 0 603.5 981.4A1.95 1.15 -18 1 0 607.2 980.2ZM605.6 985.1A1.95 1.15 54 1 0 603.3 982.0A1.95 1.15 54 1 0 605.6 985.1ZM600.5 985.1A1.95 1.15 126 1 0 602.8 982.0A1.95 1.15 126 1 0 600.5 985.1ZM598.9 980.2A1.95 1.15 198 1 0 602.6 981.4A1.95 1.15 198 1 0 598.9 980.2ZM601.95 981.56a1.10 1.10 0 1 0 2.20 0a1.10 1.10 0 1 0 -2.20 0ZM373.2 999.8A1.95 1.15 -90 1 0 373.2 1003.7A1.95 1.15 -90 1 0 373.2 999.8ZM377.3 1002.8A1.95 1.15 -18 1 0 373.6 1004.0A1.95 1.15 -18 1 0 377.3 1002.8ZM375.7 1007.7A1.95 1.15 54 1 0 373.5 1004.6A1.95 1.15 54 1 0 375.7 1007.7ZM370.6 1007.7A1.95 1.15 126 1 0 372.9 1004.6A1.95 1.15 126 1 0 370.6 1007.7ZM369.0 1002.8A1.95 1.15 198 1 0 372.7 1004.0A1.95 1.15 198 1 0 369.0 1002.8ZM372.06 1004.17a1.10 1.10 0 1 0 2.20 0a1.10 1.10 0 1 0 -2.20 0ZM554.2 1022.4A1.95 1.15 -90 1 0 554.2 1026.3A1.95 1.15 -90 1 0 554.2 1022.4ZM558.4 1025.4A1.95 1.15 -18 1 0 554.7 1026.6A1.95 1.15 -18 1 0 558.4 1025.4ZM556.8 1030.3A1.95 1.15 54 1 0 554.5 1027.2A1.95 1.15 54 1 0 556.8 1030.3ZM551.6 1030.3A1.95 1.15 126 1 0 553.9 1027.2A1.95 1.15 126 1 0 551.6 1030.3ZM550.0 1025.4A1.95 1.15 198 1 0 553.7 1026.6A1.95 1.15 198 1 0 550.0 1025.4ZM553.09 1026.78a1.10 1.10 0 1 0 2.20 0a1.10 1.10 0 1 0 -2.20 0ZM566.0 1022.4A1.95 1.15 -90 1 0 566.0 1026.3A1.95 1.15 -90 1 0 566.0 1022.4ZM570.2 1025.4A1.95 1.15 -18 1 0 566.5 1026.6A1.95 1.15 -18 1 0 570.2 1025.4ZM568.6 1030.3A1.95 1.15 54 1 0 566.3 1027.2A1.95 1.15 54 1 0 568.6 1030.3ZM563.4 1030.3A1.95 1.15 126 1 0 565.7 1027.2A1.95 1.15 126 1 0 563.4 1030.3ZM561.8 1025.4A1.95 1.15 198 1 0 565.5 1026.6A1.95 1.15 198 1 0 561.8 1025.4ZM564.89 1026.78a1.10 1.10 0 1 0 2.20 0a1.10 1.10 0 1 0 -2.20 0ZM591.2 1022.4A1.95 1.15 -90 1 0 591.2 1026.3A1.95 1.15 -90 1 0 591.2 1022.4ZM595.4 1025.4A1.95 1.15 -18 1 0 591.7 1026.6A1.95 1.15 -18 1 0 595.4 1025.4ZM593.8 1030.3A1.95 1.15 54 1 0 591.5 1027.2A1.95 1.15 54 1 0 593.8 1030.3ZM588.7 1030.3A1.95 1.15 126 1 0 591.0 1027.2A1.95 1.15 126 1 0 588.7 1030.3ZM587.1 1025.4A1.95 1.15 198 1 0 590.8 1026.6A1.95 1.15 198 1 0 587.1 1025.4ZM590.15 1026.78a1.10 1.10 0 1 0 2.20 0a1.10 1.10 0 1 0 -2.20 0ZM616.5 1022.4A1.95 1.15 -90 1 0 616.5 1026.3A1.95 1.15 -90 1 0 616.5 1022.4ZM620.7 1025.4A1.95 1.15 -18 1 0 617.0 1026.6A1.95 1.15 -18 1 0 620.7 1025.4ZM619.1 1030.3A1.95 1.15 54 1 0 616.8 1027.2A1.95 1.15 54 1 0 619.1 1030.3ZM613.9 1030.3A1.95 1.15 126 1 0 616.2 1027.2A1.95 1.15 126 1 0 613.9 1030.3ZM612.3 1025.4A1.95 1.15 198 1 0 616.0 1026.6A1.95 1.15 198 1 0 612.3 1025.4ZM615.40 1026.78a1.10 1.10 0 1 0 2.20 0a1.10 1.10 0 1 0 -2.20 0ZM628.3 1022.4A1.95 1.15 -90 1 0 628.3 1026.3A1.95 1.15 -90 1 0 628.3 1022.4ZM632.5 1025.4A1.95 1.15 -18 1 0 628.8 1026.6A1.95 1.15 -18 1 0 632.5 1025.4ZM630.9 1030.3A1.95 1.15 54 1 0 628.6 1027.2A1.95 1.15 54 1 0 630.9 1030.3ZM625.7 1030.3A1.95 1.15 126 1 0 628.0 1027.2A1.95 1.15 126 1 0 625.7 1030.3ZM624.1 1025.4A1.95 1.15 198 1 0 627.8 1026.6A1.95 1.15 198 1 0 624.1 1025.4ZM627.20 1026.78a1.10 1.10 0 1 0 2.20 0a1.10 1.10 0 1 0 -2.20 0ZM653.6 1022.4A1.95 1.15 -90 1 0 653.6 1026.3A1.95 1.15 -90 1 0 653.6 1022.4ZM657.7 1025.4A1.95 1.15 -18 1 0 654.0 1026.6A1.95 1.15 -18 1 0 657.7 1025.4ZM656.1 1030.3A1.95 1.15 54 1 0 653.9 1027.2A1.95 1.15 54 1 0 656.1 1030.3ZM651.0 1030.3A1.95 1.15 126 1 0 653.3 1027.2A1.95 1.15 126 1 0 651.0 1030.3ZM649.4 1025.4A1.95 1.15 198 1 0 653.1 1026.6A1.95 1.15 198 1 0 649.4 1025.4ZM652.46 1026.78a1.10 1.10 0 1 0 2.20 0a1.10 1.10 0 1 0 -2.20 0ZM373.2 1045.0A1.95 1.15 -90 1 0 373.2 1048.9A1.95 1.15 -90 1 0 373.2 1045.0ZM377.3 1048.0A1.95 1.15 -18 1 0 373.6 1049.2A1.95 1.15 -18 1 0 377.3 1048.0ZM375.7 1052.9A1.95 1.15 54 1 0 373.5 1049.8A1.95 1.15 54 1 0 375.7 1052.9ZM370.6 1052.9A1.95 1.15 126 1 0 372.9 1049.8A1.95 1.15 126 1 0 370.6 1052.9ZM369.0 1048.0A1.95 1.15 198 1 0 372.7 1049.2A1.95 1.15 198 1 0 369.0 1048.0ZM372.06 1049.39a1.10 1.10 0 1 0 2.20 0a1.10 1.10 0 1 0 -2.20 0ZM653.6 1045.0A1.95 1.15 -90 1 0 653.6 1048.9A1.95 1.15 -90 1 0 653.6 1045.0ZM657.7 1048.0A1.95 1.15 -18 1 0 654.0 1049.2A1.95 1.15 -18 1 0 657.7 1048.0ZM656.1 1052.9A1.95 1.15 54 1 0 653.9 1049.8A1.95 1.15 54 1 0 656.1 1052.9ZM651.0 1052.9A1.95 1.15 126 1 0 653.3 1049.8A1.95 1.15 126 1 0 651.0 1052.9ZM649.4 1048.0A1.95 1.15 198 1 0 653.1 1049.2A1.95 1.15 198 1 0 649.4 1048.0ZM652.46 1049.39a1.10 1.10 0 1 0 2.20 0a1.10 1.10 0 1 0 -2.20 0Z"/>
<rect x="139.5" y="633.7" width="623.1" height="452.2" fill="none" stroke="#3c3c3c" stroke-width="1.8"/>
<g font-family='"Liberation Serif", serif' font-weight="bold" font-size="18.0" text-anchor="end" fill="#000"><text x="132.6" y="648.3">AN</text><text x="132.6" y="670.51">AP</text><text x="132.6" y="691.23">SOC</text><text x="130.8" y="713.13">pH</text><text x="134.1" y="734.45">Ca<tspan font-size="12.2" dy="-8.2" dx="0.8">2+</tspan></text><text x="132.6" y="759.56">VWC</text><text x="132.6" y="784.77">BD</text><text x="132.6" y="807.78">NCP</text><text x="132.6" y="830.79">CP</text><text x="132.6" y="853.3">TP</text><text x="132.6" y="876.5">SA</text><text x="132.6" y="899.82">SP</text><text x="132.6" y="923.03">Chao&#160;1</text><text x="132.6" y="942.94">Pielou_e</text><text x="132.6" y="968.55">Simpson</text><text x="132.6" y="993.26">Shannon</text><text x="132.6" y="1018.77" font-style="italic">Paraglomus</text><text x="132.6" y="1038.38" font-style="italic">Glomus</text><text x="132.6" y="1060.59" font-style="italic">Ambispora</text><text x="134.1" y="1084.39" font-style="italic">Claroideoglomus</text></g>
<g font-family='"Liberation Serif", serif' font-weight="bold" font-size="19.8" text-anchor="end" fill="#000"><text x="166.18" y="1104.5" transform="rotate(-45 166.18 1104.5)">AN</text><text x="197.03" y="1104.5" transform="rotate(-45 197.03 1104.5)">AP</text><text x="233.29" y="1104.5" transform="rotate(-45 233.29 1104.5)">SOC</text><text x="258.14" y="1104.5" transform="rotate(-45 258.14 1104.5)">pH</text><text x="294.5" y="1105" transform="rotate(-45 294.5 1105)">Ca<tspan font-size="13.5" dy="-8.5" dx="0.8">2+</tspan></text><text x="323.45" y="1103.5" transform="rotate(-45 323.45 1103.5)">VWC</text><text x="351.21" y="1103.7" transform="rotate(-45 351.21 1103.7)">BD</text><text x="382.76" y="1104.5" transform="rotate(-45 382.76 1104.5)">NCP</text><text x="413.92" y="1104.5" transform="rotate(-45 413.92 1104.5)">CP</text><text x="445.07" y="1104.5" transform="rotate(-45 445.07 1104.5)">TP</text><text x="476.23" y="1104.5" transform="rotate(-45 476.23 1104.5)">SA</text><text x="508.88" y="1104.5" transform="rotate(-45 508.88 1104.5)">SP</text><text x="538.54" y="1104.5" transform="rotate(-45 538.54 1104.5)">Chao&#160;1</text><text x="569.69" y="1104.5" transform="rotate(-45 569.69 1104.5)">Pielou_e</text><text x="600.85" y="1104.5" transform="rotate(-45 600.85 1104.5)">Simpson</text><text x="632" y="1104.5" transform="rotate(-45 632 1104.5)">Shannon</text><text x="662.16" y="1105.5" transform="rotate(-45 662.16 1105.5)" font-style="italic">Paraglomus</text><text x="693.31" y="1105.5" transform="rotate(-45 693.31 1105.5)" font-style="italic">Glomus</text><text x="723.47" y="1105.5" transform="rotate(-45 723.47 1105.5)" font-style="italic">Ambispora</text><text x="757.62" y="1104.5" transform="rotate(-45 757.62 1104.5)" font-style="italic">Claroideoglomus</text></g>
<defs><linearGradient id="gb" x1="0" y1="0" x2="0" y2="1">
<stop offset="0" stop-color="#ff0000"/>
<stop offset="0.03" stop-color="#ff0707"/>
<stop offset="0.05" stop-color="#ff0f0f"/>
<stop offset="0.07" stop-color="#ff1919"/>
<stop offset="0.1" stop-color="#ff2424"/>
<stop offset="0.12" stop-color="#ff2f2f"/>
<stop offset="0.15" stop-color="#ff3b3b"/>
<stop offset="0.17" stop-color="#ff4747"/>
<stop offset="0.2" stop-color="#ff5353"/>
<stop offset="0.23" stop-color="#ff6060"/>
<stop offset="0.25" stop-color="#ff6d6d"/>
<stop offset="0.28" stop-color="#ff7b7b"/>
<stop offset="0.3" stop-color="#ff8989"/>
<stop offset="0.33" stop-color="#ff9797"/>
<stop offset="0.35" stop-color="#ffa5a5"/>
<stop offset="0.38" stop-color="#ffb4b4"/>
<stop offset="0.4" stop-color="#ffc2c2"/>
<stop offset="0.42" stop-color="#ffd1d1"/>
<stop offset="0.45" stop-color="#ffe0e0"/>
<stop offset="0.47" stop-color="#fff0f0"/>
<stop offset="0.5" stop-color="#ffffff"/>
<stop offset="0.53" stop-color="#f2f2fb"/>
<stop offset="0.55" stop-color="#e5e5f6"/>
<stop offset="0.57" stop-color="#d9d9f2"/>
<stop offset="0.6" stop-color="#ccccee"/>
<stop offset="0.62" stop-color="#bfbfea"/>
<stop offset="0.65" stop-color="#b2b2e6"/>
<stop offset="0.68" stop-color="#a6a6e1"/>
<stop offset="0.7" stop-color="#9999dd"/>
<stop offset="0.72" stop-color="#8c8cd9"/>
<stop offset="0.75" stop-color="#8080d4"/>
<stop offset="0.78" stop-color="#7373d0"/>
<stop offset="0.8" stop-color="#6666cc"/>
<stop offset="0.82" stop-color="#5959c8"/>
<stop offset="0.85" stop-color="#4c4cc4"/>
<stop offset="0.88" stop-color="#4040bf"/>
<stop offset="0.9" stop-color="#3333bb"/>
<stop offset="0.93" stop-color="#2626b7"/>
<stop offset="0.95" stop-color="#1a1ab2"/>
<stop offset="0.97" stop-color="#0d0dae"/>
<stop offset="1" stop-color="#0000aa"/>
</linearGradient></defs>
<rect x="771.2" y="638.7" width="27.5" height="441.9" fill="url(#gb)" stroke="#333" stroke-width="1"/>
<path d="M798.7 638.7H806.5M798.7 682.89H806.5M798.7 727.08H806.5M798.7 771.27H806.5M798.7 815.46H806.5M798.7 859.65H806.5M798.7 903.84H806.5M798.7 948.03H806.5M798.7 992.22H806.5M798.7 1036.41H806.5M798.7 1080.6H806.5" stroke="#444" stroke-width="1.3"/>
<g font-family='"Liberation Serif", serif' font-weight="bold" font-size="14.2" fill="#000"><text x="812.4" y="644">1</text><text x="812.4" y="688.19">0.8</text><text x="812.4" y="732.38">0.6</text><text x="812.4" y="776.57">0.4</text><text x="812.4" y="820.76">0.2</text><text x="812.4" y="864.95">0</text><text x="812.4" y="909.14">-0.2</text><text x="812.4" y="953.33">-0.4</text><text x="812.4" y="997.52">-0.6</text><text x="812.4" y="1041.71">-0.8</text><text x="812.4" y="1085.9">-1</text></g>
<text x="46.8" y="663.5" font-family='"Liberation Serif", serif' font-weight="bold" font-size="30.4">(b)</text>
<g font-family='"Liberation Serif", serif' font-weight="bold" font-style="italic" font-size="19.3"><text x="56.4" y="1220.7">p&lt;=0.05</text><text x="153.2" y="1220.7">p&lt;=0.01</text><text x="260" y="1220.7">p&lt;=0.001</text></g>
<path fill="#333" d="M47.8 1208.1A1.60 0.94 -90 1 0 47.8 1211.3A1.60 0.94 -90 1 0 47.8 1208.1ZM51.2 1210.6A1.60 0.94 -18 1 0 48.2 1211.6A1.60 0.94 -18 1 0 51.2 1210.6ZM49.9 1214.6A1.60 0.94 54 1 0 48.0 1212.0A1.60 0.94 54 1 0 49.9 1214.6ZM45.7 1214.6A1.60 0.94 126 1 0 47.6 1212.0A1.60 0.94 126 1 0 45.7 1214.6ZM44.4 1210.6A1.60 0.94 198 1 0 47.4 1211.6A1.60 0.94 198 1 0 44.4 1210.6ZM46.90 1211.70a0.90 0.90 0 1 0 1.80 0a0.90 0.90 0 1 0 -1.80 0ZM136.2 1208.1A1.60 0.94 -90 1 0 136.2 1211.3A1.60 0.94 -90 1 0 136.2 1208.1ZM139.6 1210.6A1.60 0.94 -18 1 0 136.6 1211.6A1.60 0.94 -18 1 0 139.6 1210.6ZM138.3 1214.6A1.60 0.94 54 1 0 136.4 1212.0A1.60 0.94 54 1 0 138.3 1214.6ZM134.1 1214.6A1.60 0.94 126 1 0 136.0 1212.0A1.60 0.94 126 1 0 134.1 1214.6ZM132.8 1210.6A1.60 0.94 198 1 0 135.8 1211.6A1.60 0.94 198 1 0 132.8 1210.6ZM135.30 1211.70a0.90 0.90 0 1 0 1.80 0a0.90 0.90 0 1 0 -1.80 0ZM145.8 1208.1A1.60 0.94 -90 1 0 145.8 1211.3A1.60 0.94 -90 1 0 145.8 1208.1ZM149.2 1210.6A1.60 0.94 -18 1 0 146.2 1211.6A1.60 0.94 -18 1 0 149.2 1210.6ZM147.9 1214.6A1.60 0.94 54 1 0 146.0 1212.0A1.60 0.94 54 1 0 147.9 1214.6ZM143.7 1214.6A1.60 0.94 126 1 0 145.6 1212.0A1.60 0.94 126 1 0 143.7 1214.6ZM142.4 1210.6A1.60 0.94 198 1 0 145.4 1211.6A1.60 0.94 198 1 0 142.4 1210.6ZM144.90 1211.70a0.90 0.90 0 1 0 1.80 0a0.90 0.90 0 1 0 -1.80 0ZM233.0 1208.1A1.60 0.94 -90 1 0 233.0 1211.3A1.60 0.94 -90 1 0 233.0 1208.1ZM236.4 1210.6A1.60 0.94 -18 1 0 233.4 1211.6A1.60 0.94 -18 1 0 236.4 1210.6ZM235.1 1214.6A1.60 0.94 54 1 0 233.2 1212.0A1.60 0.94 54 1 0 235.1 1214.6ZM230.9 1214.6A1.60 0.94 126 1 0 232.8 1212.0A1.60 0.94 126 1 0 230.9 1214.6ZM229.6 1210.6A1.60 0.94 198 1 0 232.6 1211.6A1.60 0.94 198 1 0 229.6 1210.6ZM232.10 1211.70a0.90 0.90 0 1 0 1.80 0a0.90 0.90 0 1 0 -1.80 0ZM242.6 1208.1A1.60 0.94 -90 1 0 242.6 1211.3A1.60 0.94 -90 1 0 242.6 1208.1ZM246.0 1210.6A1.60 0.94 -18 1 0 243.0 1211.6A1.60 0.94 -18 1 0 246.0 1210.6ZM244.7 1214.6A1.60 0.94 54 1 0 242.8 1212.0A1.60 0.94 54 1 0 244.7 1214.6ZM240.5 1214.6A1.60 0.94 126 1 0 242.4 1212.0A1.60 0.94 126 1 0 240.5 1214.6ZM239.2 1210.6A1.60 0.94 198 1 0 242.2 1211.6A1.60 0.94 198 1 0 239.2 1210.6ZM241.70 1211.70a0.90 0.90 0 1 0 1.80 0a0.90 0.90 0 1 0 -1.80 0ZM252.2 1208.1A1.60 0.94 -90 1 0 252.2 1211.3A1.60 0.94 -90 1 0 252.2 1208.1ZM255.6 1210.6A1.60 0.94 -18 1 0 252.6 1211.6A1.60 0.94 -18 1 0 255.6 1210.6ZM254.3 1214.6A1.60 0.94 54 1 0 252.4 1212.0A1.60 0.94 54 1 0 254.3 1214.6ZM250.1 1214.6A1.60 0.94 126 1 0 252.0 1212.0A1.60 0.94 126 1 0 250.1 1214.6ZM248.8 1210.6A1.60 0.94 198 1 0 251.8 1211.6A1.60 0.94 198 1 0 248.8 1210.6ZM251.30 1211.70a0.90 0.90 0 1 0 1.80 0a0.90 0.90 0 1 0 -1.80 0Z"/>
<path d="M170.63 1234.5V1691.8M139.1 1257.37H769.8M202.17 1234.5V1691.8M139.1 1280.23H769.8M233.7 1234.5V1691.8M139.1 1303.1H769.8M265.24 1234.5V1691.8M139.1 1325.96H769.8M296.77 1234.5V1691.8M139.1 1348.83H769.8M328.31 1234.5V1691.8M139.1 1371.69H769.8M359.84 1234.5V1691.8M139.1 1394.56H769.8M391.38 1234.5V1691.8M139.1 1417.42H769.8M422.91 1234.5V1691.8M139.1 1440.29H769.8M454.45 1234.5V1691.8M139.1 1463.15H769.8M485.99 1234.5V1691.8M139.1 1486.01H769.8M517.52 1234.5V1691.8M139.1 1508.88H769.8M549.05 1234.5V1691.8M139.1 1531.74H769.8M580.59 1234.5V1691.8M139.1 1554.61H769.8M612.12 1234.5V1691.8M139.1 1577.47H769.8M643.66 1234.5V1691.8M139.1 1600.34H769.8M675.19 1234.5V1691.8M139.1 1623.2H769.8M706.73 1234.5V1691.8M139.1 1646.07H769.8M738.26 1234.5V1691.8M139.1 1668.93H769.8" stroke="#efefef" stroke-width="1" fill="none"/>
<circle cx="154.87" cy="1268.8" r="6.83" fill="#ff7e7e"/>
<circle cx="154.87" cy="1291.66" r="9.49" fill="#ff1919"/>
<circle cx="186.4" cy="1291.66" r="7.2" fill="#ff7070"/>
<circle cx="154.87" cy="1314.53" r="3.71" fill="#ffd7d7"/>
<circle cx="186.4" cy="1314.53" r="4.12" fill="#ffcece"/>
<circle cx="217.94" cy="1314.53" r="0.92" fill="#fdfdfe"/>
<circle cx="154.87" cy="1337.39" r="6.17" fill="#ff9494"/>
<circle cx="186.4" cy="1337.39" r="4.93" fill="#ffb9b9"/>
<circle cx="217.94" cy="1337.39" r="5.73" fill="#ffa2a2"/>
<circle cx="249.47" cy="1337.39" r="9.26" fill="#ff2222"/>
<circle cx="154.87" cy="1360.26" r="6" fill="#a8a8e2"/>
<circle cx="186.4" cy="1360.26" r="3.02" fill="#e9e9f8"/>
<circle cx="217.94" cy="1360.26" r="6" fill="#a8a8e2"/>
<circle cx="249.47" cy="1360.26" r="5.73" fill="#ffa2a2"/>
<circle cx="281.01" cy="1360.26" r="5.44" fill="#ffabab"/>
<circle cx="154.87" cy="1383.12" r="7.84" fill="#6b6bce"/>
<circle cx="186.4" cy="1383.12" r="4.6" fill="#ccccee"/>
<circle cx="217.94" cy="1383.12" r="7.2" fill="#8282d5"/>
<circle cx="249.47" cy="1383.12" r="5.25" fill="#bdbde9"/>
<circle cx="281.01" cy="1383.12" r="7.42" fill="#7a7ad3"/>
<circle cx="312.54" cy="1383.12" r="2.41" fill="#ffeeee"/>
<circle cx="154.87" cy="1405.99" r="3.85" fill="#ffd4d4"/>
<circle cx="186.4" cy="1405.99" r="2.35" fill="#ffefef"/>
<circle cx="217.94" cy="1405.99" r="3.25" fill="#ffe0e0"/>
<circle cx="249.47" cy="1405.99" r="1.63" fill="#fff7f7"/>
<circle cx="281.01" cy="1405.99" r="1.78" fill="#fff6f6"/>
<circle cx="312.54" cy="1405.99" r="5.82" fill="#adade4"/>
<circle cx="344.08" cy="1405.99" r="6.9" fill="#8c8cd9"/>
<circle cx="154.87" cy="1428.85" r="5.35" fill="#ffaeae"/>
<circle cx="186.4" cy="1428.85" r="3.25" fill="#ffe0e0"/>
<circle cx="217.94" cy="1428.85" r="4.83" fill="#ffbcbc"/>
<circle cx="249.47" cy="1428.85" r="5.64" fill="#ffa5a5"/>
<circle cx="281.01" cy="1428.85" r="7.2" fill="#ff7070"/>
<circle cx="312.54" cy="1428.85" r="7.2" fill="#ff7070"/>
<circle cx="344.08" cy="1428.85" r="7.42" fill="#7a7ad3"/>
<circle cx="375.61" cy="1428.85" r="5.91" fill="#ff9c9c"/>
<circle cx="154.87" cy="1451.72" r="5.35" fill="#ffaeae"/>
<circle cx="186.4" cy="1451.72" r="3.25" fill="#ffe0e0"/>
<circle cx="217.94" cy="1451.72" r="4.83" fill="#ffbcbc"/>
<circle cx="249.47" cy="1451.72" r="5.35" fill="#ffaeae"/>
<circle cx="281.01" cy="1451.72" r="6.83" fill="#ff7e7e"/>
<circle cx="312.54" cy="1451.72" r="6.34" fill="#ff8e8e"/>
<circle cx="344.08" cy="1451.72" r="7.77" fill="#6e6ecf"/>
<circle cx="375.61" cy="1451.72" r="7.28" fill="#ff6d6d"/>
<circle cx="407.15" cy="1451.72" r="10.19" fill="#ff0202"/>
<circle cx="154.87" cy="1474.58" r="7.2" fill="#ff7070"/>
<circle cx="186.4" cy="1474.58" r="4.12" fill="#ffcece"/>
<circle cx="217.94" cy="1474.58" r="6.75" fill="#ff8080"/>
<circle cx="249.47" cy="1474.58" r="3.41" fill="#ffdddd"/>
<circle cx="281.01" cy="1474.58" r="5.73" fill="#ffa2a2"/>
<circle cx="312.54" cy="1474.58" r="4.24" fill="#d4d4f1"/>
<circle cx="344.08" cy="1474.58" r="8.23" fill="#5c5cc9"/>
<circle cx="375.61" cy="1474.58" r="8.73" fill="#ff3636"/>
<circle cx="407.15" cy="1474.58" r="9.03" fill="#ff2a2a"/>
<circle cx="438.68" cy="1474.58" r="9.49" fill="#ff1919"/>
<circle cx="154.87" cy="1497.45" r="5.25" fill="#ffb1b1"/>
<circle cx="186.4" cy="1497.45" r="3.41" fill="#ffdddd"/>
<circle cx="217.94" cy="1497.45" r="4.6" fill="#ffc2c2"/>
<circle cx="249.47" cy="1497.45" r="5.44" fill="#ffabab"/>
<circle cx="281.01" cy="1497.45" r="6.83" fill="#ff7e7e"/>
<circle cx="312.54" cy="1497.45" r="6.43" fill="#ff8c8c"/>
<circle cx="344.08" cy="1497.45" r="7.56" fill="#7575d1"/>
<circle cx="375.61" cy="1497.45" r="7.2" fill="#ff7070"/>
<circle cx="407.15" cy="1497.45" r="10.19" fill="#ff0202"/>
<circle cx="438.68" cy="1497.45" r="10.29" fill="#ff0000"/>
<circle cx="470.22" cy="1497.45" r="9.43" fill="#ff1b1b"/>
<circle cx="154.87" cy="1520.31" r="3.71" fill="#ffd7d7"/>
<circle cx="186.4" cy="1520.31" r="4.6" fill="#ffc2c2"/>
<circle cx="217.94" cy="1520.31" r="5.04" fill="#ffb6b6"/>
<circle cx="249.47" cy="1520.31" r="4.12" fill="#d6d6f1"/>
<circle cx="281.01" cy="1520.31" r="4.12" fill="#d6d6f1"/>
<circle cx="312.54" cy="1520.31" r="4.24" fill="#d4d4f1"/>
<circle cx="344.08" cy="1520.31" r="4.37" fill="#ffc8c8"/>
<circle cx="375.61" cy="1520.31" r="4.48" fill="#cfcfef"/>
<circle cx="407.15" cy="1520.31" r="5.82" fill="#adade4"/>
<circle cx="438.68" cy="1520.31" r="5.91" fill="#ababe3"/>
<circle cx="470.22" cy="1520.31" r="5.14" fill="#bfbfea"/>
<circle cx="501.75" cy="1520.31" r="5.82" fill="#adade4"/>
<circle cx="154.87" cy="1543.18" r="3.41" fill="#ffdddd"/>
<circle cx="186.4" cy="1543.18" r="5.44" fill="#ffabab"/>
<circle cx="217.94" cy="1543.18" r="4.83" fill="#ffbcbc"/>
<circle cx="249.47" cy="1543.18" r="5.73" fill="#b0b0e5"/>
<circle cx="281.01" cy="1543.18" r="3.99" fill="#d9d9f2"/>
<circle cx="344.08" cy="1543.18" r="3.24" fill="#e6e6f7"/>
<circle cx="375.61" cy="1543.18" r="4.37" fill="#d1d1f0"/>
<circle cx="407.15" cy="1543.18" r="1.56" fill="#fff8f8"/>
<circle cx="438.68" cy="1543.18" r="2.37" fill="#f1f1fa"/>
<circle cx="470.22" cy="1543.18" r="2.66" fill="#eeeef9"/>
<circle cx="501.75" cy="1543.18" r="2.21" fill="#f3f3fb"/>
<circle cx="533.29" cy="1543.18" r="7.97" fill="#ff5353"/>
<circle cx="154.87" cy="1566.04" r="5.25" fill="#ffb1b1"/>
<circle cx="186.4" cy="1566.04" r="5.64" fill="#ffa5a5"/>
<circle cx="217.94" cy="1566.04" r="5.44" fill="#ffabab"/>
<circle cx="249.47" cy="1566.04" r="6.09" fill="#a6a6e1"/>
<circle cx="281.01" cy="1566.04" r="4.48" fill="#cfcfef"/>
<circle cx="312.54" cy="1566.04" r="3" fill="#ffe5e5"/>
<circle cx="344.08" cy="1566.04" r="4.37" fill="#d1d1f0"/>
<circle cx="375.61" cy="1566.04" r="2.39" fill="#ffeeee"/>
<circle cx="407.15" cy="1566.04" r="3.85" fill="#ffd4d4"/>
<circle cx="438.68" cy="1566.04" r="3.41" fill="#ffdddd"/>
<circle cx="470.22" cy="1566.04" r="3.1" fill="#ffe3e3"/>
<circle cx="501.75" cy="1566.04" r="3.56" fill="#ffdada"/>
<circle cx="533.29" cy="1566.04" r="7.35" fill="#ff6b6b"/>
<circle cx="564.82" cy="1566.04" r="9.92" fill="#ff0a0a"/>
<circle cx="154.87" cy="1588.91" r="3.71" fill="#ffd7d7"/>
<circle cx="186.4" cy="1588.91" r="5.44" fill="#ffabab"/>
<circle cx="217.94" cy="1588.91" r="5.25" fill="#ffb1b1"/>
<circle cx="249.47" cy="1588.91" r="5.54" fill="#b5b5e6"/>
<circle cx="281.01" cy="1588.91" r="3.99" fill="#d9d9f2"/>
<circle cx="312.54" cy="1588.91" r="1.66" fill="#fff7f7"/>
<circle cx="344.08" cy="1588.91" r="2.16" fill="#fff1f1"/>
<circle cx="375.61" cy="1588.91" r="4.6" fill="#ccccee"/>
<circle cx="407.15" cy="1588.91" r="3.2" fill="#e6e6f7"/>
<circle cx="438.68" cy="1588.91" r="3.71" fill="#dedef4"/>
<circle cx="470.22" cy="1588.91" r="3.56" fill="#e0e0f5"/>
<circle cx="501.75" cy="1588.91" r="3.56" fill="#e0e0f5"/>
<circle cx="533.29" cy="1588.91" r="9.03" fill="#ff2a2a"/>
<circle cx="564.82" cy="1588.91" r="10.13" fill="#ff0404"/>
<circle cx="596.36" cy="1588.91" r="9.71" fill="#ff1111"/>
<circle cx="154.87" cy="1611.77" r="6.17" fill="#a3a3e0"/>
<circle cx="186.4" cy="1611.77" r="3" fill="#e9e9f8"/>
<circle cx="217.94" cy="1611.77" r="7.42" fill="#7a7ad3"/>
<circle cx="249.47" cy="1611.77" r="4.83" fill="#ffbcbc"/>
<circle cx="281.01" cy="1611.77" r="3.71" fill="#ffd7d7"/>
<circle cx="312.54" cy="1611.77" r="9.15" fill="#ff2626"/>
<circle cx="344.08" cy="1611.77" r="3.24" fill="#e6e6f7"/>
<circle cx="375.61" cy="1611.77" r="4.37" fill="#d1d1f0"/>
<circle cx="407.15" cy="1611.77" r="5.44" fill="#ffabab"/>
<circle cx="438.68" cy="1611.77" r="4.93" fill="#ffb9b9"/>
<circle cx="470.22" cy="1611.77" r="4.72" fill="#c9c9ed"/>
<circle cx="501.75" cy="1611.77" r="4.83" fill="#ffbcbc"/>
<circle cx="533.29" cy="1611.77" r="6.75" fill="#9191da"/>
<circle cx="564.82" cy="1611.77" r="4.48" fill="#cfcfef"/>
<circle cx="596.36" cy="1611.77" r="3.56" fill="#e0e0f5"/>
<circle cx="627.89" cy="1611.77" r="5.35" fill="#babae8"/>
<circle cx="154.87" cy="1634.64" r="3.99" fill="#ffd1d1"/>
<circle cx="186.4" cy="1634.64" r="4.93" fill="#ffb9b9"/>
<circle cx="217.94" cy="1634.64" r="5.54" fill="#ffa8a8"/>
<circle cx="249.47" cy="1634.64" r="3.71" fill="#dedef4"/>
<circle cx="281.01" cy="1634.64" r="3.25" fill="#ffe0e0"/>
<circle cx="312.54" cy="1634.64" r="6.83" fill="#8f8fda"/>
<circle cx="344.08" cy="1634.64" r="4.72" fill="#c9c9ed"/>
<circle cx="375.61" cy="1634.64" r="3.25" fill="#ffe0e0"/>
<circle cx="407.15" cy="1634.64" r="2.46" fill="#ffeded"/>
<circle cx="438.68" cy="1634.64" r="2.76" fill="#ffe9e9"/>
<circle cx="470.22" cy="1634.64" r="5.91" fill="#ff9c9c"/>
<circle cx="501.75" cy="1634.64" r="3.22" fill="#ffe1e1"/>
<circle cx="533.29" cy="1634.64" r="4.83" fill="#ffbcbc"/>
<circle cx="564.82" cy="1634.64" r="6.9" fill="#ff7b7b"/>
<circle cx="596.36" cy="1634.64" r="6.09" fill="#ff9797"/>
<circle cx="627.89" cy="1634.64" r="6.75" fill="#ff8080"/>
<circle cx="659.43" cy="1634.64" r="7.49" fill="#7878d2"/>
<circle cx="154.87" cy="1657.5" r="2.64" fill="#eeeef9"/>
<circle cx="186.4" cy="1657.5" r="5.54" fill="#b5b5e6"/>
<circle cx="217.94" cy="1657.5" r="3.05" fill="#e9e9f8"/>
<circle cx="249.47" cy="1657.5" r="6.09" fill="#ff9797"/>
<circle cx="281.01" cy="1657.5" r="5.82" fill="#ff9f9f"/>
<circle cx="312.54" cy="1657.5" r="2.21" fill="#fff1f1"/>
<circle cx="344.08" cy="1657.5" r="2.6" fill="#efeffa"/>
<circle cx="375.61" cy="1657.5" r="2.11" fill="#fff2f2"/>
<circle cx="407.15" cy="1657.5" r="3.12" fill="#ffe3e3"/>
<circle cx="438.68" cy="1657.5" r="2.23" fill="#fff0f0"/>
<circle cx="470.22" cy="1657.5" r="1.69" fill="#fff7f7"/>
<circle cx="501.75" cy="1657.5" r="1.78" fill="#fff6f6"/>
<circle cx="533.29" cy="1657.5" r="6.51" fill="#9999dd"/>
<circle cx="564.82" cy="1657.5" r="6.67" fill="#9494db"/>
<circle cx="596.36" cy="1657.5" r="6.98" fill="#8a8ad8"/>
<circle cx="627.89" cy="1657.5" r="6.9" fill="#8c8cd9"/>
<circle cx="659.43" cy="1657.5" r="3.56" fill="#ffdada"/>
<circle cx="690.96" cy="1657.5" r="6.43" fill="#9c9cde"/>
<circle cx="154.87" cy="1680.37" r="6" fill="#ff9a9a"/>
<circle cx="186.4" cy="1680.37" r="5.35" fill="#ffaeae"/>
<circle cx="217.94" cy="1680.37" r="7.49" fill="#ff6666"/>
<circle cx="249.47" cy="1680.37" r="2.37" fill="#ffefef"/>
<circle cx="281.01" cy="1680.37" r="4.37" fill="#ffc8c8"/>
<circle cx="344.08" cy="1680.37" r="2.84" fill="#ececf9"/>
<circle cx="375.61" cy="1680.37" r="3.99" fill="#d9d9f2"/>
<circle cx="407.15" cy="1680.37" r="4.12" fill="#ffcece"/>
<circle cx="438.68" cy="1680.37" r="3.56" fill="#ffdada"/>
<circle cx="470.22" cy="1680.37" r="3.56" fill="#ffdada"/>
<circle cx="501.75" cy="1680.37" r="3.41" fill="#ffdddd"/>
<circle cx="533.29" cy="1680.37" r="3.99" fill="#ffd1d1"/>
<circle cx="564.82" cy="1680.37" r="2.43" fill="#ffeeee"/>
<circle cx="596.36" cy="1680.37" r="1.92" fill="#fff4f4"/>
<circle cx="627.89" cy="1680.37" r="3.07" fill="#ffe4e4"/>
<circle cx="659.43" cy="1680.37" r="5.44" fill="#b8b8e7"/>
<circle cx="690.96" cy="1680.37" r="2.98" fill="#ffe5e5"/>
<circle cx="722.5" cy="1680.37" r="4.12" fill="#d6d6f1"/>
<g font-family='"Liberation Serif", serif' font-weight="bold" font-size="14.3" text-anchor="middle"><text x="186.4" y="1251.43" fill="#ff6a6a">0.44</text><text x="217.94" y="1251.43" fill="#ff0000">0.85</text><text x="249.47" y="1251.43" fill="#ffd1d1">0.13</text><text x="281.01" y="1251.43" fill="#ff8484">0.36</text><text x="312.54" y="1251.43" fill="#9b9bde">-0.34</text><text x="344.08" y="1251.43" fill="#5555c6">-0.58</text><text x="375.61" y="1251.43" fill="#ffcece">0.14</text><text x="407.15" y="1251.43" fill="#ffa2a2">0.27</text><text x="438.68" y="1251.43" fill="#ffa2a2">0.27</text><text x="470.22" y="1251.43" fill="#ff5b5b">0.49</text><text x="501.75" y="1251.43" fill="#ffa5a5">0.26</text><text x="533.29" y="1251.43" fill="#ffd1d1">0.13</text><text x="564.82" y="1251.43" fill="#ffd8d8">0.11</text><text x="596.36" y="1251.43" fill="#ffa5a5">0.26</text><text x="627.89" y="1251.43" fill="#ffd1d1">0.13</text><text x="659.43" y="1251.43" fill="#9595dc">-0.36</text><text x="690.96" y="1251.43" fill="#ffcaca">0.15</text><text x="722.5" y="1251.43" fill="#ececf9">-0.066</text><text x="754.03" y="1251.43" fill="#ff8a8a">0.34</text><text x="217.94" y="1274.3" fill="#ff5b5b">0.49</text><text x="249.47" y="1274.3" fill="#ffc7c7">0.16</text><text x="281.01" y="1274.3" fill="#ffafaf">0.23</text><text x="312.54" y="1274.3" fill="#e6e6f7">-0.086</text><text x="344.08" y="1274.3" fill="#c4c4eb">-0.20</text><text x="375.61" y="1274.3" fill="#ffeded">0.052</text><text x="407.15" y="1274.3" fill="#ffdcdc">0.10</text><text x="438.68" y="1274.3" fill="#ffdcdc">0.10</text><text x="470.22" y="1274.3" fill="#ffc7c7">0.16</text><text x="501.75" y="1274.3" fill="#ffd8d8">0.11</text><text x="533.29" y="1274.3" fill="#ffb9b9">0.20</text><text x="564.82" y="1274.3" fill="#ff9e9e">0.28</text><text x="596.36" y="1274.3" fill="#ff9898">0.30</text><text x="627.89" y="1274.3" fill="#ff9e9e">0.28</text><text x="659.43" y="1274.3" fill="#e6e6f7">-0.085</text><text x="690.96" y="1274.3" fill="#ffafaf">0.23</text><text x="722.5" y="1274.3" fill="#aaaae3">-0.29</text><text x="754.03" y="1274.3" fill="#ffa2a2">0.27</text><text x="249.47" y="1297.16" fill="#fdfdfe">-0.008</text><text x="281.01" y="1297.16" fill="#ff9494">0.31</text><text x="312.54" y="1297.16" fill="#9b9bde">-0.34</text><text x="344.08" y="1297.16" fill="#6f6fcf">-0.49</text><text x="375.61" y="1297.16" fill="#ffdcdc">0.10</text><text x="407.15" y="1297.16" fill="#ffb2b2">0.22</text><text x="438.68" y="1297.16" fill="#ffb2b2">0.22</text><text x="470.22" y="1297.16" fill="#ff6d6d">0.43</text><text x="501.75" y="1297.16" fill="#ffb9b9">0.20</text><text x="533.29" y="1297.16" fill="#ffacac">0.24</text><text x="564.82" y="1297.16" fill="#ffb2b2">0.22</text><text x="596.36" y="1297.16" fill="#ff9e9e">0.28</text><text x="627.89" y="1297.16" fill="#ffa5a5">0.26</text><text x="659.43" y="1297.16" fill="#6767cc">-0.52</text><text x="690.96" y="1297.16" fill="#ff9b9b">0.29</text><text x="722.5" y="1297.16" fill="#e5e5f6">-0.088</text><text x="754.03" y="1297.16" fill="#ff4e4e">0.53</text><text x="281.01" y="1320.03" fill="#ff0000">0.81</text><text x="312.54" y="1320.03" fill="#ff9494">0.31</text><text x="344.08" y="1320.03" fill="#b3b3e6">-0.26</text><text x="375.61" y="1320.03" fill="#fff6f6">0.025</text><text x="407.15" y="1320.03" fill="#ff9898">0.30</text><text x="438.68" y="1320.03" fill="#ffa2a2">0.27</text><text x="470.22" y="1320.03" fill="#ffd8d8">0.11</text><text x="501.75" y="1320.03" fill="#ff9e9e">0.28</text><text x="533.29" y="1320.03" fill="#d0d0ef">-0.16</text><text x="564.82" y="1320.03" fill="#a4a4e1">-0.31</text><text x="596.36" y="1320.03" fill="#9898dd">-0.35</text><text x="627.89" y="1320.03" fill="#aaaae3">-0.29</text><text x="659.43" y="1320.03" fill="#ffb2b2">0.22</text><text x="690.96" y="1320.03" fill="#d9d9f2">-0.13</text><text x="722.5" y="1320.03" fill="#ff8787">0.35</text><text x="754.03" y="1320.03" fill="#ffecec">0.053</text><text x="312.54" y="1342.89" fill="#ff9e9e">0.28</text><text x="344.08" y="1342.89" fill="#6767cc">-0.52</text><text x="375.61" y="1342.89" fill="#fff4f4">0.030</text><text x="407.15" y="1342.89" fill="#ff5b5b">0.49</text><text x="438.68" y="1342.89" fill="#ff6a6a">0.44</text><text x="470.22" y="1342.89" fill="#ff9494">0.31</text><text x="501.75" y="1342.89" fill="#ff6a6a">0.44</text><text x="533.29" y="1342.89" fill="#d0d0ef">-0.16</text><text x="564.82" y="1342.89" fill="#d3d3f0">-0.15</text><text x="596.36" y="1342.89" fill="#c7c7ec">-0.19</text><text x="627.89" y="1342.89" fill="#d3d3f0">-0.15</text><text x="659.43" y="1342.89" fill="#ffd1d1">0.13</text><text x="690.96" y="1342.89" fill="#ffdcdc">0.10</text><text x="722.5" y="1342.89" fill="#ff9191">0.32</text><text x="754.03" y="1342.89" fill="#ffc0c0">0.18</text><text x="344.08" y="1365.76" fill="#ffebeb">0.055</text><text x="375.61" y="1365.76" fill="#a1a1e0">-0.32</text><text x="407.15" y="1365.76" fill="#ff5b5b">0.49</text><text x="438.68" y="1365.76" fill="#ff7d7d">0.38</text><text x="470.22" y="1365.76" fill="#cdcdee">-0.17</text><text x="501.75" y="1365.76" fill="#ff7a7a">0.39</text><text x="533.29" y="1365.76" fill="#cdcdee">-0.17</text><text x="564.82" y="1365.76" fill="#ffffff">0.00</text><text x="596.36" y="1365.76" fill="#ffe1e1">0.085</text><text x="627.89" y="1365.76" fill="#fff6f6">0.026</text><text x="659.43" y="1365.76" fill="#ff0505">0.79</text><text x="690.96" y="1365.76" fill="#7e7ed4">-0.44</text><text x="722.5" y="1365.76" fill="#ffefef">0.046</text><text x="754.03" y="1365.76" fill="#ffffff">0.00</text><text x="375.61" y="1388.62" fill="#7b7bd3">-0.45</text><text x="407.15" y="1388.62" fill="#6767cc">-0.52</text><text x="438.68" y="1388.62" fill="#5858c7">-0.57</text><text x="470.22" y="1388.62" fill="#4343c0">-0.64</text><text x="501.75" y="1388.62" fill="#6161ca">-0.54</text><text x="533.29" y="1388.62" fill="#ffc0c0">0.18</text><text x="564.82" y="1388.62" fill="#e2e2f5">-0.099</text><text x="596.36" y="1388.62" fill="#cacaed">-0.18</text><text x="627.89" y="1388.62" fill="#ffefef">0.044</text><text x="659.43" y="1388.62" fill="#e2e2f5">-0.099</text><text x="690.96" y="1388.62" fill="#c1c1ea">-0.21</text><text x="722.5" y="1388.62" fill="#ececf9">-0.064</text><text x="754.03" y="1388.62" fill="#e9e9f8">-0.076</text><text x="407.15" y="1411.49" fill="#ff8e8e">0.33</text><text x="438.68" y="1411.49" fill="#ff5858">0.50</text><text x="470.22" y="1411.49" fill="#ff1818">0.72</text><text x="501.75" y="1411.49" fill="#ff5b5b">0.49</text><text x="533.29" y="1411.49" fill="#c7c7ec">-0.19</text><text x="564.82" y="1411.49" fill="#cacaed">-0.18</text><text x="596.36" y="1411.49" fill="#ffecec">0.054</text><text x="627.89" y="1411.49" fill="#c4c4eb">-0.20</text><text x="659.43" y="1411.49" fill="#cacaed">-0.18</text><text x="690.96" y="1411.49" fill="#ffdcdc">0.10</text><text x="722.5" y="1411.49" fill="#fff0f0">0.042</text><text x="754.03" y="1411.49" fill="#d3d3f0">-0.15</text><text x="438.68" y="1434.35" fill="#ff0000">0.98</text><text x="470.22" y="1434.35" fill="#ff0b0b">0.77</text><text x="501.75" y="1434.35" fill="#ff0000">0.98</text><text x="533.29" y="1434.35" fill="#a1a1e0">-0.32</text><text x="564.82" y="1434.35" fill="#fff7f7">0.023</text><text x="596.36" y="1434.35" fill="#ffcece">0.14</text><text x="627.89" y="1434.35" fill="#e3e3f6">-0.097</text><text x="659.43" y="1434.35" fill="#ff9e9e">0.28</text><text x="690.96" y="1434.35" fill="#ffebeb">0.057</text><text x="722.5" y="1434.35" fill="#ffdede">0.092</text><text x="754.03" y="1434.35" fill="#ffc7c7">0.16</text><text x="470.22" y="1457.22" fill="#ff0000">0.85</text><text x="501.75" y="1457.22" fill="#ff0000">1.00</text><text x="533.29" y="1457.22" fill="#9e9edf">-0.33</text><text x="564.82" y="1457.22" fill="#efeffa">-0.053</text><text x="596.36" y="1457.22" fill="#ffd8d8">0.11</text><text x="627.89" y="1457.22" fill="#d9d9f2">-0.13</text><text x="659.43" y="1457.22" fill="#ffafaf">0.23</text><text x="690.96" y="1457.22" fill="#ffe5e5">0.072</text><text x="722.5" y="1457.22" fill="#ffeeee">0.047</text><text x="754.03" y="1457.22" fill="#ffd5d5">0.12</text><text x="501.75" y="1480.08" fill="#ff0000">0.84</text><text x="533.29" y="1480.08" fill="#b6b6e7">-0.25</text><text x="564.82" y="1480.08" fill="#ebebf8">-0.067</text><text x="596.36" y="1480.08" fill="#ffdfdf">0.091</text><text x="627.89" y="1480.08" fill="#dcdcf3">-0.12</text><text x="659.43" y="1480.08" fill="#c1c1ea">-0.21</text><text x="690.96" y="1480.08" fill="#ff8e8e">0.33</text><text x="722.5" y="1480.08" fill="#fff5f5">0.027</text><text x="754.03" y="1480.08" fill="#ffd5d5">0.12</text><text x="533.29" y="1502.95" fill="#a1a1e0">-0.32</text><text x="564.82" y="1502.95" fill="#f2f2fb">-0.046</text><text x="596.36" y="1502.95" fill="#ffd5d5">0.12</text><text x="627.89" y="1502.95" fill="#dcdcf3">-0.12</text><text x="659.43" y="1502.95" fill="#ffb2b2">0.22</text><text x="690.96" y="1502.95" fill="#ffdcdc">0.098</text><text x="722.5" y="1502.95" fill="#fff4f4">0.030</text><text x="754.03" y="1502.95" fill="#ffd8d8">0.11</text><text x="564.82" y="1525.81" fill="#ff3a3a">0.60</text><text x="596.36" y="1525.81" fill="#ff5555">0.51</text><text x="627.89" y="1525.81" fill="#ff0b0b">0.77</text><text x="659.43" y="1525.81" fill="#8181d5">-0.43</text><text x="690.96" y="1525.81" fill="#ffb2b2">0.22</text><text x="722.5" y="1525.81" fill="#8a8ad8">-0.40</text><text x="754.03" y="1525.81" fill="#ffcaca">0.15</text><text x="596.36" y="1548.68" fill="#ff0000">0.93</text><text x="627.89" y="1548.68" fill="#ff0000">0.97</text><text x="659.43" y="1548.68" fill="#c7c7ec">-0.19</text><text x="690.96" y="1548.68" fill="#ff6767">0.45</text><text x="722.5" y="1548.68" fill="#8484d6">-0.42</text><text x="754.03" y="1548.68" fill="#ffebeb">0.056</text><text x="627.89" y="1571.54" fill="#ff0000">0.89</text><text x="659.43" y="1571.54" fill="#dcdcf3">-0.12</text><text x="690.96" y="1571.54" fill="#ff8787">0.35</text><text x="722.5" y="1571.54" fill="#7878d2">-0.46</text><text x="754.03" y="1571.54" fill="#fff3f3">0.035</text><text x="659.43" y="1594.41" fill="#b0b0e5">-0.27</text><text x="690.96" y="1594.41" fill="#ff6d6d">0.43</text><text x="722.5" y="1594.41" fill="#7b7bd3">-0.45</text><text x="754.03" y="1594.41" fill="#ffdfdf">0.089</text><text x="690.96" y="1617.27" fill="#6464cb">-0.53</text><text x="722.5" y="1617.27" fill="#ffd5d5">0.12</text><text x="754.03" y="1617.27" fill="#adade4">-0.28</text><text x="722.5" y="1640.14" fill="#8d8dd9">-0.39</text><text x="754.03" y="1640.14" fill="#ffe1e1">0.084</text><text x="754.03" y="1663" fill="#d0d0ef">-0.16</text></g>
<path fill="#111" d="M143.1 1284.7A1.95 1.15 -90 1 0 143.1 1288.6A1.95 1.15 -90 1 0 143.1 1284.7ZM147.3 1287.7A1.95 1.15 -18 1 0 143.5 1288.9A1.95 1.15 -18 1 0 147.3 1287.7ZM145.7 1292.6A1.95 1.15 54 1 0 143.4 1289.5A1.95 1.15 54 1 0 145.7 1292.6ZM140.5 1292.6A1.95 1.15 126 1 0 142.8 1289.5A1.95 1.15 126 1 0 140.5 1292.6ZM138.9 1287.7A1.95 1.15 198 1 0 142.6 1288.9A1.95 1.15 198 1 0 138.9 1287.7ZM141.97 1289.06a1.10 1.10 0 1 0 2.20 0a1.10 1.10 0 1 0 -2.20 0ZM154.9 1284.7A1.95 1.15 -90 1 0 154.9 1288.6A1.95 1.15 -90 1 0 154.9 1284.7ZM159.1 1287.7A1.95 1.15 -18 1 0 155.3 1288.9A1.95 1.15 -18 1 0 159.1 1287.7ZM157.5 1292.6A1.95 1.15 54 1 0 155.2 1289.5A1.95 1.15 54 1 0 157.5 1292.6ZM152.3 1292.6A1.95 1.15 126 1 0 154.6 1289.5A1.95 1.15 126 1 0 152.3 1292.6ZM150.7 1287.7A1.95 1.15 198 1 0 154.4 1288.9A1.95 1.15 198 1 0 150.7 1287.7ZM153.77 1289.06a1.10 1.10 0 1 0 2.20 0a1.10 1.10 0 1 0 -2.20 0ZM166.7 1284.7A1.95 1.15 -90 1 0 166.7 1288.6A1.95 1.15 -90 1 0 166.7 1284.7ZM170.9 1287.7A1.95 1.15 -18 1 0 167.1 1288.9A1.95 1.15 -18 1 0 170.9 1287.7ZM169.3 1292.6A1.95 1.15 54 1 0 167.0 1289.5A1.95 1.15 54 1 0 169.3 1292.6ZM164.1 1292.6A1.95 1.15 126 1 0 166.4 1289.5A1.95 1.15 126 1 0 164.1 1292.6ZM162.5 1287.7A1.95 1.15 198 1 0 166.2 1288.9A1.95 1.15 198 1 0 162.5 1287.7ZM165.57 1289.06a1.10 1.10 0 1 0 2.20 0a1.10 1.10 0 1 0 -2.20 0ZM186.4 1284.7A1.95 1.15 -90 1 0 186.4 1288.6A1.95 1.15 -90 1 0 186.4 1284.7ZM190.6 1287.7A1.95 1.15 -18 1 0 186.9 1288.9A1.95 1.15 -18 1 0 190.6 1287.7ZM189.0 1292.6A1.95 1.15 54 1 0 186.7 1289.5A1.95 1.15 54 1 0 189.0 1292.6ZM183.8 1292.6A1.95 1.15 126 1 0 186.1 1289.5A1.95 1.15 126 1 0 183.8 1292.6ZM182.2 1287.7A1.95 1.15 198 1 0 185.9 1288.9A1.95 1.15 198 1 0 182.2 1287.7ZM185.30 1289.06a1.10 1.10 0 1 0 2.20 0a1.10 1.10 0 1 0 -2.20 0ZM237.7 1330.4A1.95 1.15 -90 1 0 237.7 1334.3A1.95 1.15 -90 1 0 237.7 1330.4ZM241.9 1333.4A1.95 1.15 -18 1 0 238.1 1334.6A1.95 1.15 -18 1 0 241.9 1333.4ZM240.3 1338.4A1.95 1.15 54 1 0 238.0 1335.2A1.95 1.15 54 1 0 240.3 1338.4ZM235.1 1338.4A1.95 1.15 126 1 0 237.4 1335.2A1.95 1.15 126 1 0 235.1 1338.4ZM233.5 1333.4A1.95 1.15 198 1 0 237.2 1334.6A1.95 1.15 198 1 0 233.5 1333.4ZM236.57 1334.79a1.10 1.10 0 1 0 2.20 0a1.10 1.10 0 1 0 -2.20 0ZM249.5 1330.4A1.95 1.15 -90 1 0 249.5 1334.3A1.95 1.15 -90 1 0 249.5 1330.4ZM253.7 1333.4A1.95 1.15 -18 1 0 249.9 1334.6A1.95 1.15 -18 1 0 253.7 1333.4ZM252.1 1338.4A1.95 1.15 54 1 0 249.8 1335.2A1.95 1.15 54 1 0 252.1 1338.4ZM246.9 1338.4A1.95 1.15 126 1 0 249.2 1335.2A1.95 1.15 126 1 0 246.9 1338.4ZM245.3 1333.4A1.95 1.15 198 1 0 249.0 1334.6A1.95 1.15 198 1 0 245.3 1333.4ZM248.37 1334.79a1.10 1.10 0 1 0 2.20 0a1.10 1.10 0 1 0 -2.20 0ZM261.3 1330.4A1.95 1.15 -90 1 0 261.3 1334.3A1.95 1.15 -90 1 0 261.3 1330.4ZM265.5 1333.4A1.95 1.15 -18 1 0 261.7 1334.6A1.95 1.15 -18 1 0 265.5 1333.4ZM263.9 1338.4A1.95 1.15 54 1 0 261.6 1335.2A1.95 1.15 54 1 0 263.9 1338.4ZM258.7 1338.4A1.95 1.15 126 1 0 261.0 1335.2A1.95 1.15 126 1 0 258.7 1338.4ZM257.1 1333.4A1.95 1.15 198 1 0 260.8 1334.6A1.95 1.15 198 1 0 257.1 1333.4ZM260.17 1334.79a1.10 1.10 0 1 0 2.20 0a1.10 1.10 0 1 0 -2.20 0ZM154.9 1376.1A1.95 1.15 -90 1 0 154.9 1380.0A1.95 1.15 -90 1 0 154.9 1376.1ZM159.1 1379.2A1.95 1.15 -18 1 0 155.3 1380.4A1.95 1.15 -18 1 0 159.1 1379.2ZM157.5 1384.1A1.95 1.15 54 1 0 155.2 1380.9A1.95 1.15 54 1 0 157.5 1384.1ZM152.3 1384.1A1.95 1.15 126 1 0 154.6 1380.9A1.95 1.15 126 1 0 152.3 1384.1ZM150.7 1379.2A1.95 1.15 198 1 0 154.4 1380.4A1.95 1.15 198 1 0 150.7 1379.2ZM153.77 1380.52a1.10 1.10 0 1 0 2.20 0a1.10 1.10 0 1 0 -2.20 0ZM217.9 1376.1A1.95 1.15 -90 1 0 217.9 1380.0A1.95 1.15 -90 1 0 217.9 1376.1ZM222.1 1379.2A1.95 1.15 -18 1 0 218.4 1380.4A1.95 1.15 -18 1 0 222.1 1379.2ZM220.5 1384.1A1.95 1.15 54 1 0 218.2 1380.9A1.95 1.15 54 1 0 220.5 1384.1ZM215.4 1384.1A1.95 1.15 126 1 0 217.6 1380.9A1.95 1.15 126 1 0 215.4 1384.1ZM213.8 1379.2A1.95 1.15 198 1 0 217.5 1380.4A1.95 1.15 198 1 0 213.8 1379.2ZM216.84 1380.52a1.10 1.10 0 1 0 2.20 0a1.10 1.10 0 1 0 -2.20 0ZM281.0 1376.1A1.95 1.15 -90 1 0 281.0 1380.0A1.95 1.15 -90 1 0 281.0 1376.1ZM285.2 1379.2A1.95 1.15 -18 1 0 281.5 1380.4A1.95 1.15 -18 1 0 285.2 1379.2ZM283.6 1384.1A1.95 1.15 54 1 0 281.3 1380.9A1.95 1.15 54 1 0 283.6 1384.1ZM278.4 1384.1A1.95 1.15 126 1 0 280.7 1380.9A1.95 1.15 126 1 0 278.4 1384.1ZM276.8 1379.2A1.95 1.15 198 1 0 280.5 1380.4A1.95 1.15 198 1 0 276.8 1379.2ZM279.91 1380.52a1.10 1.10 0 1 0 2.20 0a1.10 1.10 0 1 0 -2.20 0ZM281.0 1421.9A1.95 1.15 -90 1 0 281.0 1425.8A1.95 1.15 -90 1 0 281.0 1421.9ZM285.2 1424.9A1.95 1.15 -18 1 0 281.5 1426.1A1.95 1.15 -18 1 0 285.2 1424.9ZM283.6 1429.8A1.95 1.15 54 1 0 281.3 1426.7A1.95 1.15 54 1 0 283.6 1429.8ZM278.4 1429.8A1.95 1.15 126 1 0 280.7 1426.7A1.95 1.15 126 1 0 278.4 1429.8ZM276.8 1424.9A1.95 1.15 198 1 0 280.5 1426.1A1.95 1.15 198 1 0 276.8 1424.9ZM279.91 1426.25a1.10 1.10 0 1 0 2.20 0a1.10 1.10 0 1 0 -2.20 0ZM312.5 1421.9A1.95 1.15 -90 1 0 312.5 1425.8A1.95 1.15 -90 1 0 312.5 1421.9ZM316.7 1424.9A1.95 1.15 -18 1 0 313.0 1426.1A1.95 1.15 -18 1 0 316.7 1424.9ZM315.1 1429.8A1.95 1.15 54 1 0 312.8 1426.7A1.95 1.15 54 1 0 315.1 1429.8ZM310.0 1429.8A1.95 1.15 126 1 0 312.2 1426.7A1.95 1.15 126 1 0 310.0 1429.8ZM308.4 1424.9A1.95 1.15 198 1 0 312.1 1426.1A1.95 1.15 198 1 0 308.4 1424.9ZM311.44 1426.25a1.10 1.10 0 1 0 2.20 0a1.10 1.10 0 1 0 -2.20 0ZM344.1 1421.9A1.95 1.15 -90 1 0 344.1 1425.8A1.95 1.15 -90 1 0 344.1 1421.9ZM348.3 1424.9A1.95 1.15 -18 1 0 344.6 1426.1A1.95 1.15 -18 1 0 348.3 1424.9ZM346.7 1429.8A1.95 1.15 54 1 0 344.4 1426.7A1.95 1.15 54 1 0 346.7 1429.8ZM341.5 1429.8A1.95 1.15 126 1 0 343.8 1426.7A1.95 1.15 126 1 0 341.5 1429.8ZM339.9 1424.9A1.95 1.15 198 1 0 343.6 1426.1A1.95 1.15 198 1 0 339.9 1424.9ZM342.98 1426.25a1.10 1.10 0 1 0 2.20 0a1.10 1.10 0 1 0 -2.20 0ZM344.1 1444.7A1.95 1.15 -90 1 0 344.1 1448.6A1.95 1.15 -90 1 0 344.1 1444.7ZM348.3 1447.8A1.95 1.15 -18 1 0 344.6 1449.0A1.95 1.15 -18 1 0 348.3 1447.8ZM346.7 1452.7A1.95 1.15 54 1 0 344.4 1449.5A1.95 1.15 54 1 0 346.7 1452.7ZM341.5 1452.7A1.95 1.15 126 1 0 343.8 1449.5A1.95 1.15 126 1 0 341.5 1452.7ZM339.9 1447.8A1.95 1.15 198 1 0 343.6 1449.0A1.95 1.15 198 1 0 339.9 1447.8ZM342.98 1449.12a1.10 1.10 0 1 0 2.20 0a1.10 1.10 0 1 0 -2.20 0ZM375.6 1444.7A1.95 1.15 -90 1 0 375.6 1448.6A1.95 1.15 -90 1 0 375.6 1444.7ZM379.8 1447.8A1.95 1.15 -18 1 0 376.1 1449.0A1.95 1.15 -18 1 0 379.8 1447.8ZM378.2 1452.7A1.95 1.15 54 1 0 375.9 1449.5A1.95 1.15 54 1 0 378.2 1452.7ZM373.0 1452.7A1.95 1.15 126 1 0 375.3 1449.5A1.95 1.15 126 1 0 373.0 1452.7ZM371.4 1447.8A1.95 1.15 198 1 0 375.1 1449.0A1.95 1.15 198 1 0 371.4 1447.8ZM374.51 1449.12a1.10 1.10 0 1 0 2.20 0a1.10 1.10 0 1 0 -2.20 0ZM395.3 1444.7A1.95 1.15 -90 1 0 395.3 1448.6A1.95 1.15 -90 1 0 395.3 1444.7ZM399.5 1447.8A1.95 1.15 -18 1 0 395.8 1449.0A1.95 1.15 -18 1 0 399.5 1447.8ZM397.9 1452.7A1.95 1.15 54 1 0 395.6 1449.5A1.95 1.15 54 1 0 397.9 1452.7ZM392.8 1452.7A1.95 1.15 126 1 0 395.1 1449.5A1.95 1.15 126 1 0 392.8 1452.7ZM391.2 1447.8A1.95 1.15 198 1 0 394.9 1449.0A1.95 1.15 198 1 0 391.2 1447.8ZM394.25 1449.12a1.10 1.10 0 1 0 2.20 0a1.10 1.10 0 1 0 -2.20 0ZM407.1 1444.7A1.95 1.15 -90 1 0 407.1 1448.6A1.95 1.15 -90 1 0 407.1 1444.7ZM411.3 1447.8A1.95 1.15 -18 1 0 407.6 1449.0A1.95 1.15 -18 1 0 411.3 1447.8ZM409.7 1452.7A1.95 1.15 54 1 0 407.4 1449.5A1.95 1.15 54 1 0 409.7 1452.7ZM404.6 1452.7A1.95 1.15 126 1 0 406.9 1449.5A1.95 1.15 126 1 0 404.6 1452.7ZM403.0 1447.8A1.95 1.15 198 1 0 406.7 1449.0A1.95 1.15 198 1 0 403.0 1447.8ZM406.05 1449.12a1.10 1.10 0 1 0 2.20 0a1.10 1.10 0 1 0 -2.20 0ZM418.9 1444.7A1.95 1.15 -90 1 0 418.9 1448.6A1.95 1.15 -90 1 0 418.9 1444.7ZM423.1 1447.8A1.95 1.15 -18 1 0 419.4 1449.0A1.95 1.15 -18 1 0 423.1 1447.8ZM421.5 1452.7A1.95 1.15 54 1 0 419.2 1449.5A1.95 1.15 54 1 0 421.5 1452.7ZM416.4 1452.7A1.95 1.15 126 1 0 418.7 1449.5A1.95 1.15 126 1 0 416.4 1452.7ZM414.8 1447.8A1.95 1.15 198 1 0 418.5 1449.0A1.95 1.15 198 1 0 414.8 1447.8ZM417.85 1449.12a1.10 1.10 0 1 0 2.20 0a1.10 1.10 0 1 0 -2.20 0ZM154.9 1467.6A1.95 1.15 -90 1 0 154.9 1471.5A1.95 1.15 -90 1 0 154.9 1467.6ZM159.1 1470.6A1.95 1.15 -18 1 0 155.3 1471.8A1.95 1.15 -18 1 0 159.1 1470.6ZM157.5 1475.5A1.95 1.15 54 1 0 155.2 1472.4A1.95 1.15 54 1 0 157.5 1475.5ZM152.3 1475.5A1.95 1.15 126 1 0 154.6 1472.4A1.95 1.15 126 1 0 152.3 1475.5ZM150.7 1470.6A1.95 1.15 198 1 0 154.4 1471.8A1.95 1.15 198 1 0 150.7 1470.6ZM153.77 1471.98a1.10 1.10 0 1 0 2.20 0a1.10 1.10 0 1 0 -2.20 0ZM338.2 1467.6A1.95 1.15 -90 1 0 338.2 1471.5A1.95 1.15 -90 1 0 338.2 1467.6ZM342.4 1470.6A1.95 1.15 -18 1 0 338.7 1471.8A1.95 1.15 -18 1 0 342.4 1470.6ZM340.8 1475.5A1.95 1.15 54 1 0 338.5 1472.4A1.95 1.15 54 1 0 340.8 1475.5ZM335.6 1475.5A1.95 1.15 126 1 0 337.9 1472.4A1.95 1.15 126 1 0 335.6 1475.5ZM334.0 1470.6A1.95 1.15 198 1 0 337.7 1471.8A1.95 1.15 198 1 0 334.0 1470.6ZM337.08 1471.98a1.10 1.10 0 1 0 2.20 0a1.10 1.10 0 1 0 -2.20 0ZM350.0 1467.6A1.95 1.15 -90 1 0 350.0 1471.5A1.95 1.15 -90 1 0 350.0 1467.6ZM354.2 1470.6A1.95 1.15 -18 1 0 350.5 1471.8A1.95 1.15 -18 1 0 354.2 1470.6ZM352.6 1475.5A1.95 1.15 54 1 0 350.3 1472.4A1.95 1.15 54 1 0 352.6 1475.5ZM347.4 1475.5A1.95 1.15 126 1 0 349.7 1472.4A1.95 1.15 126 1 0 347.4 1475.5ZM345.8 1470.6A1.95 1.15 198 1 0 349.5 1471.8A1.95 1.15 198 1 0 345.8 1470.6ZM348.88 1471.98a1.10 1.10 0 1 0 2.20 0a1.10 1.10 0 1 0 -2.20 0ZM363.8 1467.6A1.95 1.15 -90 1 0 363.8 1471.5A1.95 1.15 -90 1 0 363.8 1467.6ZM368.0 1470.6A1.95 1.15 -18 1 0 364.3 1471.8A1.95 1.15 -18 1 0 368.0 1470.6ZM366.4 1475.5A1.95 1.15 54 1 0 364.1 1472.4A1.95 1.15 54 1 0 366.4 1475.5ZM361.2 1475.5A1.95 1.15 126 1 0 363.5 1472.4A1.95 1.15 126 1 0 361.2 1475.5ZM359.6 1470.6A1.95 1.15 198 1 0 363.3 1471.8A1.95 1.15 198 1 0 359.6 1470.6ZM362.71 1471.98a1.10 1.10 0 1 0 2.20 0a1.10 1.10 0 1 0 -2.20 0ZM375.6 1467.6A1.95 1.15 -90 1 0 375.6 1471.5A1.95 1.15 -90 1 0 375.6 1467.6ZM379.8 1470.6A1.95 1.15 -18 1 0 376.1 1471.8A1.95 1.15 -18 1 0 379.8 1470.6ZM378.2 1475.5A1.95 1.15 54 1 0 375.9 1472.4A1.95 1.15 54 1 0 378.2 1475.5ZM373.0 1475.5A1.95 1.15 126 1 0 375.3 1472.4A1.95 1.15 126 1 0 373.0 1475.5ZM371.4 1470.6A1.95 1.15 198 1 0 375.1 1471.8A1.95 1.15 198 1 0 371.4 1470.6ZM374.51 1471.98a1.10 1.10 0 1 0 2.20 0a1.10 1.10 0 1 0 -2.20 0ZM387.4 1467.6A1.95 1.15 -90 1 0 387.4 1471.5A1.95 1.15 -90 1 0 387.4 1467.6ZM391.6 1470.6A1.95 1.15 -18 1 0 387.9 1471.8A1.95 1.15 -18 1 0 391.6 1470.6ZM390.0 1475.5A1.95 1.15 54 1 0 387.7 1472.4A1.95 1.15 54 1 0 390.0 1475.5ZM384.8 1475.5A1.95 1.15 126 1 0 387.1 1472.4A1.95 1.15 126 1 0 384.8 1475.5ZM383.2 1470.6A1.95 1.15 198 1 0 386.9 1471.8A1.95 1.15 198 1 0 383.2 1470.6ZM386.31 1471.98a1.10 1.10 0 1 0 2.20 0a1.10 1.10 0 1 0 -2.20 0ZM395.3 1467.6A1.95 1.15 -90 1 0 395.3 1471.5A1.95 1.15 -90 1 0 395.3 1467.6ZM399.5 1470.6A1.95 1.15 -18 1 0 395.8 1471.8A1.95 1.15 -18 1 0 399.5 1470.6ZM397.9 1475.5A1.95 1.15 54 1 0 395.6 1472.4A1.95 1.15 54 1 0 397.9 1475.5ZM392.8 1475.5A1.95 1.15 126 1 0 395.1 1472.4A1.95 1.15 126 1 0 392.8 1475.5ZM391.2 1470.6A1.95 1.15 198 1 0 394.9 1471.8A1.95 1.15 198 1 0 391.2 1470.6ZM394.25 1471.98a1.10 1.10 0 1 0 2.20 0a1.10 1.10 0 1 0 -2.20 0ZM407.1 1467.6A1.95 1.15 -90 1 0 407.1 1471.5A1.95 1.15 -90 1 0 407.1 1467.6ZM411.3 1470.6A1.95 1.15 -18 1 0 407.6 1471.8A1.95 1.15 -18 1 0 411.3 1470.6ZM409.7 1475.5A1.95 1.15 54 1 0 407.4 1472.4A1.95 1.15 54 1 0 409.7 1475.5ZM404.6 1475.5A1.95 1.15 126 1 0 406.9 1472.4A1.95 1.15 126 1 0 404.6 1475.5ZM403.0 1470.6A1.95 1.15 198 1 0 406.7 1471.8A1.95 1.15 198 1 0 403.0 1470.6ZM406.05 1471.98a1.10 1.10 0 1 0 2.20 0a1.10 1.10 0 1 0 -2.20 0ZM418.9 1467.6A1.95 1.15 -90 1 0 418.9 1471.5A1.95 1.15 -90 1 0 418.9 1467.6ZM423.1 1470.6A1.95 1.15 -18 1 0 419.4 1471.8A1.95 1.15 -18 1 0 423.1 1470.6ZM421.5 1475.5A1.95 1.15 54 1 0 419.2 1472.4A1.95 1.15 54 1 0 421.5 1475.5ZM416.4 1475.5A1.95 1.15 126 1 0 418.7 1472.4A1.95 1.15 126 1 0 416.4 1475.5ZM414.8 1470.6A1.95 1.15 198 1 0 418.5 1471.8A1.95 1.15 198 1 0 414.8 1470.6ZM417.85 1471.98a1.10 1.10 0 1 0 2.20 0a1.10 1.10 0 1 0 -2.20 0ZM426.9 1467.6A1.95 1.15 -90 1 0 426.9 1471.5A1.95 1.15 -90 1 0 426.9 1467.6ZM431.1 1470.6A1.95 1.15 -18 1 0 427.4 1471.8A1.95 1.15 -18 1 0 431.1 1470.6ZM429.5 1475.5A1.95 1.15 54 1 0 427.2 1472.4A1.95 1.15 54 1 0 429.5 1475.5ZM424.3 1475.5A1.95 1.15 126 1 0 426.6 1472.4A1.95 1.15 126 1 0 424.3 1475.5ZM422.7 1470.6A1.95 1.15 198 1 0 426.4 1471.8A1.95 1.15 198 1 0 422.7 1470.6ZM425.78 1471.98a1.10 1.10 0 1 0 2.20 0a1.10 1.10 0 1 0 -2.20 0ZM438.7 1467.6A1.95 1.15 -90 1 0 438.7 1471.5A1.95 1.15 -90 1 0 438.7 1467.6ZM442.9 1470.6A1.95 1.15 -18 1 0 439.2 1471.8A1.95 1.15 -18 1 0 442.9 1470.6ZM441.3 1475.5A1.95 1.15 54 1 0 439.0 1472.4A1.95 1.15 54 1 0 441.3 1475.5ZM436.1 1475.5A1.95 1.15 126 1 0 438.4 1472.4A1.95 1.15 126 1 0 436.1 1475.5ZM434.5 1470.6A1.95 1.15 198 1 0 438.2 1471.8A1.95 1.15 198 1 0 434.5 1470.6ZM437.58 1471.98a1.10 1.10 0 1 0 2.20 0a1.10 1.10 0 1 0 -2.20 0ZM450.5 1467.6A1.95 1.15 -90 1 0 450.5 1471.5A1.95 1.15 -90 1 0 450.5 1467.6ZM454.7 1470.6A1.95 1.15 -18 1 0 451.0 1471.8A1.95 1.15 -18 1 0 454.7 1470.6ZM453.1 1475.5A1.95 1.15 54 1 0 450.8 1472.4A1.95 1.15 54 1 0 453.1 1475.5ZM447.9 1475.5A1.95 1.15 126 1 0 450.2 1472.4A1.95 1.15 126 1 0 447.9 1475.5ZM446.3 1470.6A1.95 1.15 198 1 0 450.0 1471.8A1.95 1.15 198 1 0 446.3 1470.6ZM449.38 1471.98a1.10 1.10 0 1 0 2.20 0a1.10 1.10 0 1 0 -2.20 0ZM344.1 1490.4A1.95 1.15 -90 1 0 344.1 1494.3A1.95 1.15 -90 1 0 344.1 1490.4ZM348.3 1493.5A1.95 1.15 -18 1 0 344.6 1494.7A1.95 1.15 -18 1 0 348.3 1493.5ZM346.7 1498.4A1.95 1.15 54 1 0 344.4 1495.3A1.95 1.15 54 1 0 346.7 1498.4ZM341.5 1498.4A1.95 1.15 126 1 0 343.8 1495.3A1.95 1.15 126 1 0 341.5 1498.4ZM339.9 1493.5A1.95 1.15 198 1 0 343.6 1494.7A1.95 1.15 198 1 0 339.9 1493.5ZM342.98 1494.85a1.10 1.10 0 1 0 2.20 0a1.10 1.10 0 1 0 -2.20 0ZM375.6 1490.4A1.95 1.15 -90 1 0 375.6 1494.3A1.95 1.15 -90 1 0 375.6 1490.4ZM379.8 1493.5A1.95 1.15 -18 1 0 376.1 1494.7A1.95 1.15 -18 1 0 379.8 1493.5ZM378.2 1498.4A1.95 1.15 54 1 0 375.9 1495.3A1.95 1.15 54 1 0 378.2 1498.4ZM373.0 1498.4A1.95 1.15 126 1 0 375.3 1495.3A1.95 1.15 126 1 0 373.0 1498.4ZM371.4 1493.5A1.95 1.15 198 1 0 375.1 1494.7A1.95 1.15 198 1 0 371.4 1493.5ZM374.51 1494.85a1.10 1.10 0 1 0 2.20 0a1.10 1.10 0 1 0 -2.20 0ZM395.3 1490.4A1.95 1.15 -90 1 0 395.3 1494.3A1.95 1.15 -90 1 0 395.3 1490.4ZM399.5 1493.5A1.95 1.15 -18 1 0 395.8 1494.7A1.95 1.15 -18 1 0 399.5 1493.5ZM397.9 1498.4A1.95 1.15 54 1 0 395.6 1495.3A1.95 1.15 54 1 0 397.9 1498.4ZM392.8 1498.4A1.95 1.15 126 1 0 395.1 1495.3A1.95 1.15 126 1 0 392.8 1498.4ZM391.2 1493.5A1.95 1.15 198 1 0 394.9 1494.7A1.95 1.15 198 1 0 391.2 1493.5ZM394.25 1494.85a1.10 1.10 0 1 0 2.20 0a1.10 1.10 0 1 0 -2.20 0ZM407.1 1490.4A1.95 1.15 -90 1 0 407.1 1494.3A1.95 1.15 -90 1 0 407.1 1490.4ZM411.3 1493.5A1.95 1.15 -18 1 0 407.6 1494.7A1.95 1.15 -18 1 0 411.3 1493.5ZM409.7 1498.4A1.95 1.15 54 1 0 407.4 1495.3A1.95 1.15 54 1 0 409.7 1498.4ZM404.6 1498.4A1.95 1.15 126 1 0 406.9 1495.3A1.95 1.15 126 1 0 404.6 1498.4ZM403.0 1493.5A1.95 1.15 198 1 0 406.7 1494.7A1.95 1.15 198 1 0 403.0 1493.5ZM406.05 1494.85a1.10 1.10 0 1 0 2.20 0a1.10 1.10 0 1 0 -2.20 0ZM418.9 1490.4A1.95 1.15 -90 1 0 418.9 1494.3A1.95 1.15 -90 1 0 418.9 1490.4ZM423.1 1493.5A1.95 1.15 -18 1 0 419.4 1494.7A1.95 1.15 -18 1 0 423.1 1493.5ZM421.5 1498.4A1.95 1.15 54 1 0 419.2 1495.3A1.95 1.15 54 1 0 421.5 1498.4ZM416.4 1498.4A1.95 1.15 126 1 0 418.7 1495.3A1.95 1.15 126 1 0 416.4 1498.4ZM414.8 1493.5A1.95 1.15 198 1 0 418.5 1494.7A1.95 1.15 198 1 0 414.8 1493.5ZM417.85 1494.85a1.10 1.10 0 1 0 2.20 0a1.10 1.10 0 1 0 -2.20 0ZM426.9 1490.4A1.95 1.15 -90 1 0 426.9 1494.3A1.95 1.15 -90 1 0 426.9 1490.4ZM431.1 1493.5A1.95 1.15 -18 1 0 427.4 1494.7A1.95 1.15 -18 1 0 431.1 1493.5ZM429.5 1498.4A1.95 1.15 54 1 0 427.2 1495.3A1.95 1.15 54 1 0 429.5 1498.4ZM424.3 1498.4A1.95 1.15 126 1 0 426.6 1495.3A1.95 1.15 126 1 0 424.3 1498.4ZM422.7 1493.5A1.95 1.15 198 1 0 426.4 1494.7A1.95 1.15 198 1 0 422.7 1493.5ZM425.78 1494.85a1.10 1.10 0 1 0 2.20 0a1.10 1.10 0 1 0 -2.20 0ZM438.7 1490.4A1.95 1.15 -90 1 0 438.7 1494.3A1.95 1.15 -90 1 0 438.7 1490.4ZM442.9 1493.5A1.95 1.15 -18 1 0 439.2 1494.7A1.95 1.15 -18 1 0 442.9 1493.5ZM441.3 1498.4A1.95 1.15 54 1 0 439.0 1495.3A1.95 1.15 54 1 0 441.3 1498.4ZM436.1 1498.4A1.95 1.15 126 1 0 438.4 1495.3A1.95 1.15 126 1 0 436.1 1498.4ZM434.5 1493.5A1.95 1.15 198 1 0 438.2 1494.7A1.95 1.15 198 1 0 434.5 1493.5ZM437.58 1494.85a1.10 1.10 0 1 0 2.20 0a1.10 1.10 0 1 0 -2.20 0ZM450.5 1490.4A1.95 1.15 -90 1 0 450.5 1494.3A1.95 1.15 -90 1 0 450.5 1490.4ZM454.7 1493.5A1.95 1.15 -18 1 0 451.0 1494.7A1.95 1.15 -18 1 0 454.7 1493.5ZM453.1 1498.4A1.95 1.15 54 1 0 450.8 1495.3A1.95 1.15 54 1 0 453.1 1498.4ZM447.9 1498.4A1.95 1.15 126 1 0 450.2 1495.3A1.95 1.15 126 1 0 447.9 1498.4ZM446.3 1493.5A1.95 1.15 198 1 0 450.0 1494.7A1.95 1.15 198 1 0 446.3 1493.5ZM449.38 1494.85a1.10 1.10 0 1 0 2.20 0a1.10 1.10 0 1 0 -2.20 0ZM458.4 1490.4A1.95 1.15 -90 1 0 458.4 1494.3A1.95 1.15 -90 1 0 458.4 1490.4ZM462.6 1493.5A1.95 1.15 -18 1 0 458.9 1494.7A1.95 1.15 -18 1 0 462.6 1493.5ZM461.0 1498.4A1.95 1.15 54 1 0 458.7 1495.3A1.95 1.15 54 1 0 461.0 1498.4ZM455.8 1498.4A1.95 1.15 126 1 0 458.1 1495.3A1.95 1.15 126 1 0 455.8 1498.4ZM454.2 1493.5A1.95 1.15 198 1 0 457.9 1494.7A1.95 1.15 198 1 0 454.2 1493.5ZM457.32 1494.85a1.10 1.10 0 1 0 2.20 0a1.10 1.10 0 1 0 -2.20 0ZM470.2 1490.4A1.95 1.15 -90 1 0 470.2 1494.3A1.95 1.15 -90 1 0 470.2 1490.4ZM474.4 1493.5A1.95 1.15 -18 1 0 470.7 1494.7A1.95 1.15 -18 1 0 474.4 1493.5ZM472.8 1498.4A1.95 1.15 54 1 0 470.5 1495.3A1.95 1.15 54 1 0 472.8 1498.4ZM467.6 1498.4A1.95 1.15 126 1 0 469.9 1495.3A1.95 1.15 126 1 0 467.6 1498.4ZM466.0 1493.5A1.95 1.15 198 1 0 469.7 1494.7A1.95 1.15 198 1 0 466.0 1493.5ZM469.12 1494.85a1.10 1.10 0 1 0 2.20 0a1.10 1.10 0 1 0 -2.20 0ZM482.0 1490.4A1.95 1.15 -90 1 0 482.0 1494.3A1.95 1.15 -90 1 0 482.0 1490.4ZM486.2 1493.5A1.95 1.15 -18 1 0 482.5 1494.7A1.95 1.15 -18 1 0 486.2 1493.5ZM484.6 1498.4A1.95 1.15 54 1 0 482.3 1495.3A1.95 1.15 54 1 0 484.6 1498.4ZM479.4 1498.4A1.95 1.15 126 1 0 481.7 1495.3A1.95 1.15 126 1 0 479.4 1498.4ZM477.8 1493.5A1.95 1.15 198 1 0 481.5 1494.7A1.95 1.15 198 1 0 477.8 1493.5ZM480.92 1494.85a1.10 1.10 0 1 0 2.20 0a1.10 1.10 0 1 0 -2.20 0ZM527.4 1536.2A1.95 1.15 -90 1 0 527.4 1540.1A1.95 1.15 -90 1 0 527.4 1536.2ZM531.6 1539.2A1.95 1.15 -18 1 0 527.9 1540.4A1.95 1.15 -18 1 0 531.6 1539.2ZM530.0 1544.1A1.95 1.15 54 1 0 527.7 1541.0A1.95 1.15 54 1 0 530.0 1544.1ZM524.8 1544.1A1.95 1.15 126 1 0 527.1 1541.0A1.95 1.15 126 1 0 524.8 1544.1ZM523.2 1539.2A1.95 1.15 198 1 0 526.9 1540.4A1.95 1.15 198 1 0 523.2 1539.2ZM526.29 1540.58a1.10 1.10 0 1 0 2.20 0a1.10 1.10 0 1 0 -2.20 0ZM539.2 1536.2A1.95 1.15 -90 1 0 539.2 1540.1A1.95 1.15 -90 1 0 539.2 1536.2ZM543.4 1539.2A1.95 1.15 -18 1 0 539.7 1540.4A1.95 1.15 -18 1 0 543.4 1539.2ZM541.8 1544.1A1.95 1.15 54 1 0 539.5 1541.0A1.95 1.15 54 1 0 541.8 1544.1ZM536.6 1544.1A1.95 1.15 126 1 0 538.9 1541.0A1.95 1.15 126 1 0 536.6 1544.1ZM535.0 1539.2A1.95 1.15 198 1 0 538.7 1540.4A1.95 1.15 198 1 0 535.0 1539.2ZM538.09 1540.58a1.10 1.10 0 1 0 2.20 0a1.10 1.10 0 1 0 -2.20 0ZM533.3 1559.0A1.95 1.15 -90 1 0 533.3 1562.9A1.95 1.15 -90 1 0 533.3 1559.0ZM537.5 1562.1A1.95 1.15 -18 1 0 533.8 1563.3A1.95 1.15 -18 1 0 537.5 1562.1ZM535.9 1567.0A1.95 1.15 54 1 0 533.6 1563.8A1.95 1.15 54 1 0 535.9 1567.0ZM530.7 1567.0A1.95 1.15 126 1 0 533.0 1563.8A1.95 1.15 126 1 0 530.7 1567.0ZM529.1 1562.1A1.95 1.15 198 1 0 532.8 1563.3A1.95 1.15 198 1 0 529.1 1562.1ZM532.19 1563.44a1.10 1.10 0 1 0 2.20 0a1.10 1.10 0 1 0 -2.20 0ZM553.0 1559.0A1.95 1.15 -90 1 0 553.0 1562.9A1.95 1.15 -90 1 0 553.0 1559.0ZM557.2 1562.1A1.95 1.15 -18 1 0 553.5 1563.3A1.95 1.15 -18 1 0 557.2 1562.1ZM555.6 1567.0A1.95 1.15 54 1 0 553.3 1563.8A1.95 1.15 54 1 0 555.6 1567.0ZM550.4 1567.0A1.95 1.15 126 1 0 552.7 1563.8A1.95 1.15 126 1 0 550.4 1567.0ZM548.8 1562.1A1.95 1.15 198 1 0 552.5 1563.3A1.95 1.15 198 1 0 548.8 1562.1ZM551.92 1563.44a1.10 1.10 0 1 0 2.20 0a1.10 1.10 0 1 0 -2.20 0ZM564.8 1559.0A1.95 1.15 -90 1 0 564.8 1562.9A1.95 1.15 -90 1 0 564.8 1559.0ZM569.0 1562.1A1.95 1.15 -18 1 0 565.3 1563.3A1.95 1.15 -18 1 0 569.0 1562.1ZM567.4 1567.0A1.95 1.15 54 1 0 565.1 1563.8A1.95 1.15 54 1 0 567.4 1567.0ZM562.2 1567.0A1.95 1.15 126 1 0 564.5 1563.8A1.95 1.15 126 1 0 562.2 1567.0ZM560.6 1562.1A1.95 1.15 198 1 0 564.3 1563.3A1.95 1.15 198 1 0 560.6 1562.1ZM563.72 1563.44a1.10 1.10 0 1 0 2.20 0a1.10 1.10 0 1 0 -2.20 0ZM576.6 1559.0A1.95 1.15 -90 1 0 576.6 1562.9A1.95 1.15 -90 1 0 576.6 1559.0ZM580.8 1562.1A1.95 1.15 -18 1 0 577.1 1563.3A1.95 1.15 -18 1 0 580.8 1562.1ZM579.2 1567.0A1.95 1.15 54 1 0 576.9 1563.8A1.95 1.15 54 1 0 579.2 1567.0ZM574.0 1567.0A1.95 1.15 126 1 0 576.3 1563.8A1.95 1.15 126 1 0 574.0 1567.0ZM572.4 1562.1A1.95 1.15 198 1 0 576.1 1563.3A1.95 1.15 198 1 0 572.4 1562.1ZM575.52 1563.44a1.10 1.10 0 1 0 2.20 0a1.10 1.10 0 1 0 -2.20 0ZM521.5 1581.9A1.95 1.15 -90 1 0 521.5 1585.8A1.95 1.15 -90 1 0 521.5 1581.9ZM525.7 1584.9A1.95 1.15 -18 1 0 522.0 1586.2A1.95 1.15 -18 1 0 525.7 1584.9ZM524.1 1589.9A1.95 1.15 54 1 0 521.8 1586.7A1.95 1.15 54 1 0 524.1 1589.9ZM518.9 1589.9A1.95 1.15 126 1 0 521.2 1586.7A1.95 1.15 126 1 0 518.9 1589.9ZM517.3 1584.9A1.95 1.15 198 1 0 521.0 1586.2A1.95 1.15 198 1 0 517.3 1584.9ZM520.39 1586.31a1.10 1.10 0 1 0 2.20 0a1.10 1.10 0 1 0 -2.20 0ZM533.3 1581.9A1.95 1.15 -90 1 0 533.3 1585.8A1.95 1.15 -90 1 0 533.3 1581.9ZM537.5 1584.9A1.95 1.15 -18 1 0 533.8 1586.2A1.95 1.15 -18 1 0 537.5 1584.9ZM535.9 1589.9A1.95 1.15 54 1 0 533.6 1586.7A1.95 1.15 54 1 0 535.9 1589.9ZM530.7 1589.9A1.95 1.15 126 1 0 533.0 1586.7A1.95 1.15 126 1 0 530.7 1589.9ZM529.1 1584.9A1.95 1.15 198 1 0 532.8 1586.2A1.95 1.15 198 1 0 529.1 1584.9ZM532.19 1586.31a1.10 1.10 0 1 0 2.20 0a1.10 1.10 0 1 0 -2.20 0ZM545.1 1581.9A1.95 1.15 -90 1 0 545.1 1585.8A1.95 1.15 -90 1 0 545.1 1581.9ZM549.3 1584.9A1.95 1.15 -18 1 0 545.6 1586.2A1.95 1.15 -18 1 0 549.3 1584.9ZM547.7 1589.9A1.95 1.15 54 1 0 545.4 1586.7A1.95 1.15 54 1 0 547.7 1589.9ZM542.5 1589.9A1.95 1.15 126 1 0 544.8 1586.7A1.95 1.15 126 1 0 542.5 1589.9ZM540.9 1584.9A1.95 1.15 198 1 0 544.6 1586.2A1.95 1.15 198 1 0 540.9 1584.9ZM543.99 1586.31a1.10 1.10 0 1 0 2.20 0a1.10 1.10 0 1 0 -2.20 0ZM553.0 1581.9A1.95 1.15 -90 1 0 553.0 1585.8A1.95 1.15 -90 1 0 553.0 1581.9ZM557.2 1584.9A1.95 1.15 -18 1 0 553.5 1586.2A1.95 1.15 -18 1 0 557.2 1584.9ZM555.6 1589.9A1.95 1.15 54 1 0 553.3 1586.7A1.95 1.15 54 1 0 555.6 1589.9ZM550.4 1589.9A1.95 1.15 126 1 0 552.7 1586.7A1.95 1.15 126 1 0 550.4 1589.9ZM548.8 1584.9A1.95 1.15 198 1 0 552.5 1586.2A1.95 1.15 198 1 0 548.8 1584.9ZM551.92 1586.31a1.10 1.10 0 1 0 2.20 0a1.10 1.10 0 1 0 -2.20 0ZM564.8 1581.9A1.95 1.15 -90 1 0 564.8 1585.8A1.95 1.15 -90 1 0 564.8 1581.9ZM569.0 1584.9A1.95 1.15 -18 1 0 565.3 1586.2A1.95 1.15 -18 1 0 569.0 1584.9ZM567.4 1589.9A1.95 1.15 54 1 0 565.1 1586.7A1.95 1.15 54 1 0 567.4 1589.9ZM562.2 1589.9A1.95 1.15 126 1 0 564.5 1586.7A1.95 1.15 126 1 0 562.2 1589.9ZM560.6 1584.9A1.95 1.15 198 1 0 564.3 1586.2A1.95 1.15 198 1 0 560.6 1584.9ZM563.72 1586.31a1.10 1.10 0 1 0 2.20 0a1.10 1.10 0 1 0 -2.20 0ZM576.6 1581.9A1.95 1.15 -90 1 0 576.6 1585.8A1.95 1.15 -90 1 0 576.6 1581.9ZM580.8 1584.9A1.95 1.15 -18 1 0 577.1 1586.2A1.95 1.15 -18 1 0 580.8 1584.9ZM579.2 1589.9A1.95 1.15 54 1 0 576.9 1586.7A1.95 1.15 54 1 0 579.2 1589.9ZM574.0 1589.9A1.95 1.15 126 1 0 576.3 1586.7A1.95 1.15 126 1 0 574.0 1589.9ZM572.4 1584.9A1.95 1.15 198 1 0 576.1 1586.2A1.95 1.15 198 1 0 572.4 1584.9ZM575.52 1586.31a1.10 1.10 0 1 0 2.20 0a1.10 1.10 0 1 0 -2.20 0ZM584.6 1581.9A1.95 1.15 -90 1 0 584.6 1585.8A1.95 1.15 -90 1 0 584.6 1581.9ZM588.7 1584.9A1.95 1.15 -18 1 0 585.0 1586.2A1.95 1.15 -18 1 0 588.7 1584.9ZM587.1 1589.9A1.95 1.15 54 1 0 584.9 1586.7A1.95 1.15 54 1 0 587.1 1589.9ZM582.0 1589.9A1.95 1.15 126 1 0 584.3 1586.7A1.95 1.15 126 1 0 582.0 1589.9ZM580.4 1584.9A1.95 1.15 198 1 0 584.1 1586.2A1.95 1.15 198 1 0 580.4 1584.9ZM583.46 1586.31a1.10 1.10 0 1 0 2.20 0a1.10 1.10 0 1 0 -2.20 0ZM596.4 1581.9A1.95 1.15 -90 1 0 596.4 1585.8A1.95 1.15 -90 1 0 596.4 1581.9ZM600.5 1584.9A1.95 1.15 -18 1 0 596.8 1586.2A1.95 1.15 -18 1 0 600.5 1584.9ZM598.9 1589.9A1.95 1.15 54 1 0 596.7 1586.7A1.95 1.15 54 1 0 598.9 1589.9ZM593.8 1589.9A1.95 1.15 126 1 0 596.1 1586.7A1.95 1.15 126 1 0 593.8 1589.9ZM592.2 1584.9A1.95 1.15 198 1 0 595.9 1586.2A1.95 1.15 198 1 0 592.2 1584.9ZM595.26 1586.31a1.10 1.10 0 1 0 2.20 0a1.10 1.10 0 1 0 -2.20 0ZM608.2 1581.9A1.95 1.15 -90 1 0 608.2 1585.8A1.95 1.15 -90 1 0 608.2 1581.9ZM612.3 1584.9A1.95 1.15 -18 1 0 608.6 1586.2A1.95 1.15 -18 1 0 612.3 1584.9ZM610.7 1589.9A1.95 1.15 54 1 0 608.5 1586.7A1.95 1.15 54 1 0 610.7 1589.9ZM605.6 1589.9A1.95 1.15 126 1 0 607.9 1586.7A1.95 1.15 126 1 0 605.6 1589.9ZM604.0 1584.9A1.95 1.15 198 1 0 607.7 1586.2A1.95 1.15 198 1 0 604.0 1584.9ZM607.06 1586.31a1.10 1.10 0 1 0 2.20 0a1.10 1.10 0 1 0 -2.20 0ZM217.9 1604.8A1.95 1.15 -90 1 0 217.9 1608.7A1.95 1.15 -90 1 0 217.9 1604.8ZM222.1 1607.8A1.95 1.15 -18 1 0 218.4 1609.0A1.95 1.15 -18 1 0 222.1 1607.8ZM220.5 1612.7A1.95 1.15 54 1 0 218.2 1609.6A1.95 1.15 54 1 0 220.5 1612.7ZM215.4 1612.7A1.95 1.15 126 1 0 217.6 1609.6A1.95 1.15 126 1 0 215.4 1612.7ZM213.8 1607.8A1.95 1.15 198 1 0 217.5 1609.0A1.95 1.15 198 1 0 213.8 1607.8ZM216.84 1609.17a1.10 1.10 0 1 0 2.20 0a1.10 1.10 0 1 0 -2.20 0ZM300.7 1604.8A1.95 1.15 -90 1 0 300.7 1608.7A1.95 1.15 -90 1 0 300.7 1604.8ZM304.9 1607.8A1.95 1.15 -18 1 0 301.2 1609.0A1.95 1.15 -18 1 0 304.9 1607.8ZM303.3 1612.7A1.95 1.15 54 1 0 301.0 1609.6A1.95 1.15 54 1 0 303.3 1612.7ZM298.2 1612.7A1.95 1.15 126 1 0 300.4 1609.6A1.95 1.15 126 1 0 298.2 1612.7ZM296.6 1607.8A1.95 1.15 198 1 0 300.3 1609.0A1.95 1.15 198 1 0 296.6 1607.8ZM299.64 1609.17a1.10 1.10 0 1 0 2.20 0a1.10 1.10 0 1 0 -2.20 0ZM312.5 1604.8A1.95 1.15 -90 1 0 312.5 1608.7A1.95 1.15 -90 1 0 312.5 1604.8ZM316.7 1607.8A1.95 1.15 -18 1 0 313.0 1609.0A1.95 1.15 -18 1 0 316.7 1607.8ZM315.1 1612.7A1.95 1.15 54 1 0 312.8 1609.6A1.95 1.15 54 1 0 315.1 1612.7ZM310.0 1612.7A1.95 1.15 126 1 0 312.2 1609.6A1.95 1.15 126 1 0 310.0 1612.7ZM308.4 1607.8A1.95 1.15 198 1 0 312.1 1609.0A1.95 1.15 198 1 0 308.4 1607.8ZM311.44 1609.17a1.10 1.10 0 1 0 2.20 0a1.10 1.10 0 1 0 -2.20 0ZM324.3 1604.8A1.95 1.15 -90 1 0 324.3 1608.7A1.95 1.15 -90 1 0 324.3 1604.8ZM328.5 1607.8A1.95 1.15 -18 1 0 324.8 1609.0A1.95 1.15 -18 1 0 328.5 1607.8ZM326.9 1612.7A1.95 1.15 54 1 0 324.6 1609.6A1.95 1.15 54 1 0 326.9 1612.7ZM321.8 1612.7A1.95 1.15 126 1 0 324.0 1609.6A1.95 1.15 126 1 0 321.8 1612.7ZM320.2 1607.8A1.95 1.15 198 1 0 323.9 1609.0A1.95 1.15 198 1 0 320.2 1607.8ZM323.24 1609.17a1.10 1.10 0 1 0 2.20 0a1.10 1.10 0 1 0 -2.20 0ZM659.4 1627.6A1.95 1.15 -90 1 0 659.4 1631.5A1.95 1.15 -90 1 0 659.4 1627.6ZM663.6 1630.7A1.95 1.15 -18 1 0 659.9 1631.9A1.95 1.15 -18 1 0 663.6 1630.7ZM662.0 1635.6A1.95 1.15 54 1 0 659.7 1632.4A1.95 1.15 54 1 0 662.0 1635.6ZM656.8 1635.6A1.95 1.15 126 1 0 659.1 1632.4A1.95 1.15 126 1 0 656.8 1635.6ZM655.2 1630.7A1.95 1.15 198 1 0 659.0 1631.9A1.95 1.15 198 1 0 655.2 1630.7ZM658.33 1632.04a1.10 1.10 0 1 0 2.20 0a1.10 1.10 0 1 0 -2.20 0ZM217.9 1673.4A1.95 1.15 -90 1 0 217.9 1677.3A1.95 1.15 -90 1 0 217.9 1673.4ZM222.1 1676.4A1.95 1.15 -18 1 0 218.4 1677.6A1.95 1.15 -18 1 0 222.1 1676.4ZM220.5 1681.3A1.95 1.15 54 1 0 218.2 1678.2A1.95 1.15 54 1 0 220.5 1681.3ZM215.4 1681.3A1.95 1.15 126 1 0 217.6 1678.2A1.95 1.15 126 1 0 215.4 1681.3ZM213.8 1676.4A1.95 1.15 198 1 0 217.5 1677.6A1.95 1.15 198 1 0 213.8 1676.4ZM216.84 1677.77a1.10 1.10 0 1 0 2.20 0a1.10 1.10 0 1 0 -2.20 0Z"/>
<rect x="139.1" y="1234.5" width="630.7" height="457.3" fill="none" stroke="#3c3c3c" stroke-width="1.8"/>
<g font-family='"Liberation Serif", serif' font-weight="bold" font-size="18.0" text-anchor="end" fill="#000"><text x="133.8" y="1249.73">AN</text><text x="133.8" y="1271.9">AP</text><text x="133.8" y="1294.06">SOC</text><text x="132" y="1315.33">pH</text><text x="135.3" y="1338.39">Ca<tspan font-size="12.2" dy="-8.2" dx="0.8">2+</tspan></text><text x="133.8" y="1362.36">VWC</text><text x="133.8" y="1388.42">BD</text><text x="133.8" y="1411.39">NCP</text><text x="133.8" y="1434.85">CP</text><text x="133.8" y="1456.92">TP</text><text x="133.8" y="1480.28">SA</text><text x="133.8" y="1504.65">SP</text><text x="133.8" y="1528.11">Chao&#160;1</text><text x="133.8" y="1547.68">Pielou_e</text><text x="133.8" y="1574.14">Simpson</text><text x="133.8" y="1599.11">Shannon</text><text x="133.8" y="1624.37" font-style="italic">Paraglomus</text><text x="133.8" y="1644.04" font-style="italic">Glomus</text><text x="133.8" y="1666.1" font-style="italic">Ambispora</text><text x="135.3" y="1690.87" font-style="italic">Claroideoglomus</text></g>
<g font-family='"Liberation Serif", serif' font-weight="bold" font-size="19.8" text-anchor="end" fill="#000"><text x="162.47" y="1709" transform="rotate(-45 162.47 1709)">AN</text><text x="193.6" y="1709" transform="rotate(-45 193.6 1709)">AP</text><text x="230.13" y="1709" transform="rotate(-45 230.13 1709)">SOC</text><text x="255.26" y="1709" transform="rotate(-45 255.26 1709)">pH</text><text x="291.89" y="1709.5" transform="rotate(-45 291.89 1709.5)">Ca<tspan font-size="13.5" dy="-8.5" dx="0.8">2+</tspan></text><text x="321.12" y="1708" transform="rotate(-45 321.12 1708)">VWC</text><text x="349.15" y="1708.2" transform="rotate(-45 349.15 1708.2)">BD</text><text x="380.98" y="1709" transform="rotate(-45 380.98 1709)">NCP</text><text x="412.41" y="1709" transform="rotate(-45 412.41 1709)">CP</text><text x="443.84" y="1709" transform="rotate(-45 443.84 1709)">TP</text><text x="475.26" y="1709" transform="rotate(-45 475.26 1709)">SA</text><text x="508.19" y="1709" transform="rotate(-45 508.19 1709)">SP</text><text x="538.12" y="1709" transform="rotate(-45 538.12 1709)">Chao&#160;1</text><text x="569.55" y="1709" transform="rotate(-45 569.55 1709)">Pielou_e</text><text x="600.98" y="1709" transform="rotate(-45 600.98 1709)">Simpson</text><text x="632.41" y="1709" transform="rotate(-45 632.41 1709)">Shannon</text><text x="662.84" y="1710" transform="rotate(-45 662.84 1710)" font-style="italic">Paraglomus</text><text x="694.27" y="1710" transform="rotate(-45 694.27 1710)" font-style="italic">Glomus</text><text x="724.7" y="1710" transform="rotate(-45 724.7 1710)" font-style="italic">Ambispora</text><text x="759.13" y="1709" transform="rotate(-45 759.13 1709)" font-style="italic">Claroideoglomus</text></g>
<defs><linearGradient id="gc" x1="0" y1="0" x2="0" y2="1">
<stop offset="0" stop-color="#ff0000"/>
<stop offset="0.03" stop-color="#ff0707"/>
<stop offset="0.05" stop-color="#ff0f0f"/>
<stop offset="0.07" stop-color="#ff1919"/>
<stop offset="0.1" stop-color="#ff2424"/>
<stop offset="0.12" stop-color="#ff2f2f"/>
<stop offset="0.15" stop-color="#ff3b3b"/>
<stop offset="0.17" stop-color="#ff4747"/>
<stop offset="0.2" stop-color="#ff5353"/>
<stop offset="0.23" stop-color="#ff6060"/>
<stop offset="0.25" stop-color="#ff6d6d"/>
<stop offset="0.28" stop-color="#ff7b7b"/>
<stop offset="0.3" stop-color="#ff8989"/>
<stop offset="0.33" stop-color="#ff9797"/>
<stop offset="0.35" stop-color="#ffa5a5"/>
<stop offset="0.38" stop-color="#ffb4b4"/>
<stop offset="0.4" stop-color="#ffc2c2"/>
<stop offset="0.42" stop-color="#ffd1d1"/>
<stop offset="0.45" stop-color="#ffe0e0"/>
<stop offset="0.47" stop-color="#fff0f0"/>
<stop offset="0.5" stop-color="#ffffff"/>
<stop offset="0.53" stop-color="#f2f2fb"/>
<stop offset="0.55" stop-color="#e5e5f6"/>
<stop offset="0.57" stop-color="#d9d9f2"/>
<stop offset="0.6" stop-color="#ccccee"/>
<stop offset="0.62" stop-color="#bfbfea"/>
<stop offset="0.65" stop-color="#b2b2e6"/>
<stop offset="0.68" stop-color="#a6a6e1"/>
<stop offset="0.7" stop-color="#9999dd"/>
<stop offset="0.72" stop-color="#8c8cd9"/>
<stop offset="0.75" stop-color="#8080d4"/>
<stop offset="0.78" stop-color="#7373d0"/>
<stop offset="0.8" stop-color="#6666cc"/>
<stop offset="0.82" stop-color="#5959c8"/>
<stop offset="0.85" stop-color="#4c4cc4"/>
<stop offset="0.88" stop-color="#4040bf"/>
<stop offset="0.9" stop-color="#3333bb"/>
<stop offset="0.93" stop-color="#2626b7"/>
<stop offset="0.95" stop-color="#1a1ab2"/>
<stop offset="0.97" stop-color="#0d0dae"/>
<stop offset="1" stop-color="#0000aa"/>
</linearGradient></defs>
<rect x="778.7" y="1239.6" width="28.1" height="446.6" fill="url(#gc)" stroke="#333" stroke-width="1"/>
<path d="M806.8 1239.6H814M806.8 1284.26H814M806.8 1328.92H814M806.8 1373.58H814M806.8 1418.24H814M806.8 1462.9H814M806.8 1507.56H814M806.8 1552.22H814M806.8 1596.88H814M806.8 1641.54H814M806.8 1686.2H814" stroke="#444" stroke-width="1.3"/>
<g font-family='"Liberation Serif", serif' font-weight="bold" font-size="14.2" fill="#000"><text x="820.4" y="1244.9">1</text><text x="820.4" y="1289.56">0.8</text><text x="820.4" y="1334.22">0.6</text><text x="820.4" y="1378.88">0.4</text><text x="820.4" y="1423.54">0.2</text><text x="820.4" y="1468.2">0</text><text x="820.4" y="1512.86">-0.2</text><text x="820.4" y="1557.52">-0.4</text><text x="820.4" y="1602.18">-0.6</text><text x="820.4" y="1646.84">-0.8</text><text x="820.4" y="1691.5">-1</text></g>
<text x="50.3" y="1260.3" font-family='"Liberation Serif", serif' font-weight="bold" font-size="29.5">(c)</text>
<g font-family='"Liberation Serif", serif' font-weight="bold" font-style="italic" font-size="19.8"><text x="49.5" y="1826.6">p&lt;=0.05</text><text x="148.2" y="1826.6">p&lt;=0.01</text><text x="255.9" y="1826.6">p&lt;=0.001</text></g>
<path fill="#333" d="M41.5 1814.0A1.60 0.94 -90 1 0 41.5 1817.2A1.60 0.94 -90 1 0 41.5 1814.0ZM44.9 1816.5A1.60 0.94 -18 1 0 41.9 1817.5A1.60 0.94 -18 1 0 44.9 1816.5ZM43.6 1820.5A1.60 0.94 54 1 0 41.7 1817.9A1.60 0.94 54 1 0 43.6 1820.5ZM39.4 1820.5A1.60 0.94 126 1 0 41.3 1817.9A1.60 0.94 126 1 0 39.4 1820.5ZM38.1 1816.5A1.60 0.94 198 1 0 41.1 1817.5A1.60 0.94 198 1 0 38.1 1816.5ZM40.60 1817.60a0.90 0.90 0 1 0 1.80 0a0.90 0.90 0 1 0 -1.80 0ZM130.2 1814.0A1.60 0.94 -90 1 0 130.2 1817.2A1.60 0.94 -90 1 0 130.2 1814.0ZM133.6 1816.5A1.60 0.94 -18 1 0 130.6 1817.5A1.60 0.94 -18 1 0 133.6 1816.5ZM132.3 1820.5A1.60 0.94 54 1 0 130.4 1817.9A1.60 0.94 54 1 0 132.3 1820.5ZM128.1 1820.5A1.60 0.94 126 1 0 130.0 1817.9A1.60 0.94 126 1 0 128.1 1820.5ZM126.8 1816.5A1.60 0.94 198 1 0 129.8 1817.5A1.60 0.94 198 1 0 126.8 1816.5ZM129.30 1817.60a0.90 0.90 0 1 0 1.80 0a0.90 0.90 0 1 0 -1.80 0ZM139.8 1814.0A1.60 0.94 -90 1 0 139.8 1817.2A1.60 0.94 -90 1 0 139.8 1814.0ZM143.2 1816.5A1.60 0.94 -18 1 0 140.2 1817.5A1.60 0.94 -18 1 0 143.2 1816.5ZM141.9 1820.5A1.60 0.94 54 1 0 140.0 1817.9A1.60 0.94 54 1 0 141.9 1820.5ZM137.7 1820.5A1.60 0.94 126 1 0 139.6 1817.9A1.60 0.94 126 1 0 137.7 1820.5ZM136.4 1816.5A1.60 0.94 198 1 0 139.4 1817.5A1.60 0.94 198 1 0 136.4 1816.5ZM138.90 1817.60a0.90 0.90 0 1 0 1.80 0a0.90 0.90 0 1 0 -1.80 0ZM228.5 1814.0A1.60 0.94 -90 1 0 228.5 1817.2A1.60 0.94 -90 1 0 228.5 1814.0ZM231.9 1816.5A1.60 0.94 -18 1 0 228.9 1817.5A1.60 0.94 -18 1 0 231.9 1816.5ZM230.6 1820.5A1.60 0.94 54 1 0 228.7 1817.9A1.60 0.94 54 1 0 230.6 1820.5ZM226.4 1820.5A1.60 0.94 126 1 0 228.3 1817.9A1.60 0.94 126 1 0 226.4 1820.5ZM225.1 1816.5A1.60 0.94 198 1 0 228.1 1817.5A1.60 0.94 198 1 0 225.1 1816.5ZM227.60 1817.60a0.90 0.90 0 1 0 1.80 0a0.90 0.90 0 1 0 -1.80 0ZM238.1 1814.0A1.60 0.94 -90 1 0 238.1 1817.2A1.60 0.94 -90 1 0 238.1 1814.0ZM241.5 1816.5A1.60 0.94 -18 1 0 238.5 1817.5A1.60 0.94 -18 1 0 241.5 1816.5ZM240.2 1820.5A1.60 0.94 54 1 0 238.3 1817.9A1.60 0.94 54 1 0 240.2 1820.5ZM236.0 1820.5A1.60 0.94 126 1 0 237.9 1817.9A1.60 0.94 126 1 0 236.0 1820.5ZM234.7 1816.5A1.60 0.94 198 1 0 237.7 1817.5A1.60 0.94 198 1 0 234.7 1816.5ZM237.20 1817.60a0.90 0.90 0 1 0 1.80 0a0.90 0.90 0 1 0 -1.80 0ZM247.7 1814.0A1.60 0.94 -90 1 0 247.7 1817.2A1.60 0.94 -90 1 0 247.7 1814.0ZM251.1 1816.5A1.60 0.94 -18 1 0 248.1 1817.5A1.60 0.94 -18 1 0 251.1 1816.5ZM249.8 1820.5A1.60 0.94 54 1 0 247.9 1817.9A1.60 0.94 54 1 0 249.8 1820.5ZM245.6 1820.5A1.60 0.94 126 1 0 247.5 1817.9A1.60 0.94 126 1 0 245.6 1820.5ZM244.3 1816.5A1.60 0.94 198 1 0 247.3 1817.5A1.60 0.94 198 1 0 244.3 1816.5ZM246.80 1817.60a0.90 0.90 0 1 0 1.80 0a0.90 0.90 0 1 0 -1.80 0Z"/>
</svg>
</body></html>
